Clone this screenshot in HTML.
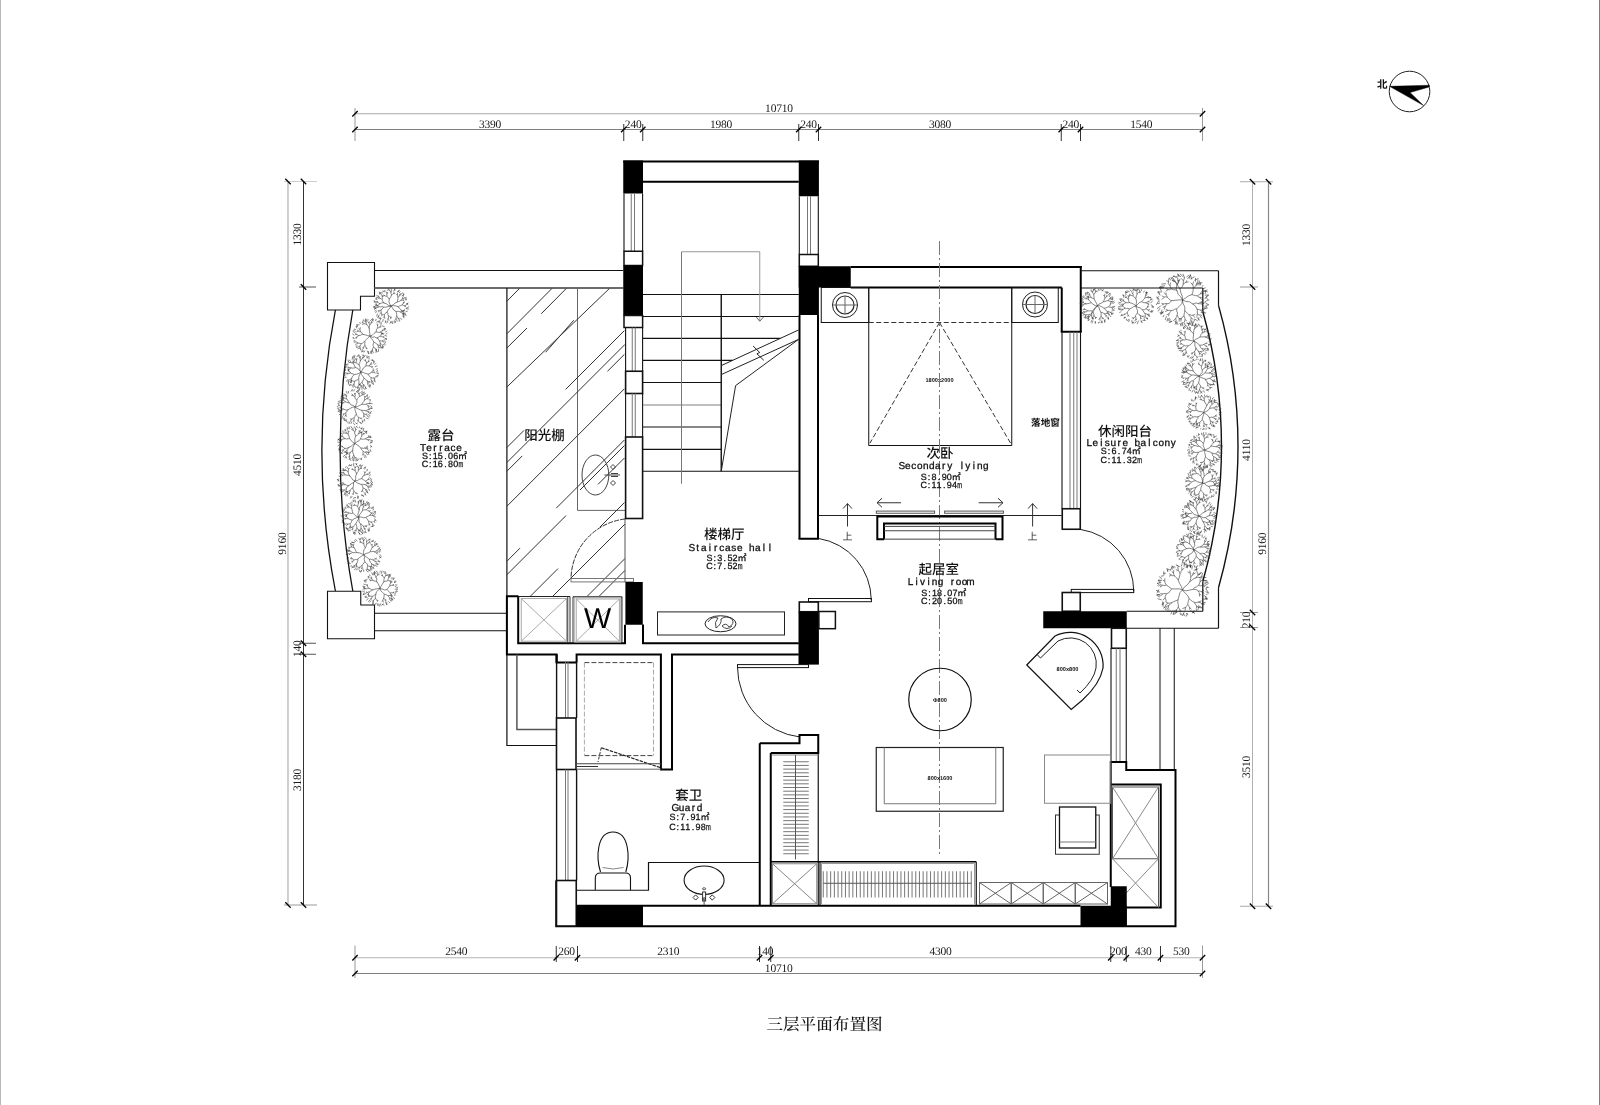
<!DOCTYPE html>
<html lang="zh"><head><meta charset="utf-8"><title>三层平面布置图</title>
<style>
html,body{margin:0;padding:0;background:#fff}
body{width:1600px;height:1105px;overflow:hidden}
svg{display:block;will-change:transform}
text{fill:#111;text-rendering:geometricPrecision}
.dim{font-family:"Liberation Serif","Noto Serif CJK SC",serif;font-size:11.5px;letter-spacing:-0.2px;fill:#1a1a1a}
.title{font-family:"Liberation Serif","Noto Serif CJK SC",serif;font-size:16.6px;fill:#111;font-weight:500}
.north{font-family:"Liberation Sans","Noto Sans CJK SC",sans-serif;font-size:10.5px;font-weight:700}
.cn{font-family:"Liberation Sans","Noto Sans CJK SC",sans-serif;font-size:13.5px;font-weight:500}
.cn2{font-family:"Liberation Sans","Noto Sans CJK SC",sans-serif;font-size:9.6px;font-weight:700}
.en{font-family:"Liberation Sans","Noto Sans CJK SC",sans-serif;font-size:10px;stroke:#111;stroke-width:0.3px}
.sm{font-family:"Liberation Sans","Noto Sans CJK SC",sans-serif;font-size:9px;stroke:#111;stroke-width:0.28px}
.tiny{font-family:"Liberation Sans","Noto Sans CJK SC",sans-serif;font-size:5.6px;fill:#111;font-weight:700}
.up{font-family:"Liberation Sans","Noto Sans CJK SC",sans-serif;font-size:10px;fill:#333;font-weight:400}
.bigw{font-family:"Liberation Sans","Noto Sans CJK SC",sans-serif;font-size:28.8px;fill:#000}
</style></head><body>
<svg width="1600" height="1105" viewBox="0 0 1600 1105">
<rect x="0" y="0" width="1600" height="1105" fill="#fff"/>
<rect x="0" y="0" width="1" height="1105" fill="#b8b8b8"/><rect x="1599" y="0" width="1" height="1105" fill="#808080"/>
<line x1="355" y1="113.75" x2="1202.5" y2="113.75" stroke="#a8a8a8" stroke-width="1"/>
<line x1="355" y1="129.5" x2="1202.5" y2="129.5" stroke="#808080" stroke-width="1"/>
<line x1="355" y1="108" x2="355" y2="141" stroke="#999" stroke-width="1"/>
<line x1="1202.5" y1="108" x2="1202.5" y2="141" stroke="#999" stroke-width="1"/>
<line x1="623.75" y1="124" x2="623.75" y2="141" stroke="#333" stroke-width="1"/>
<line x1="642.75" y1="124" x2="642.75" y2="141" stroke="#333" stroke-width="1"/>
<line x1="798.75" y1="124" x2="798.75" y2="141" stroke="#333" stroke-width="1"/>
<line x1="818.5" y1="124" x2="818.5" y2="141" stroke="#333" stroke-width="1"/>
<line x1="1061.25" y1="124" x2="1061.25" y2="141" stroke="#333" stroke-width="1"/>
<line x1="1080.5" y1="124" x2="1080.5" y2="141" stroke="#333" stroke-width="1"/>
<line x1="352.3" y1="116.45" x2="357.7" y2="111.05" stroke="#000" stroke-width="1.3"/>
<line x1="1199.8" y1="116.45" x2="1205.2" y2="111.05" stroke="#000" stroke-width="1.3"/>
<line x1="352.3" y1="132.2" x2="357.7" y2="126.8" stroke="#000" stroke-width="1.3"/>
<line x1="621.05" y1="132.2" x2="626.45" y2="126.8" stroke="#000" stroke-width="1.3"/>
<line x1="640.05" y1="132.2" x2="645.45" y2="126.8" stroke="#000" stroke-width="1.3"/>
<line x1="796.05" y1="132.2" x2="801.45" y2="126.8" stroke="#000" stroke-width="1.3"/>
<line x1="815.8" y1="132.2" x2="821.2" y2="126.8" stroke="#000" stroke-width="1.3"/>
<line x1="1058.55" y1="132.2" x2="1063.95" y2="126.8" stroke="#000" stroke-width="1.3"/>
<line x1="1077.8" y1="132.2" x2="1083.2" y2="126.8" stroke="#000" stroke-width="1.3"/>
<line x1="1199.8" y1="132.2" x2="1205.2" y2="126.8" stroke="#000" stroke-width="1.3"/>
<text x="779" y="111.7" class="dim" text-anchor="middle">10710</text>
<text x="490" y="127.7" class="dim" text-anchor="middle">3390</text>
<text x="633.2" y="127.7" class="dim" text-anchor="middle">240</text>
<text x="721" y="127.7" class="dim" text-anchor="middle">1980</text>
<text x="808.5" y="127.7" class="dim" text-anchor="middle">240</text>
<text x="940" y="127.7" class="dim" text-anchor="middle">3080</text>
<text x="1070.75" y="127.7" class="dim" text-anchor="middle">240</text>
<text x="1141.25" y="127.7" class="dim" text-anchor="middle">1540</text>
<line x1="355" y1="957.75" x2="1202.5" y2="957.75" stroke="#b4b4b4" stroke-width="1"/>
<line x1="355" y1="973.5" x2="1202.5" y2="973.5" stroke="#808080" stroke-width="1"/>
<line x1="355" y1="945.5" x2="355" y2="978" stroke="#999" stroke-width="1"/>
<line x1="1202.5" y1="945.5" x2="1202.5" y2="978" stroke="#999" stroke-width="1"/>
<line x1="556.25" y1="946" x2="556.25" y2="962" stroke="#333" stroke-width="1"/>
<line x1="577.5" y1="946" x2="577.5" y2="962" stroke="#333" stroke-width="1"/>
<line x1="759.5" y1="946" x2="759.5" y2="962" stroke="#333" stroke-width="1"/>
<line x1="770.75" y1="946" x2="770.75" y2="962" stroke="#333" stroke-width="1"/>
<line x1="1110.75" y1="946" x2="1110.75" y2="962" stroke="#333" stroke-width="1"/>
<line x1="1126.25" y1="946" x2="1126.25" y2="962" stroke="#333" stroke-width="1"/>
<line x1="1160.5" y1="946" x2="1160.5" y2="962" stroke="#333" stroke-width="1"/>
<line x1="352.3" y1="976.2" x2="357.7" y2="970.8" stroke="#000" stroke-width="1.3"/>
<line x1="1199.8" y1="976.2" x2="1205.2" y2="970.8" stroke="#000" stroke-width="1.3"/>
<line x1="352.3" y1="960.45" x2="357.7" y2="955.05" stroke="#000" stroke-width="1.3"/>
<line x1="553.55" y1="960.45" x2="558.95" y2="955.05" stroke="#000" stroke-width="1.3"/>
<line x1="574.8" y1="960.45" x2="580.2" y2="955.05" stroke="#000" stroke-width="1.3"/>
<line x1="756.8" y1="960.45" x2="762.2" y2="955.05" stroke="#000" stroke-width="1.3"/>
<line x1="768.05" y1="960.45" x2="773.45" y2="955.05" stroke="#000" stroke-width="1.3"/>
<line x1="1108.05" y1="960.45" x2="1113.45" y2="955.05" stroke="#000" stroke-width="1.3"/>
<line x1="1123.55" y1="960.45" x2="1128.95" y2="955.05" stroke="#000" stroke-width="1.3"/>
<line x1="1157.8" y1="960.45" x2="1163.2" y2="955.05" stroke="#000" stroke-width="1.3"/>
<line x1="1199.8" y1="960.45" x2="1205.2" y2="955.05" stroke="#000" stroke-width="1.3"/>
<text x="456.25" y="955.2" class="dim" text-anchor="middle">2540</text>
<text x="566.5" y="955.2" class="dim" text-anchor="middle">260</text>
<text x="668.25" y="955.2" class="dim" text-anchor="middle">2310</text>
<text x="765" y="955.2" class="dim" text-anchor="middle">140</text>
<text x="940.5" y="955.2" class="dim" text-anchor="middle">4300</text>
<text x="1118.25" y="955.2" class="dim" text-anchor="middle">200</text>
<text x="1143.25" y="955.2" class="dim" text-anchor="middle">430</text>
<text x="1181.25" y="955.2" class="dim" text-anchor="middle">530</text>
<text x="778.75" y="971.7" class="dim" text-anchor="middle">10710</text>
<line x1="288" y1="181.5" x2="288" y2="905" stroke="#b0b0b0" stroke-width="1.2"/>
<line x1="303.5" y1="181.5" x2="303.5" y2="905" stroke="#333" stroke-width="1"/>
<line x1="284" y1="181.5" x2="317" y2="181.5" stroke="#ccc" stroke-width="1"/>
<line x1="284" y1="905" x2="317" y2="905" stroke="#999" stroke-width="1"/>
<line x1="299" y1="287" x2="316" y2="287" stroke="#555" stroke-width="1"/>
<line x1="299" y1="643.25" x2="316" y2="643.25" stroke="#555" stroke-width="1"/>
<line x1="299" y1="654.25" x2="316" y2="654.25" stroke="#555" stroke-width="1"/>
<line x1="285.3" y1="178.8" x2="290.7" y2="184.2" stroke="#000" stroke-width="1.3"/>
<line x1="285.3" y1="902.3" x2="290.7" y2="907.7" stroke="#000" stroke-width="1.3"/>
<line x1="300.8" y1="178.8" x2="306.2" y2="184.2" stroke="#000" stroke-width="1.3"/>
<line x1="300.8" y1="284.3" x2="306.2" y2="289.7" stroke="#000" stroke-width="1.3"/>
<line x1="300.8" y1="640.55" x2="306.2" y2="645.95" stroke="#000" stroke-width="1.3"/>
<line x1="300.8" y1="651.55" x2="306.2" y2="656.95" stroke="#000" stroke-width="1.3"/>
<line x1="300.8" y1="902.3" x2="306.2" y2="907.7" stroke="#000" stroke-width="1.3"/>
<text x="301.3" y="234.5" class="dim" text-anchor="middle" transform="rotate(-90 301.3 234.5)">1330</text>
<text x="301.3" y="465" class="dim" text-anchor="middle" transform="rotate(-90 301.3 465)">4510</text>
<text x="301.3" y="648.75" class="dim" text-anchor="middle" transform="rotate(-90 301.3 648.75)">140</text>
<text x="301.3" y="780" class="dim" text-anchor="middle" transform="rotate(-90 301.3 780)">3180</text>
<text x="286.3" y="543.6" class="dim" text-anchor="middle" transform="rotate(-90 286.3 543.6)">9160</text>
<line x1="1252.5" y1="181.75" x2="1252.5" y2="906.25" stroke="#b0b0b0" stroke-width="1"/>
<line x1="1268.5" y1="181.75" x2="1268.5" y2="906.25" stroke="#888" stroke-width="1.2"/>
<line x1="1240" y1="181.75" x2="1273" y2="181.75" stroke="#aaa" stroke-width="1"/>
<line x1="1240" y1="906.25" x2="1273" y2="906.25" stroke="#aaa" stroke-width="1"/>
<line x1="1240" y1="287" x2="1258" y2="287" stroke="#999" stroke-width="1"/>
<line x1="1240" y1="612.5" x2="1258" y2="612.5" stroke="#999" stroke-width="1"/>
<line x1="1240" y1="627.5" x2="1258" y2="627.5" stroke="#999" stroke-width="1"/>
<line x1="1265.8" y1="179.05" x2="1271.2" y2="184.45" stroke="#000" stroke-width="1.3"/>
<line x1="1265.8" y1="903.55" x2="1271.2" y2="908.95" stroke="#000" stroke-width="1.3"/>
<line x1="1249.8" y1="179.05" x2="1255.2" y2="184.45" stroke="#000" stroke-width="1.3"/>
<line x1="1249.8" y1="284.3" x2="1255.2" y2="289.7" stroke="#000" stroke-width="1.3"/>
<line x1="1249.8" y1="609.8" x2="1255.2" y2="615.2" stroke="#000" stroke-width="1.3"/>
<line x1="1249.8" y1="624.8" x2="1255.2" y2="630.2" stroke="#000" stroke-width="1.3"/>
<line x1="1249.8" y1="903.55" x2="1255.2" y2="908.95" stroke="#000" stroke-width="1.3"/>
<text x="1250.3" y="235" class="dim" text-anchor="middle" transform="rotate(-90 1250.3 235)">1330</text>
<text x="1250.3" y="450" class="dim" text-anchor="middle" transform="rotate(-90 1250.3 450)">4110</text>
<text x="1250.3" y="620" class="dim" text-anchor="middle" transform="rotate(-90 1250.3 620)">210</text>
<text x="1250.3" y="767" class="dim" text-anchor="middle" transform="rotate(-90 1250.3 767)">3510</text>
<text x="1266.2" y="543.75" class="dim" text-anchor="middle" transform="rotate(-90 1266.2 543.75)">9160</text>
<circle cx="1409.55" cy="91.5" r="20.3" fill="none" stroke="#222" stroke-width="1"/>
<path d="M1389.4 86.3 L1429.3 85.2 L1429.3 86.9 L1410.1 92.6 L1423.6 105.6 Z" fill="#000" stroke="#000" stroke-width="0.4" stroke-linejoin="miter"/>
<text x="1382.25" y="88.1" class="north" text-anchor="middle">北</text>
<text x="824.5" y="1030" class="title" text-anchor="middle">三层平面布置图</text>
<path d="M327.5 262.5 L374.5 262.5 L374.5 296.25 L360.5 296.25 L360.5 310 L327.5 310 Z" fill="none" stroke="#111" stroke-width="1.1" stroke-linejoin="miter"/>
<path d="M327.5 591.25 L360.75 591.25 L360.75 605 L374.5 605 L374.5 638.75 L327.5 638.75 Z" fill="none" stroke="#111" stroke-width="1.1" stroke-linejoin="miter"/>
<line x1="374.5" y1="270.5" x2="623.25" y2="270.5" stroke="#111" stroke-width="1.2"/>
<line x1="374.5" y1="288" x2="623.25" y2="288" stroke="#6a6a6a" stroke-width="1.8"/>
<line x1="374.5" y1="613.25" x2="507" y2="613.25" stroke="#111" stroke-width="1.2"/>
<line x1="374.5" y1="630.75" x2="507" y2="630.75" stroke="#111" stroke-width="1.2"/>
<path d="M335.4 310 A743 743 0 0 0 335.4 591" fill="none" stroke="#111" stroke-width="1.3"/>
<path d="M352.8 310 A790 790 0 0 0 352.8 591" fill="none" stroke="#111" stroke-width="1.3"/>
<line x1="506.9" y1="288" x2="506.9" y2="596" stroke="#111" stroke-width="1.2"/>
<line x1="577.5" y1="288" x2="577.5" y2="510.4" stroke="#666" stroke-width="1"/>
<line x1="577.5" y1="510.4" x2="625" y2="510.4" stroke="#666" stroke-width="1"/>
<line x1="506.9" y1="301.25" x2="519.4" y2="288.5" stroke="#333" stroke-width="1"/>
<line x1="506.9" y1="333.75" x2="551.9" y2="288.5" stroke="#333" stroke-width="1"/>
<line x1="541.25" y1="313.75" x2="566.25" y2="288.5" stroke="#333" stroke-width="1"/>
<line x1="506.9" y1="348" x2="527" y2="328" stroke="#333" stroke-width="1"/>
<line x1="506.9" y1="387" x2="609.4" y2="288.5" stroke="#333" stroke-width="1"/>
<line x1="545.6" y1="352.25" x2="573.75" y2="320.25" stroke="#333" stroke-width="1"/>
<line x1="565.6" y1="389.4" x2="624.4" y2="330.6" stroke="#333" stroke-width="1"/>
<line x1="506.9" y1="462.5" x2="625" y2="344.4" stroke="#333" stroke-width="1"/>
<line x1="607.5" y1="371.25" x2="624.4" y2="354.4" stroke="#333" stroke-width="1"/>
<line x1="506.9" y1="506.25" x2="624.4" y2="388.75" stroke="#333" stroke-width="1"/>
<line x1="506.9" y1="447.5" x2="524" y2="430.4" stroke="#333" stroke-width="1"/>
<line x1="506.9" y1="471.25" x2="522.25" y2="455.9" stroke="#333" stroke-width="1"/>
<line x1="556.25" y1="508.15" x2="624.4" y2="440" stroke="#333" stroke-width="1"/>
<line x1="580" y1="490" x2="624.4" y2="445.6" stroke="#333" stroke-width="1"/>
<line x1="598" y1="484.4" x2="624.4" y2="458" stroke="#333" stroke-width="1"/>
<line x1="506.9" y1="574.7" x2="566" y2="515.6" stroke="#333" stroke-width="1"/>
<line x1="600" y1="527" x2="624.4" y2="502.6" stroke="#333" stroke-width="1"/>
<line x1="553" y1="596" x2="625" y2="524" stroke="#333" stroke-width="1"/>
<line x1="506.9" y1="561.25" x2="520" y2="548.15" stroke="#333" stroke-width="1"/>
<line x1="530.6" y1="596" x2="558" y2="568.6" stroke="#333" stroke-width="1"/>
<line x1="587.5" y1="596" x2="625" y2="558.5" stroke="#333" stroke-width="1"/>
<line x1="599.4" y1="596" x2="625" y2="570.4" stroke="#333" stroke-width="1"/>
<ellipse cx="595.4" cy="475" rx="13.4" ry="20" fill="none" stroke="#444" stroke-width="1"/>
<line x1="604.4" y1="475" x2="620" y2="475" stroke="#444" stroke-width="1"/>
<line x1="611" y1="473.5" x2="618" y2="473.5" stroke="#444" stroke-width="1"/>
<line x1="611" y1="476.5" x2="618" y2="476.5" stroke="#444" stroke-width="1"/>
<path d="M613 464.5 L615.5 467 L613 469.5 L610.5 467 Z" fill="none" stroke="#444" stroke-width="1" stroke-linejoin="miter"/>
<path d="M613 480.5 L615.5 483 L613 485.5 L610.5 483 Z" fill="none" stroke="#444" stroke-width="1" stroke-linejoin="miter"/>
<path d="M625 519 A61 61 0 0 0 571 579" fill="none" stroke="#333" stroke-width="1" stroke-dasharray="5 1.2"/>
<rect x="571" y="578.5" width="62.5" height="3.4" fill="none" stroke="#777" stroke-width="1"/>
<line x1="625" y1="518.5" x2="625" y2="582" stroke="#555" stroke-width="1"/>
<rect x="623.25" y="160.5" width="19.75" height="33" fill="#000"/>
<rect x="798.75" y="160.5" width="20.15" height="35.75" fill="#000"/>
<line x1="623.25" y1="161.5" x2="818.9" y2="161.5" stroke="#000" stroke-width="2"/>
<line x1="643" y1="181.75" x2="798.75" y2="181.75" stroke="#000" stroke-width="2"/>
<line x1="624" y1="193.5" x2="624" y2="251.25" stroke="#111" stroke-width="1.1"/>
<line x1="642.6" y1="193.5" x2="642.6" y2="251.25" stroke="#111" stroke-width="1.1"/>
<line x1="631.25" y1="193.5" x2="631.25" y2="251.25" stroke="#777" stroke-width="1"/>
<line x1="634.5" y1="193.5" x2="634.5" y2="251.25" stroke="#777" stroke-width="1"/>
<rect x="624" y="251.25" width="18.6" height="14.25" fill="#fff" stroke="#111" stroke-width="1.5"/>
<rect x="623.25" y="265.5" width="19.75" height="50" fill="#000"/>
<rect x="624" y="315.5" width="18.6" height="12" fill="#fff" stroke="#111" stroke-width="1.5"/>
<line x1="625.6" y1="327.5" x2="625.6" y2="371.25" stroke="#111" stroke-width="1.1"/>
<line x1="642.6" y1="327.5" x2="642.6" y2="371.25" stroke="#111" stroke-width="1.1"/>
<line x1="632.25" y1="327.5" x2="632.25" y2="371.25" stroke="#777" stroke-width="1"/>
<line x1="635.25" y1="327.5" x2="635.25" y2="371.25" stroke="#777" stroke-width="1"/>
<rect x="625.6" y="371.25" width="17" height="22.25" fill="#fff" stroke="#111" stroke-width="1.6"/>
<line x1="625.6" y1="393.5" x2="625.6" y2="437" stroke="#111" stroke-width="1.1"/>
<line x1="642.6" y1="393.5" x2="642.6" y2="437" stroke="#111" stroke-width="1.1"/>
<line x1="632.25" y1="393.5" x2="632.25" y2="437" stroke="#777" stroke-width="1"/>
<line x1="635.25" y1="393.5" x2="635.25" y2="437" stroke="#777" stroke-width="1"/>
<rect x="625.6" y="437" width="17" height="81.5" fill="#fff" stroke="#111" stroke-width="1.6"/>
<rect x="625.4" y="582" width="17.35" height="42.75" fill="#000"/>
<line x1="799.3" y1="196.25" x2="799.3" y2="254.5" stroke="#111" stroke-width="1.1"/>
<line x1="818.3" y1="196.25" x2="818.3" y2="254.5" stroke="#111" stroke-width="1.1"/>
<line x1="807.5" y1="196.25" x2="807.5" y2="254.5" stroke="#777" stroke-width="1"/>
<line x1="810.5" y1="196.25" x2="810.5" y2="254.5" stroke="#777" stroke-width="1"/>
<rect x="799.3" y="254.5" width="19" height="11.75" fill="#fff" stroke="#111" stroke-width="1.5"/>
<rect x="798.75" y="266.25" width="20.15" height="48.75" fill="#000"/>
<rect x="798.75" y="266.25" width="52" height="21.25" fill="#000"/>
<line x1="799.5" y1="315" x2="799.5" y2="538.75" stroke="#000" stroke-width="2"/>
<line x1="818" y1="315" x2="818" y2="538.75" stroke="#000" stroke-width="2"/>
<line x1="798.5" y1="538.75" x2="819" y2="538.75" stroke="#000" stroke-width="2"/>
<line x1="643" y1="294.5" x2="798.75" y2="294.5" stroke="#111" stroke-width="1.2"/>
<line x1="643" y1="316.5" x2="798.75" y2="316.5" stroke="#111" stroke-width="1.2"/>
<line x1="643" y1="338.4" x2="780.6" y2="338.4" stroke="#111" stroke-width="1.2"/>
<line x1="643" y1="360.4" x2="733" y2="360.4" stroke="#111" stroke-width="1.2"/>
<line x1="643" y1="382.5" x2="721.25" y2="382.5" stroke="#111" stroke-width="1.2"/>
<line x1="643" y1="427" x2="721.25" y2="427" stroke="#111" stroke-width="1.2"/>
<line x1="643" y1="449.4" x2="721.25" y2="449.4" stroke="#111" stroke-width="1.2"/>
<line x1="643" y1="405" x2="721.25" y2="405" stroke="#aaa" stroke-width="1.3"/>
<line x1="643" y1="471.25" x2="798.75" y2="471.25" stroke="#111" stroke-width="1.2"/>
<line x1="721.25" y1="294.5" x2="721.25" y2="471.25" stroke="#111" stroke-width="1.4"/>
<line x1="681.5" y1="251.75" x2="681.5" y2="483.75" stroke="#777" stroke-width="1"/>
<line x1="681.5" y1="251.75" x2="759.75" y2="251.75" stroke="#999" stroke-width="1"/>
<line x1="759.75" y1="251.75" x2="759.75" y2="321" stroke="#999" stroke-width="1"/>
<path d="M756.25 317 L759.75 321.25 L763.5 317" fill="none" stroke="#666" stroke-width="1" stroke-linejoin="miter"/>
<line x1="721.25" y1="365.6" x2="798.5" y2="330" stroke="#222" stroke-width="1"/>
<line x1="721.25" y1="374.6" x2="798.5" y2="339.4" stroke="#222" stroke-width="1"/>
<path d="M753.1 346 L759.75 352.5 L756.9 353.75 L763.75 360.25" fill="none" stroke="#222" stroke-width="1" stroke-linejoin="miter"/>
<path d="M798.5 339.4 L735.6 385.6 L721.25 471.25" fill="none" stroke="#222" stroke-width="1" stroke-linejoin="miter"/>
<line x1="850.75" y1="267" x2="1081.75" y2="267" stroke="#000" stroke-width="2"/>
<line x1="850.75" y1="287.5" x2="1061.75" y2="287.5" stroke="#000" stroke-width="2"/>
<line x1="1080.75" y1="266" x2="1080.75" y2="331.75" stroke="#000" stroke-width="2"/>
<line x1="1061.75" y1="287.5" x2="1061.75" y2="331.75" stroke="#000" stroke-width="2"/>
<line x1="1060.75" y1="331.75" x2="1081.75" y2="331.75" stroke="#000" stroke-width="2"/>
<line x1="1062" y1="331.75" x2="1062" y2="508.75" stroke="#111" stroke-width="1.1"/>
<line x1="1080.5" y1="331.75" x2="1080.5" y2="508.75" stroke="#111" stroke-width="1.1"/>
<line x1="1070" y1="331.75" x2="1070" y2="508.75" stroke="#777" stroke-width="1"/>
<line x1="1073.75" y1="331.75" x2="1073.75" y2="508.75" stroke="#777" stroke-width="1"/>
<line x1="1077" y1="331.75" x2="1077" y2="508.75" stroke="#777" stroke-width="1"/>
<rect x="1062.25" y="508.75" width="18" height="20.5" fill="#fff" stroke="#111" stroke-width="1.6"/>
<line x1="818.75" y1="515.5" x2="1061.75" y2="515.5" stroke="#222" stroke-width="1"/>
<rect x="821.25" y="287.5" width="47.5" height="35" fill="none" stroke="#111" stroke-width="1"/>
<rect x="1011.75" y="287.5" width="46.5" height="35" fill="none" stroke="#111" stroke-width="1"/>
<circle cx="845" cy="305" r="12.5" fill="none" stroke="#222" stroke-width="1"/>
<circle cx="845" cy="305" r="9" fill="none" stroke="#222" stroke-width="1.2"/>
<line x1="833" y1="305" x2="857" y2="305" stroke="#666" stroke-width="1"/>
<line x1="845" y1="296" x2="845" y2="314" stroke="#666" stroke-width="1"/>
<circle cx="1035" cy="304.5" r="12.5" fill="none" stroke="#222" stroke-width="1"/>
<circle cx="1035" cy="304.5" r="9" fill="none" stroke="#222" stroke-width="1.2"/>
<line x1="1023" y1="304.5" x2="1047" y2="304.5" stroke="#666" stroke-width="1"/>
<line x1="1035" y1="295.5" x2="1035" y2="313.5" stroke="#666" stroke-width="1"/>
<line x1="868.75" y1="287.5" x2="868.75" y2="445.5" stroke="#111" stroke-width="1"/>
<line x1="1011.75" y1="287.5" x2="1011.75" y2="445.5" stroke="#111" stroke-width="1"/>
<line x1="868.75" y1="445.5" x2="1011.75" y2="445.5" stroke="#111" stroke-width="1"/>
<line x1="868.75" y1="322.5" x2="1011.75" y2="322.5" stroke="#333" stroke-width="1" stroke-dasharray="5 2.5"/>
<line x1="939.5" y1="322.5" x2="870" y2="443" stroke="#333" stroke-width="1" stroke-dasharray="5 2.5"/>
<line x1="939.5" y1="322.5" x2="1010.5" y2="443" stroke="#333" stroke-width="1" stroke-dasharray="5 2.5"/>
<text x="939.5" y="381.5" class="tiny" text-anchor="middle">1800x2000</text>
<line x1="939.5" y1="241" x2="939.5" y2="856" stroke="#777" stroke-width="1" stroke-dasharray="14 3 2 3"/>
<rect x="876.35" y="511.1" width="58.25" height="2.15" fill="none" stroke="#555" stroke-width="1"/>
<rect x="944.6" y="511.1" width="58.8" height="2.15" fill="none" stroke="#555" stroke-width="1"/>
<path d="M884 539.15 L877.3 539.15 L877.3 516.4 L1002.5 516.4 L1002.5 539.15 L995.5 539.15" fill="none" stroke="#000" stroke-width="2" stroke-linejoin="miter"/>
<path d="M884 539.15 L884 523.4 L995.5 523.4 L995.5 539.15" fill="none" stroke="#000" stroke-width="2" stroke-linejoin="miter"/>
<line x1="884" y1="526.4" x2="995.5" y2="526.4" stroke="#444" stroke-width="1"/>
<line x1="884" y1="530.75" x2="995.5" y2="530.75" stroke="#444" stroke-width="1"/>
<line x1="884" y1="539.15" x2="995.5" y2="539.15" stroke="#444" stroke-width="1"/>
<line x1="877" y1="502.75" x2="901" y2="502.75" stroke="#333" stroke-width="1"/>
<path d="M882 498.25 L877 502.75 L882 507.25" fill="none" stroke="#333" stroke-width="1" stroke-linejoin="miter"/>
<line x1="978.7" y1="502.75" x2="1003" y2="502.75" stroke="#333" stroke-width="1"/>
<path d="M998 498.25 L1003 502.75 L998 507.25" fill="none" stroke="#333" stroke-width="1" stroke-linejoin="miter"/>
<line x1="847.5" y1="503.6" x2="847.5" y2="526.5" stroke="#333" stroke-width="1"/>
<path d="M843 508.6 L847.5 503.6 L852 508.6" fill="none" stroke="#333" stroke-width="1" stroke-linejoin="miter"/>
<text x="847.5" y="539.6" class="up" text-anchor="middle">上</text>
<line x1="1032.6" y1="503.6" x2="1032.6" y2="526.5" stroke="#333" stroke-width="1"/>
<path d="M1028.1 508.6 L1032.6 503.6 L1037.1 508.6" fill="none" stroke="#333" stroke-width="1" stroke-linejoin="miter"/>
<text x="1032.6" y="539.6" class="up" text-anchor="middle">上</text>
<line x1="1080.75" y1="270.75" x2="1218.5" y2="270.75" stroke="#111" stroke-width="1.2"/>
<line x1="1080.75" y1="288" x2="1202.8" y2="288" stroke="#111" stroke-width="1.2"/>
<line x1="1218.5" y1="270.75" x2="1218.5" y2="305.4" stroke="#111" stroke-width="1.2"/>
<line x1="1202.8" y1="288" x2="1202.8" y2="311.5" stroke="#111" stroke-width="1.2"/>
<path d="M1218.5 305.4 A520.6 520.6 0 0 1 1218.5 587.7" fill="none" stroke="#111" stroke-width="1.4"/>
<path d="M1202.8 311.5 A496.7 496.7 0 0 1 1202.8 581.5" fill="none" stroke="#111" stroke-width="1.4"/>
<line x1="1218.5" y1="587.7" x2="1218.5" y2="628.25" stroke="#111" stroke-width="1.2"/>
<line x1="1202.8" y1="581.5" x2="1202.8" y2="611.25" stroke="#111" stroke-width="1.2"/>
<line x1="1126.75" y1="611.25" x2="1202.8" y2="611.25" stroke="#111" stroke-width="1.2"/>
<line x1="1126.75" y1="628.25" x2="1218.5" y2="628.25" stroke="#111" stroke-width="1.2"/>
<path d="M1080.75 529.5 A62.5 62.5 0 0 1 1133.75 591.25" fill="none" stroke="#222" stroke-width="1"/>
<rect x="1071.25" y="589.4" width="62.5" height="3.2" fill="none" stroke="#111" stroke-width="1"/>
<rect x="1062.25" y="592.5" width="18" height="18.75" fill="#fff" stroke="#111" stroke-width="1.6"/>
<rect x="1043.25" y="611.25" width="83.5" height="17" fill="#000"/>
<rect x="1111.5" y="628.25" width="14.75" height="20" fill="#fff" stroke="#111" stroke-width="1.6"/>
<line x1="1111" y1="648.25" x2="1111" y2="761.25" stroke="#111" stroke-width="1.1"/>
<line x1="1126.25" y1="648.25" x2="1126.25" y2="761.25" stroke="#111" stroke-width="1.1"/>
<line x1="1116.25" y1="648.25" x2="1116.25" y2="761.25" stroke="#777" stroke-width="1"/>
<line x1="1120" y1="648.25" x2="1120" y2="761.25" stroke="#777" stroke-width="1"/>
<line x1="1160" y1="628.25" x2="1160" y2="770" stroke="#111" stroke-width="1"/>
<line x1="1174.25" y1="628.25" x2="1174.25" y2="770" stroke="#111" stroke-width="1"/>
<path d="M1110.75 762 L1126.25 762 L1126.25 770 L1175.5 770 L1175.5 926.25 L556.25 926.25 L556.25 880.5" fill="none" stroke="#000" stroke-width="2" stroke-linejoin="miter"/>
<line x1="1110.75" y1="761" x2="1110.75" y2="887" stroke="#000" stroke-width="2"/>
<path d="M1110.75 784.5 L1160.75 784.5 L1160.75 907.5 L1126.75 907.5" fill="none" stroke="#000" stroke-width="2" stroke-linejoin="miter"/>
<line x1="576.25" y1="905.75" x2="1080.5" y2="905.75" stroke="#000" stroke-width="2"/>
<rect x="1112.5" y="787" width="46" height="71.75" fill="none" stroke="#555" stroke-width="1"/>
<line x1="1112.5" y1="787" x2="1158.5" y2="858.75" stroke="#8a8a8a" stroke-width="1"/>
<line x1="1112.5" y1="858.75" x2="1158.5" y2="787" stroke="#8a8a8a" stroke-width="1"/>
<line x1="1112.5" y1="858.75" x2="1158.5" y2="907.5" stroke="#8a8a8a" stroke-width="1"/>
<line x1="1112.5" y1="907.5" x2="1158.5" y2="858.75" stroke="#8a8a8a" stroke-width="1"/>
<line x1="1158.5" y1="858.75" x2="1158.5" y2="907.5" stroke="#555" stroke-width="1"/>
<rect x="1110.75" y="886.25" width="16" height="40" fill="#000"/>
<rect x="1080.5" y="905.75" width="46.25" height="20.5" fill="#000"/>
<rect x="979.5" y="882.5" width="31.75" height="21.5" fill="none" stroke="#666" stroke-width="1"/>
<line x1="979.5" y1="882.5" x2="1011.25" y2="904" stroke="#666" stroke-width="1"/>
<line x1="979.5" y1="904" x2="1011.25" y2="882.5" stroke="#666" stroke-width="1"/>
<rect x="1011.25" y="882.5" width="32" height="21.5" fill="none" stroke="#666" stroke-width="1"/>
<line x1="1011.25" y1="882.5" x2="1043.25" y2="904" stroke="#666" stroke-width="1"/>
<line x1="1011.25" y1="904" x2="1043.25" y2="882.5" stroke="#666" stroke-width="1"/>
<rect x="1043.25" y="882.5" width="32" height="21.5" fill="none" stroke="#666" stroke-width="1"/>
<line x1="1043.25" y1="882.5" x2="1075.25" y2="904" stroke="#666" stroke-width="1"/>
<line x1="1043.25" y1="904" x2="1075.25" y2="882.5" stroke="#666" stroke-width="1"/>
<rect x="1075.25" y="882.5" width="32.25" height="21.5" fill="none" stroke="#666" stroke-width="1"/>
<line x1="1075.25" y1="882.5" x2="1107.5" y2="904" stroke="#666" stroke-width="1"/>
<line x1="1075.25" y1="904" x2="1107.5" y2="882.5" stroke="#666" stroke-width="1"/>
<rect x="1044.5" y="755" width="66.25" height="48.25" fill="none" stroke="#888" stroke-width="1"/>
<rect x="1055.5" y="815" width="43.75" height="39.25" fill="none" stroke="#333" stroke-width="1"/>
<rect x="1059.5" y="807" width="36.25" height="41" fill="#fff" stroke="#111" stroke-width="1.3"/>
<line x1="1059.5" y1="842" x2="1095.75" y2="842" stroke="#777" stroke-width="1"/>
<rect x="876.25" y="747.5" width="127" height="63.75" fill="none" stroke="#222" stroke-width="1.2"/>
<path d="M884.25 747.5 L884.25 803.75 L995.75 803.75 L995.75 747.5" fill="none" stroke="#777" stroke-width="1" stroke-linejoin="miter"/>
<text x="940" y="779.5" class="tiny" text-anchor="middle">800x1600</text>
<circle cx="940" cy="699.5" r="31.25" fill="none" stroke="#111" stroke-width="1.2"/>
<text x="940" y="702" class="tiny" text-anchor="middle">Φ800</text>
<path d="M1026.75 665 L1055 636 A33 33 0 0 1 1103 668 Q1100 684 1082.5 700 L1071.25 709.5 Z" fill="none" stroke="#111" stroke-width="1.2"/>
<path d="M1037.5 655 L1040.5 658 L1058 641 A26 26 0 0 1 1096 668 Q1094 680 1080 693 L1077 690" fill="none" stroke="#222" stroke-width="1"/>
<text x="1067.5" y="671" class="tiny" text-anchor="middle">800x800</text>
<rect x="799.3" y="602" width="19" height="9.75" fill="#fff" stroke="#111" stroke-width="1.6"/>
<rect x="798.5" y="611.7" width="20.4" height="52.9" fill="#000"/>
<rect x="818.9" y="611.5" width="16.5" height="17.2" fill="none" stroke="#111" stroke-width="1.5"/>
<path d="M818.75 538.5 A62.5 62.5 0 0 1 871.25 600" fill="none" stroke="#222" stroke-width="1"/>
<rect x="808.5" y="598.5" width="62.9" height="3.2" fill="none" stroke="#111" stroke-width="1"/>
<rect x="657.5" y="611.9" width="127" height="23.1" fill="none" stroke="#222" stroke-width="1"/>
<ellipse cx="720.5" cy="623.75" rx="15.5" ry="8" fill="none" stroke="#222" stroke-width="1"/>
<path d="M708 622 Q712 616 718 618 Q714 622 716 628 Q722 624 721 619 Q726 615 732 619 Q735 624 729 627 Q726 622 722 626 Q727 631 732 626" fill="none" stroke="#333" stroke-width="0.9"/>
<path d="M737.5 667 A70.5 70.5 0 0 0 800 737" fill="none" stroke="#222" stroke-width="1"/>
<rect x="737.5" y="664.6" width="71" height="3" fill="none" stroke="#111" stroke-width="1"/>
<path d="M518.4 596.25 L506.9 596.25 L506.9 654.5 L556.6 654.5 L556.6 662.5" fill="none" stroke="#000" stroke-width="2" stroke-linejoin="miter"/>
<line x1="518.4" y1="596.5" x2="570" y2="596.5" stroke="#222" stroke-width="1.2"/>
<line x1="573" y1="596.8" x2="621.9" y2="596.8" stroke="#222" stroke-width="1.2"/>
<path d="M518.2 596.25 L518.2 643.25 L625 643.25 L625 624.75" fill="none" stroke="#000" stroke-width="2" stroke-linejoin="miter"/>
<line x1="621.9" y1="596.8" x2="621.9" y2="643.25" stroke="#222" stroke-width="1.1"/>
<line x1="567.75" y1="596.5" x2="567.75" y2="643.25" stroke="#333" stroke-width="1"/>
<line x1="570" y1="596.5" x2="570" y2="643.25" stroke="#333" stroke-width="1"/>
<line x1="573" y1="596.8" x2="573" y2="643.25" stroke="#333" stroke-width="1"/>
<line x1="643" y1="624.5" x2="643" y2="643.25" stroke="#000" stroke-width="2"/>
<line x1="642" y1="643.25" x2="798.75" y2="643.25" stroke="#000" stroke-width="2"/>
<path d="M556.6 654.5 L556.6 662.5 L576.6 662.5" fill="none" stroke="#000" stroke-width="2" stroke-linejoin="miter"/>
<path d="M576.6 662.5 L576.6 654.5 L660.9 654.5 L660.9 769.5 L672 769.5 L672 654.5 L798.75 654.5" fill="none" stroke="#000" stroke-width="2" stroke-linejoin="miter"/>
<rect x="521.25" y="598.5" width="45.25" height="42.7" fill="none" stroke="#aaa" stroke-width="1"/>
<line x1="521.25" y1="598.5" x2="566.5" y2="641.2" stroke="#aaa" stroke-width="1"/>
<line x1="521.25" y1="641.2" x2="566.5" y2="598.5" stroke="#aaa" stroke-width="1"/>
<rect x="576.25" y="599" width="43.15" height="42.2" fill="none" stroke="#aaa" stroke-width="1"/>
<line x1="576.25" y1="599" x2="619.4" y2="641.2" stroke="#aaa" stroke-width="1"/>
<line x1="576.25" y1="641.2" x2="619.4" y2="599" stroke="#aaa" stroke-width="1"/>
<rect x="574.6" y="597.9" width="46" height="44.1" fill="none" stroke="#bbb" stroke-width="1"/>
<text x="597.5" y="627.5" class="bigw" text-anchor="middle">W</text>
<path d="M506.9 654.5 L506.9 745.5 L556.6 745.5" fill="none" stroke="#111" stroke-width="1.2" stroke-linejoin="miter"/>
<path d="M516.9 654.5 L516.9 729.4 L556.6 729.4" fill="none" stroke="#555" stroke-width="1.5" stroke-linejoin="miter"/>
<line x1="556.6" y1="662" x2="556.6" y2="718" stroke="#111" stroke-width="1.4"/>
<line x1="576.6" y1="662" x2="576.6" y2="718" stroke="#111" stroke-width="1.4"/>
<line x1="565.5" y1="662" x2="565.5" y2="718" stroke="#777" stroke-width="1"/>
<line x1="568" y1="662" x2="568" y2="718" stroke="#777" stroke-width="1"/>
<rect x="556.5" y="718" width="19.5" height="51.5" fill="#fff" stroke="#111" stroke-width="1.6"/>
<line x1="556.6" y1="769.5" x2="556.6" y2="880.5" stroke="#111" stroke-width="1.4"/>
<line x1="576.6" y1="769.5" x2="576.6" y2="880.5" stroke="#111" stroke-width="1.4"/>
<line x1="565.5" y1="769.5" x2="565.5" y2="880.5" stroke="#777" stroke-width="1"/>
<line x1="568" y1="769.5" x2="568" y2="880.5" stroke="#777" stroke-width="1"/>
<rect x="556.5" y="880.5" width="19.75" height="45.5" fill="#fff" stroke="#111" stroke-width="1.6"/>
<rect x="576.25" y="905.5" width="66.75" height="20.75" fill="#000"/>
<line x1="584.4" y1="662.6" x2="653.5" y2="662.6" stroke="#444" stroke-width="1" stroke-dasharray="5 2"/>
<line x1="584.4" y1="755.6" x2="653.5" y2="755.6" stroke="#444" stroke-width="1" stroke-dasharray="5 2"/>
<line x1="584.4" y1="662.6" x2="584.4" y2="755.6" stroke="#aaa" stroke-width="1" stroke-dasharray="5 2"/>
<line x1="653.5" y1="662.6" x2="653.5" y2="755.6" stroke="#aaa" stroke-width="1" stroke-dasharray="5 2"/>
<line x1="601.25" y1="747.75" x2="660" y2="767.5" stroke="#222" stroke-width="1.2" stroke-dasharray="3.5 1"/>
<line x1="601.25" y1="747.75" x2="598" y2="762" stroke="#333" stroke-width="1" stroke-dasharray="3 1.5"/>
<line x1="576.9" y1="763.75" x2="661" y2="763.75" stroke="#444" stroke-width="1"/>
<line x1="576.9" y1="769.2" x2="661" y2="769.2" stroke="#666" stroke-width="1"/>
<line x1="577" y1="766.5" x2="598" y2="766.5" stroke="#333" stroke-width="1"/>
<path d="M576.25 890.25 L648.5 890.25 L648.5 862.5 L759.5 862.5" fill="none" stroke="#111" stroke-width="1.2" stroke-linejoin="miter"/>
<line x1="759.75" y1="743.25" x2="759.75" y2="905.75" stroke="#000" stroke-width="2"/>
<line x1="770.75" y1="753" x2="770.75" y2="905.75" stroke="#000" stroke-width="2"/>
<path d="M759.75 743.25 L799.5 743.25 L799.5 735 L818.25 735 L818.25 753 L770.75 753" fill="none" stroke="#000" stroke-width="2" stroke-linejoin="miter"/>
<line x1="818.25" y1="753" x2="818.25" y2="905.75" stroke="#111" stroke-width="1.2"/>
<line x1="771.75" y1="755" x2="818.25" y2="755" stroke="#888" stroke-width="1"/>
<line x1="783.25" y1="761.75" x2="808.75" y2="761.75" stroke="#777" stroke-width="1"/>
<line x1="783.25" y1="765.43" x2="808.75" y2="765.43" stroke="#777" stroke-width="1"/>
<line x1="783.25" y1="769.11" x2="808.75" y2="769.11" stroke="#777" stroke-width="1"/>
<line x1="783.25" y1="772.79" x2="808.75" y2="772.79" stroke="#777" stroke-width="1"/>
<line x1="783.25" y1="776.47" x2="808.75" y2="776.47" stroke="#777" stroke-width="1"/>
<line x1="783.25" y1="780.15" x2="808.75" y2="780.15" stroke="#777" stroke-width="1"/>
<line x1="783.25" y1="783.83" x2="808.75" y2="783.83" stroke="#777" stroke-width="1"/>
<line x1="783.25" y1="787.51" x2="808.75" y2="787.51" stroke="#777" stroke-width="1"/>
<line x1="783.25" y1="791.19" x2="808.75" y2="791.19" stroke="#777" stroke-width="1"/>
<line x1="783.25" y1="794.87" x2="808.75" y2="794.87" stroke="#777" stroke-width="1"/>
<line x1="783.25" y1="798.55" x2="808.75" y2="798.55" stroke="#777" stroke-width="1"/>
<line x1="783.25" y1="802.23" x2="808.75" y2="802.23" stroke="#777" stroke-width="1"/>
<line x1="783.25" y1="805.91" x2="808.75" y2="805.91" stroke="#777" stroke-width="1"/>
<line x1="783.25" y1="809.59" x2="808.75" y2="809.59" stroke="#777" stroke-width="1"/>
<line x1="783.25" y1="813.27" x2="808.75" y2="813.27" stroke="#777" stroke-width="1"/>
<line x1="783.25" y1="816.95" x2="808.75" y2="816.95" stroke="#777" stroke-width="1"/>
<line x1="783.25" y1="820.63" x2="808.75" y2="820.63" stroke="#777" stroke-width="1"/>
<line x1="783.25" y1="824.31" x2="808.75" y2="824.31" stroke="#777" stroke-width="1"/>
<line x1="783.25" y1="827.99" x2="808.75" y2="827.99" stroke="#777" stroke-width="1"/>
<line x1="783.25" y1="831.67" x2="808.75" y2="831.67" stroke="#777" stroke-width="1"/>
<line x1="783.25" y1="835.35" x2="808.75" y2="835.35" stroke="#777" stroke-width="1"/>
<line x1="783.25" y1="839.03" x2="808.75" y2="839.03" stroke="#777" stroke-width="1"/>
<line x1="783.25" y1="842.71" x2="808.75" y2="842.71" stroke="#777" stroke-width="1"/>
<line x1="783.25" y1="846.39" x2="808.75" y2="846.39" stroke="#777" stroke-width="1"/>
<line x1="783.25" y1="850.07" x2="808.75" y2="850.07" stroke="#777" stroke-width="1"/>
<line x1="783.25" y1="853.75" x2="808.75" y2="853.75" stroke="#777" stroke-width="1"/>
<line x1="795.5" y1="755" x2="795.5" y2="859.5" stroke="#555" stroke-width="1"/>
<line x1="770.75" y1="861.75" x2="976.25" y2="861.75" stroke="#000" stroke-width="1.4"/>
<rect x="772.5" y="863.75" width="44.25" height="40" fill="none" stroke="#888" stroke-width="1"/>
<line x1="772.5" y1="863.75" x2="816.75" y2="903.75" stroke="#888" stroke-width="1"/>
<line x1="772.5" y1="903.75" x2="816.75" y2="863.75" stroke="#888" stroke-width="1"/>
<line x1="820" y1="861.75" x2="820" y2="905" stroke="#111" stroke-width="1.2"/>
<line x1="976.25" y1="861.75" x2="976.25" y2="905" stroke="#111" stroke-width="1.2"/>
<line x1="821.5" y1="863.5" x2="974.5" y2="863.5" stroke="#999" stroke-width="1"/>
<line x1="821.5" y1="863.5" x2="821.5" y2="904" stroke="#999" stroke-width="1"/>
<line x1="974.5" y1="863.5" x2="974.5" y2="904" stroke="#999" stroke-width="1"/>
<line x1="823.25" y1="871.25" x2="823.25" y2="897.5" stroke="#777" stroke-width="1"/>
<line x1="826.95" y1="871.25" x2="826.95" y2="897.5" stroke="#777" stroke-width="1"/>
<line x1="830.65" y1="871.25" x2="830.65" y2="897.5" stroke="#777" stroke-width="1"/>
<line x1="834.35" y1="871.25" x2="834.35" y2="897.5" stroke="#777" stroke-width="1"/>
<line x1="838.05" y1="871.25" x2="838.05" y2="897.5" stroke="#777" stroke-width="1"/>
<line x1="841.75" y1="871.25" x2="841.75" y2="897.5" stroke="#777" stroke-width="1"/>
<line x1="845.45" y1="871.25" x2="845.45" y2="897.5" stroke="#777" stroke-width="1"/>
<line x1="849.15" y1="871.25" x2="849.15" y2="897.5" stroke="#777" stroke-width="1"/>
<line x1="852.85" y1="871.25" x2="852.85" y2="897.5" stroke="#777" stroke-width="1"/>
<line x1="856.55" y1="871.25" x2="856.55" y2="897.5" stroke="#777" stroke-width="1"/>
<line x1="860.25" y1="871.25" x2="860.25" y2="897.5" stroke="#777" stroke-width="1"/>
<line x1="863.95" y1="871.25" x2="863.95" y2="897.5" stroke="#777" stroke-width="1"/>
<line x1="867.65" y1="871.25" x2="867.65" y2="897.5" stroke="#777" stroke-width="1"/>
<line x1="871.35" y1="871.25" x2="871.35" y2="897.5" stroke="#777" stroke-width="1"/>
<line x1="875.05" y1="871.25" x2="875.05" y2="897.5" stroke="#777" stroke-width="1"/>
<line x1="878.75" y1="871.25" x2="878.75" y2="897.5" stroke="#777" stroke-width="1"/>
<line x1="882.45" y1="871.25" x2="882.45" y2="897.5" stroke="#777" stroke-width="1"/>
<line x1="886.15" y1="871.25" x2="886.15" y2="897.5" stroke="#777" stroke-width="1"/>
<line x1="889.85" y1="871.25" x2="889.85" y2="897.5" stroke="#777" stroke-width="1"/>
<line x1="893.55" y1="871.25" x2="893.55" y2="897.5" stroke="#777" stroke-width="1"/>
<line x1="897.25" y1="871.25" x2="897.25" y2="897.5" stroke="#777" stroke-width="1"/>
<line x1="900.95" y1="871.25" x2="900.95" y2="897.5" stroke="#777" stroke-width="1"/>
<line x1="904.65" y1="871.25" x2="904.65" y2="897.5" stroke="#777" stroke-width="1"/>
<line x1="908.35" y1="871.25" x2="908.35" y2="897.5" stroke="#777" stroke-width="1"/>
<line x1="912.05" y1="871.25" x2="912.05" y2="897.5" stroke="#777" stroke-width="1"/>
<line x1="915.75" y1="871.25" x2="915.75" y2="897.5" stroke="#777" stroke-width="1"/>
<line x1="919.45" y1="871.25" x2="919.45" y2="897.5" stroke="#777" stroke-width="1"/>
<line x1="923.15" y1="871.25" x2="923.15" y2="897.5" stroke="#777" stroke-width="1"/>
<line x1="926.85" y1="871.25" x2="926.85" y2="897.5" stroke="#777" stroke-width="1"/>
<line x1="930.55" y1="871.25" x2="930.55" y2="897.5" stroke="#777" stroke-width="1"/>
<line x1="934.25" y1="871.25" x2="934.25" y2="897.5" stroke="#777" stroke-width="1"/>
<line x1="937.95" y1="871.25" x2="937.95" y2="897.5" stroke="#777" stroke-width="1"/>
<line x1="941.65" y1="871.25" x2="941.65" y2="897.5" stroke="#777" stroke-width="1"/>
<line x1="945.35" y1="871.25" x2="945.35" y2="897.5" stroke="#777" stroke-width="1"/>
<line x1="949.05" y1="871.25" x2="949.05" y2="897.5" stroke="#777" stroke-width="1"/>
<line x1="952.75" y1="871.25" x2="952.75" y2="897.5" stroke="#777" stroke-width="1"/>
<line x1="956.45" y1="871.25" x2="956.45" y2="897.5" stroke="#777" stroke-width="1"/>
<line x1="960.15" y1="871.25" x2="960.15" y2="897.5" stroke="#777" stroke-width="1"/>
<line x1="963.85" y1="871.25" x2="963.85" y2="897.5" stroke="#777" stroke-width="1"/>
<line x1="967.55" y1="871.25" x2="967.55" y2="897.5" stroke="#777" stroke-width="1"/>
<line x1="971.25" y1="871.25" x2="971.25" y2="897.5" stroke="#777" stroke-width="1"/>
<line x1="823.25" y1="883.25" x2="971.25" y2="883.25" stroke="#555" stroke-width="1"/>
<path d="M600.5 872 C596 858 596.5 832 613 832 C629.5 832 630 858 625.8 872" fill="none" stroke="#111" stroke-width="1.1"/>
<path d="M602.5 867.5 Q613 870.5 623.5 867.5" fill="none" stroke="#888" stroke-width="1"/>
<path d="M595.3 890 L595.3 878 Q595.3 873 600.5 873 L625.5 873 Q630.5 873 630.5 878 L630.5 890" fill="none" stroke="#111" stroke-width="1.1"/>
<ellipse cx="704.1" cy="880.25" rx="20" ry="14.2" fill="none" stroke="#111" stroke-width="1.1"/>
<rect x="702.6" y="892" width="3" height="9" fill="#fff" stroke="#333" stroke-width="1"/>
<ellipse cx="704.1" cy="888.75" rx="1.6" ry="1" fill="none" stroke="#555" stroke-width="1"/>
<circle cx="704.1" cy="899" r="1.2" fill="none" stroke="#333" stroke-width="1"/>
<path d="M693 897.5 L695.6 894.9 L698.2 897.5 L695.6 900.1 Z" fill="none" stroke="#333" stroke-width="1" stroke-linejoin="miter"/>
<path d="M709.65 897.5 L712.25 894.9 L714.85 897.5 L712.25 900.1 Z" fill="none" stroke="#333" stroke-width="1" stroke-linejoin="miter"/>
<line x1="704.1" y1="901" x2="704.1" y2="905" stroke="#555" stroke-width="1"/>
<path d="M391.0 306.0L393.2 304.8M393.2 304.8L394.9 303.2M394.9 303.2L397.2 302.1M397.2 302.1L397.5 300.6M397.5 300.6L397.9 299.1M397.9 299.1L397.9 297.5M397.9 297.5L397.6 296.7M397.6 296.7L397.6 295.9M397.6 295.9L397.4 295.1M397.4 295.1L396.1 293.8M397.4 295.1L397.6 292.9M397.9 297.5L398.7 297.0M398.7 297.0L399.1 296.1M399.1 296.1L399.5 295.2M399.5 295.2L400.4 293.4M399.5 295.2L401.2 294.8M397.2 302.1L398.4 301.6M398.4 301.6L399.6 301.2M399.6 301.2L400.7 300.5M400.7 300.5L401.2 299.8M401.2 299.8L401.7 299.2M401.7 299.2L402.4 298.8M402.4 298.8L402.6 297.2M402.4 298.8L404.3 298.2M400.7 300.5L401.5 300.3M401.5 300.3L402.3 300.2M402.3 300.2L403.1 300.2M403.1 300.2L404.3 299.6M403.1 300.2L404.3 301.3M391.0 306.0L393.4 305.6M393.4 305.6L395.9 305.9M395.9 305.9L398.1 306.8M398.1 306.8L399.3 306.0M399.3 306.0L400.8 305.6M400.8 305.6L402.1 304.9M402.1 304.9L402.5 304.3M402.5 304.3L403.1 303.8M403.1 303.8L403.3 303.1M403.3 303.1L403.6 301.8M403.3 303.1L404.9 302.2M402.1 304.9L402.9 305.1M402.9 305.1L403.5 305.5M403.5 305.5L404.2 305.8M404.2 305.8L406.0 305.3M404.2 305.8L406.3 307.2M398.1 306.8L399.1 308.1M399.1 308.1L400.4 309.0M400.4 309.0L401.3 310.4M401.3 310.4L402.1 310.6M402.1 310.6L403.0 310.5M403.0 310.5L403.8 310.5M403.8 310.5L405.0 309.4M403.8 310.5L405.2 310.9M401.3 310.4L401.9 311.2M401.9 311.2L402.6 311.9M402.6 311.9L403.3 312.7M403.3 312.7L404.4 313.6M403.3 312.7L403.5 314.8M391.0 306.0L392.5 307.9M392.5 307.9L393.7 310.1M393.7 310.1L395.8 311.3M395.8 311.3L397.3 311.4M397.3 311.4L398.8 311.4M398.8 311.4L400.2 311.9M400.2 311.9L401.0 311.8M401.0 311.8L401.8 311.6M401.8 311.6L402.6 311.6M402.6 311.6L404.0 310.3M402.6 311.6L404.0 311.6M400.2 311.9L401.0 312.3M401.0 312.3L401.7 312.9M401.7 312.9L402.4 313.4M402.4 313.4L404.8 313.7M402.4 313.4L403.4 315.1M395.8 311.3L396.5 312.8M396.5 312.8L396.7 314.4M396.7 314.4L396.7 316.1M396.7 316.1L397.4 316.6M397.4 316.6L397.6 317.5M397.6 317.5L398.0 318.2M398.0 318.2L399.7 318.8M398.0 318.2L398.4 319.6M396.7 316.1L396.1 316.9M396.1 316.9L396.1 317.8M396.1 317.8L396.1 318.8M396.1 318.8L396.4 320.6M396.1 318.8L394.6 320.1M391.0 306.0L389.8 308.1M389.8 308.1L388.1 309.9M388.1 309.9L387.1 312.1M387.1 312.1L387.8 313.3M387.8 313.3L387.9 314.7M387.9 314.7L388.5 315.9M388.5 315.9L389.2 316.2M389.2 316.2L389.9 316.5M389.9 316.5L390.5 317.0M390.5 317.0L391.9 317.3M390.5 317.0L390.9 319.1M388.5 315.9L388.4 316.8M388.4 316.8L388.5 317.7M388.5 317.7L388.3 318.6M388.3 318.6L389.2 320.7M388.3 318.6L387.2 319.5M387.1 312.1L386.0 312.7M386.0 312.7L385.1 313.5M385.1 313.5L384.4 314.6M384.4 314.6L384.5 315.2M384.5 315.2L384.4 315.9M384.4 315.9L384.3 316.5M384.3 316.5L384.9 318.8M384.3 316.5L383.0 317.8M384.4 314.6L383.7 314.7M383.7 314.7L383.0 314.8M383.0 314.8L382.3 315.0M382.3 315.0L381.2 316.0M382.3 315.0L380.9 314.3M391.0 306.0L388.6 306.4M388.6 306.4L386.2 307.1M386.2 307.1L383.8 307.1M383.8 307.1L382.9 308.0M382.9 308.0L382.1 309.0M382.1 309.0L381.1 309.8M381.1 309.8L381.0 310.7M381.0 310.7L381.1 311.5M381.1 311.5L381.1 312.4M381.1 312.4L382.0 314.2M381.1 312.4L379.7 314.1M381.1 309.8L380.5 310.2M380.5 310.2L379.8 310.3M379.8 310.3L379.3 310.8M379.3 310.8L378.5 312.3M379.3 310.8L377.9 310.6M383.8 307.1L382.2 306.5M382.2 306.5L380.6 306.9M380.6 306.9L379.0 306.8M379.0 306.8L378.0 307.3M378.0 307.3L377.0 307.6M377.0 307.6L375.9 307.9M375.9 307.9L374.2 309.4M375.9 307.9L374.2 307.6M379.0 306.8L378.3 306.2M378.3 306.2L377.7 305.5M377.7 305.5L376.9 305.1M376.9 305.1L374.8 304.8M376.9 305.1L376.0 303.2M391.0 306.0L388.6 305.5M388.6 305.5L386.7 303.9M386.7 303.9L384.4 303.2M384.4 303.2L382.9 302.6M382.9 302.6L381.4 303.1M381.4 303.1L379.9 303.6M379.9 303.6L379.1 304.2M379.1 304.2L378.5 304.9M378.5 304.9L377.8 305.6M377.8 305.6L376.7 306.9M377.8 305.6L375.6 305.6M379.9 303.6L379.1 303.4M379.1 303.4L378.5 302.8M378.5 302.8L377.9 302.4M377.9 302.4L376.0 301.9M377.9 302.4L377.2 301.0M384.4 303.2L383.3 302.1M383.3 302.1L382.5 300.8M382.5 300.8L382.2 299.3M382.2 299.3L381.4 299.1M381.4 299.1L380.8 298.4M380.8 298.4L379.9 298.3M379.9 298.3L377.8 298.2M379.9 298.3L378.5 296.5M382.2 299.3L382.5 298.5M382.5 298.5L382.2 297.7M382.2 297.7L382.4 296.8M382.4 296.8L381.6 294.6M382.4 296.8L382.9 295.2M391.0 306.0L389.7 303.9M389.7 303.9L388.9 301.6M388.9 301.6L389.3 299.2M389.3 299.2L388.7 298.0M388.7 298.0L387.6 297.3M387.6 297.3L386.8 296.2M386.8 296.2L386.0 296.1M386.0 296.1L385.3 296.0M385.3 296.0L384.7 295.6M384.7 295.6L382.5 296.3M384.7 295.6L383.5 294.7M386.8 296.2L387.0 295.4M387.0 295.4L386.8 294.6M386.8 294.6L387.1 293.8M387.1 293.8L386.3 292.0M387.1 293.8L387.8 292.0M389.3 299.2L390.1 297.9M390.1 297.9L390.9 296.7M390.9 296.7L391.4 295.3M391.4 295.3L391.4 294.4M391.4 294.4L391.0 293.5M391.0 293.5L390.9 292.5M390.9 292.5L390.2 291.0M390.9 292.5L391.8 290.3M391.4 295.3L392.1 294.7M392.1 294.7L392.7 294.1M392.7 294.1L393.5 293.6M393.5 293.6L394.4 291.9M393.5 293.6L395.0 293.4M406.2 305.2L408.3 302.7M406.3 308.3L409.2 306.7M405.7 308.7L408.9 309.0M405.7 311.8L407.7 311.1M404.7 312.5L406.2 315.8M403.8 314.6L405.4 315.2M403.3 314.7L404.0 318.3M402.2 315.9L404.4 316.4M400.3 317.8L401.9 319.8M399.6 319.4L399.6 321.5M397.9 320.4L397.8 321.6M396.0 320.7L394.8 323.2M394.6 320.6L395.0 322.8M392.9 320.8L392.6 324.0M391.6 320.9L389.7 323.7M390.2 321.8L392.2 323.2M387.6 320.5L387.6 322.7M386.3 321.3L384.8 322.5M385.2 320.4L386.3 323.3M383.3 319.1L382.6 321.9M381.5 318.4L378.5 318.1M379.9 317.3L380.6 320.1M379.0 315.9L377.1 317.6M379.1 314.8L378.3 317.6M377.4 313.7L376.7 316.4M377.2 311.3L375.3 312.7M376.4 310.2L374.6 311.4M376.4 308.2L374.1 309.1M375.8 307.1L372.9 306.7M375.2 305.8L373.7 307.9M375.4 302.8L373.9 300.1M376.6 301.8L373.8 301.9M377.2 300.0L375.9 298.0M376.7 298.9L375.3 299.2M378.5 297.3L375.8 297.4M379.4 296.5L376.5 295.5M379.7 294.7L379.8 291.7M381.5 294.3L378.8 292.6M383.0 293.0L380.2 292.6M384.8 291.9L382.3 291.1M386.2 291.3L383.8 290.5M387.7 291.0L388.5 288.6M390.0 291.3L388.7 288.9M391.2 290.5L391.3 288.5M393.5 291.4L394.8 288.9M394.9 290.9L394.9 288.3M397.0 292.0L399.8 290.1M398.1 292.2L398.9 290.4M399.1 293.0L400.3 291.4M400.6 294.3L403.2 292.6M401.8 296.0L404.5 294.2M403.2 296.8L403.6 293.4M403.8 297.8L406.5 297.5M405.2 299.0L406.9 299.4M405.8 300.5L406.1 298.2M406.7 303.0L408.1 305.1M406.5 303.9L407.8 303.3" fill="none" stroke="#303030" stroke-width="0.58"/>
<path d="M370.0 336.0L371.0 338.2M371.0 338.2L372.7 340.0M372.7 340.0L373.9 342.2M373.9 342.2L375.2 342.8M375.2 342.8L376.3 343.7M376.3 343.7L377.5 344.4M377.5 344.4L378.2 344.9M378.2 344.9L378.9 345.3M378.9 345.3L379.7 345.6M379.7 345.6L381.1 345.0M379.7 345.6L381.4 347.1M377.5 344.4L377.9 345.1M377.9 345.1L378.1 345.9M378.1 345.9L378.4 346.6M378.4 346.6L380.0 348.0M378.4 346.6L378.2 348.2M373.9 342.2L373.4 343.7M373.4 343.7L372.9 345.3M372.9 345.3L373.6 346.9M373.6 346.9L374.2 347.5M374.2 347.5L374.7 348.3M374.7 348.3L375.5 348.7M375.5 348.7L376.8 349.4M375.5 348.7L376.4 350.7M373.6 346.9L373.2 347.8M373.2 347.8L372.7 348.7M372.7 348.7L372.5 349.7M372.5 349.7L372.5 351.9M372.5 349.7L371.2 350.4M370.0 336.0L368.1 337.6M368.1 337.6L366.5 339.4M366.5 339.4L364.7 341.1M364.7 341.1L365.0 342.5M365.0 342.5L364.7 343.8M364.7 343.8L364.8 345.2M364.8 345.2L365.4 346.0M365.4 346.0L365.9 346.8M365.9 346.8L366.2 347.7M366.2 347.7L367.5 349.0M366.2 347.7L366.4 349.2M364.8 345.2L364.7 345.9M364.7 345.9L364.2 346.5M364.2 346.5L363.8 347.1M363.8 347.1L363.4 348.8M363.8 347.1L362.5 347.7M364.7 341.1L363.7 342.2M363.7 342.2L362.6 343.2M362.6 343.2L361.1 343.7M361.1 343.7L360.9 344.5M360.9 344.5L360.6 345.3M360.6 345.3L360.0 345.9M360.0 345.9L360.0 347.5M360.0 345.9L358.3 346.9M361.1 343.7L360.2 343.3M360.2 343.3L359.2 343.3M359.2 343.3L358.2 343.0M358.2 343.0L356.7 343.7M358.2 343.0L356.1 341.8M370.0 336.0L367.6 335.6M367.6 335.6L365.2 334.9M365.2 334.9L362.9 334.3M362.9 334.3L361.5 334.7M361.5 334.7L360.3 335.3M360.3 335.3L358.9 335.6M358.9 335.6L358.1 335.9M358.1 335.9L357.4 336.4M357.4 336.4L357.0 337.1M357.0 337.1L355.7 339.0M357.0 337.1L355.6 337.5M358.9 335.6L358.1 335.3M358.1 335.3L357.4 334.8M357.4 334.8L356.7 334.4M356.7 334.4L355.2 334.5M356.7 334.4L355.1 332.9M362.9 334.3L362.1 333.3M362.1 333.3L361.5 332.2M361.5 332.2L360.4 331.7M360.4 331.7L359.8 331.4M359.8 331.4L359.1 331.1M359.1 331.1L358.5 331.1M358.5 331.1L356.4 331.8M358.5 331.1L356.8 329.7M360.4 331.7L360.4 331.0M360.4 331.0L360.2 330.3M360.2 330.3L360.0 329.6M360.0 329.6L358.4 328.1M360.0 329.6L360.4 327.3M370.0 336.0L369.8 333.6M369.8 333.6L369.4 331.1M369.4 331.1L369.3 328.7M369.3 328.7L368.6 327.3M368.6 327.3L367.9 325.8M367.9 325.8L366.9 324.6M366.9 324.6L366.0 324.1M366.0 324.1L365.1 323.9M365.1 323.9L364.1 323.7M364.1 323.7L362.0 324.5M364.1 323.7L363.0 322.3M366.9 324.6L366.6 323.8M366.6 323.8L366.1 323.1M366.1 323.1L366.1 322.2M366.1 322.2L364.7 321.3M366.1 322.2L365.9 320.1M369.3 328.7L369.2 327.4M369.2 327.4L369.5 326.1M369.5 326.1L369.9 324.9M369.9 324.9L369.6 324.3M369.6 324.3L369.3 323.7M369.3 323.7L369.0 323.1M369.0 323.1L367.6 321.5M369.0 323.1L369.6 321.5M369.9 324.9L370.2 324.2M370.2 324.2L370.7 323.8M370.7 323.8L371.1 323.1M371.1 323.1L371.6 321.0M371.1 323.1L372.6 322.4M370.0 336.0L372.3 335.2M372.3 335.2L374.0 333.4M374.0 333.4L376.0 332.0M376.0 332.0L376.3 330.6M376.3 330.6L376.5 329.1M376.5 329.1L377.6 328.2M377.6 328.2L377.6 327.4M377.6 327.4L377.7 326.5M377.7 326.5L377.5 325.7M377.5 325.7L377.1 323.7M377.5 325.7L378.0 324.4M377.6 328.2L378.4 327.9M378.4 327.9L379.1 327.6M379.1 327.6L379.8 327.2M379.8 327.2L380.4 325.7M379.8 327.2L381.4 326.8M376.0 332.0L377.4 332.0M377.4 332.0L378.8 332.5M378.8 332.5L380.2 332.1M380.2 332.1L380.9 331.8M380.9 331.8L381.3 331.2M381.3 331.2L382.1 330.9M382.1 330.9L383.4 329.1M382.1 330.9L383.6 330.4M380.2 332.1L380.9 332.5M380.9 332.5L381.5 332.8M381.5 332.8L382.0 333.4M382.0 333.4L384.3 333.6M382.0 333.4L383.5 335.1M370.0 336.0L372.1 337.3M372.1 337.3L374.5 336.9M374.5 336.9L376.7 338.0M376.7 338.0L378.1 337.5M378.1 337.5L379.2 336.5M379.2 336.5L380.6 336.3M380.6 336.3L380.8 335.5M380.8 335.5L381.1 334.7M381.1 334.7L381.5 334.0M381.5 334.0L381.8 332.2M381.5 334.0L382.8 333.2M380.6 336.3L381.4 336.6M381.4 336.6L382.2 336.8M382.2 336.8L383.1 337.0M383.1 337.0L384.5 335.9M383.1 337.0L384.5 337.9M376.7 338.0L378.1 338.5M378.1 338.5L378.7 339.8M378.7 339.8L379.5 341.0M379.5 341.0L380.4 340.9M380.4 340.9L381.3 340.9M381.3 340.9L382.1 341.0M382.1 341.0L383.7 340.2M382.1 341.0L384.0 342.0M379.5 341.0L379.7 341.7M379.7 341.7L380.1 342.3M380.1 342.3L380.2 343.1M380.2 343.1L381.8 344.5M380.2 343.1L380.2 345.4M384.9 335.4L387.1 336.2M384.8 338.0L387.0 340.0M384.4 339.4L387.1 338.2M384.6 340.4L385.6 342.9M384.0 342.5L385.5 344.7M382.7 344.4L384.8 345.2M382.5 344.8L383.0 348.3M380.9 347.2L384.0 346.8M379.8 347.6L383.0 348.1M378.6 348.8L378.5 351.8M376.6 349.4L375.9 352.9M375.3 350.3L377.8 351.8M373.6 351.7L372.8 353.4M371.6 350.9L371.2 354.1M370.9 350.8L370.6 353.3M368.5 351.1L368.9 354.1M367.2 350.6L368.6 354.1M364.8 350.6L363.8 352.5M363.9 350.8L361.5 352.1M362.4 348.8L361.8 352.0M360.6 347.8L357.7 348.7M359.9 347.7L360.8 350.3M358.2 346.9L356.1 347.7M357.3 345.2L355.9 347.0M356.0 343.4L355.8 345.3M356.2 341.7L353.7 342.3M355.3 340.7L353.4 340.9M354.7 338.8L353.1 338.2M354.0 337.5L352.4 337.8M354.4 335.3L352.3 333.8M354.9 333.1L352.6 330.8M355.5 331.3L353.4 330.3M355.9 329.6L353.8 329.0M357.0 328.3L356.0 326.3M357.4 326.5L356.7 324.3M358.1 326.0L355.8 326.6M359.5 324.7L356.5 324.9M361.1 323.4L359.2 322.5M362.3 323.1L363.2 320.4M364.4 321.4L363.1 319.3M366.0 321.5L365.5 318.7M367.7 321.3L365.3 318.7M368.7 320.0L367.4 319.2M370.1 320.8L372.1 319.1M372.6 321.0L373.4 318.9M373.0 321.6L372.6 318.1M375.6 321.0L376.2 318.9M376.4 322.3L379.6 320.6M378.3 322.5L379.0 321.1M379.7 323.4L379.8 320.7M380.9 325.7L381.3 321.9M382.0 325.9L384.5 326.5M383.7 328.3L385.4 328.5M384.1 330.1L385.1 328.1M384.7 330.6L385.5 328.6M385.2 332.2L387.2 331.0M385.9 334.5L387.4 332.9" fill="none" stroke="#303030" stroke-width="0.58"/>
<path d="M361.0 372.0L362.3 370.0M362.3 370.0L363.5 367.8M363.5 367.8L365.5 366.3M365.5 366.3L366.2 365.3M366.2 365.3L366.0 364.0M366.0 364.0L366.7 363.0M366.7 363.0L366.4 362.3M366.4 362.3L366.0 361.6M366.0 361.6L365.7 360.9M365.7 360.9L363.6 359.7M365.7 360.9L365.5 359.3M366.7 363.0L367.3 362.7M367.3 362.7L367.6 362.1M367.6 362.1L368.2 361.8M368.2 361.8L369.1 359.7M368.2 361.8L369.5 361.4M365.5 366.3L366.6 365.7M366.6 365.7L367.8 365.8M367.8 365.8L369.1 366.0M369.1 366.0L369.4 365.4M369.4 365.4L369.8 364.8M369.8 364.8L370.5 364.4M370.5 364.4L371.5 362.2M370.5 364.4L372.4 364.0M369.1 366.0L369.9 366.1M369.9 366.1L370.6 366.3M370.6 366.3L371.3 366.7M371.3 366.7L373.0 366.6M371.3 366.7L372.7 368.4M361.0 372.0L363.4 372.5M363.4 372.5L365.6 373.5M365.6 373.5L368.0 374.1M368.0 374.1L369.3 374.0M369.3 374.0L370.2 373.0M370.2 373.0L371.4 372.3M371.4 372.3L371.9 371.8M371.9 371.8L372.4 371.3M372.4 371.3L372.9 370.8M372.9 370.8L373.4 368.7M372.9 370.8L374.3 370.4M371.4 372.3L372.1 372.4M372.1 372.4L372.8 372.4M372.8 372.4L373.5 372.4M373.5 372.4L374.7 371.7M373.5 372.4L375.5 373.1M368.0 374.1L368.9 375.4M368.9 375.4L369.8 376.6M369.8 376.6L370.9 377.7M370.9 377.7L371.8 377.8M371.8 377.8L372.7 377.9M372.7 377.9L373.6 378.1M373.6 378.1L375.6 377.8M373.6 378.1L375.0 379.2M370.9 377.7L371.1 378.6M371.1 378.6L371.0 379.6M371.0 379.6L371.6 380.4M371.6 380.4L372.9 382.0M371.6 380.4L371.7 382.6M361.0 372.0L361.1 374.4M361.1 374.4L362.9 376.1M362.9 376.1L364.0 378.3M364.0 378.3L365.1 379.0M365.1 379.0L366.1 379.7M366.1 379.7L366.8 380.8M366.8 380.8L367.6 381.0M367.6 381.0L368.2 381.5M368.2 381.5L369.0 381.7M369.0 381.7L370.4 381.2M369.0 381.7L370.3 383.0M366.8 380.8L367.3 381.3M367.3 381.3L367.5 381.9M367.5 381.9L367.6 382.6M367.6 382.6L369.1 383.2M367.6 382.6L367.9 385.0M364.0 378.3L363.4 379.6M363.4 379.6L362.7 380.9M362.7 380.9L362.0 382.2M362.0 382.2L362.2 383.2M362.2 383.2L362.8 383.9M362.8 383.9L363.4 384.7M363.4 384.7L365.0 385.5M363.4 384.7L363.7 386.9M362.0 382.2L361.5 382.9M361.5 382.9L360.9 383.5M360.9 383.5L360.2 384.0M360.2 384.0L359.7 385.8M360.2 384.0L358.7 384.5M361.0 372.0L359.8 374.2M359.8 374.2L358.9 376.4M358.9 376.4L358.7 378.9M358.7 378.9L358.8 380.5M358.8 380.5L359.0 382.1M359.0 382.1L358.9 383.8M358.9 383.8L359.5 384.6M359.5 384.6L360.3 385.2M360.3 385.2L361.1 385.7M361.1 385.7L363.2 386.2M361.1 385.7L361.3 387.2M358.9 383.8L359.0 384.8M359.0 384.8L358.3 385.7M358.3 385.7L357.8 386.6M357.8 386.6L358.2 388.8M357.8 386.6L356.7 387.9M358.7 378.9L357.4 379.8M357.4 379.8L356.1 380.4M356.1 380.4L354.7 381.1M354.7 381.1L354.6 382.0M354.6 382.0L354.4 382.9M354.4 382.9L354.1 383.7M354.1 383.7L354.2 385.9M354.1 383.7L352.6 385.0M354.7 381.1L353.9 381.3M353.9 381.3L353.0 381.0M353.0 381.0L352.1 380.8M352.1 380.8L350.5 381.7M352.1 380.8L350.3 380.4M361.0 372.0L358.9 373.3M358.9 373.3L356.7 374.2M356.7 374.2L354.2 374.6M354.2 374.6L353.0 375.7M353.0 375.7L352.1 377.0M352.1 377.0L351.7 378.5M351.7 378.5L351.4 379.5M351.4 379.5L351.5 380.5M351.5 380.5L351.1 381.4M351.1 381.4L351.5 383.1M351.1 381.4L350.1 383.3M351.7 378.5L350.9 379.1M350.9 379.1L349.9 379.3M349.9 379.3L349.1 380.1M349.1 380.1L347.9 381.6M349.1 380.1L347.4 379.8M354.2 374.6L353.2 373.8M353.2 373.8L351.9 373.8M351.9 373.8L350.7 373.1M350.7 373.1L349.9 373.3M349.9 373.3L349.1 373.4M349.1 373.4L348.3 373.4M348.3 373.4L346.7 374.5M348.3 373.4L346.0 373.2M350.7 373.1L350.3 372.3M350.3 372.3L349.5 372.0M349.5 372.0L349.1 371.2M349.1 371.2L347.6 370.4M349.1 371.2L348.1 369.1M361.0 372.0L359.3 370.3M359.3 370.3L357.8 368.3M357.8 368.3L355.5 367.6M355.5 367.6L354.1 367.9M354.1 367.9L352.8 368.2M352.8 368.2L351.4 367.9M351.4 367.9L350.7 368.4M350.7 368.4L350.1 368.9M350.1 368.9L349.2 369.1M349.2 369.1L348.3 371.0M349.2 369.1L347.8 369.3M351.4 367.9L350.7 367.6M350.7 367.6L349.9 367.7M349.9 367.7L349.0 367.7M349.0 367.7L347.2 368.0M349.0 367.7L348.0 366.3M355.5 367.6L354.7 366.3M354.7 366.3L354.1 364.9M354.1 364.9L353.5 363.5M353.5 363.5L352.7 363.2M352.7 363.2L351.8 362.9M351.8 362.9L350.9 362.6M350.9 362.6L348.5 362.4M350.9 362.6L350.3 361.3M353.5 363.5L353.9 362.6M353.9 362.6L353.7 361.6M353.7 361.6L354.1 360.7M354.1 360.7L353.8 358.6M354.1 360.7L355.2 359.4M361.0 372.0L359.8 369.9M359.8 369.9L360.1 367.4M360.1 367.4L359.2 365.1M359.2 365.1L358.2 364.4M358.2 364.4L357.1 363.7M357.1 363.7L356.1 362.8M356.1 362.8L355.3 362.6M355.3 362.6L354.5 362.4M354.5 362.4L353.7 362.2M353.7 362.2L351.8 362.2M353.7 362.2L352.6 360.8M356.1 362.8L356.2 361.9M356.2 361.9L356.3 361.1M356.3 361.1L356.5 360.3M356.5 360.3L355.5 358.2M356.5 360.3L357.0 358.0M359.2 365.1L359.2 363.6M359.2 363.6L359.9 362.3M359.9 362.3L360.4 360.8M360.4 360.8L360.2 360.0M360.2 360.0L360.2 359.1M360.2 359.1L360.2 358.3M360.2 358.3L358.8 356.7M360.2 358.3L360.6 356.2M360.4 360.8L360.9 360.0M360.9 360.0L361.7 359.3M361.7 359.3L362.1 358.4M362.1 358.4L363.2 356.6M362.1 358.4L364.0 357.4M375.9 371.7L378.2 372.2M376.6 373.4L379.1 373.5M376.4 375.8L378.8 375.1M375.3 376.6L378.1 376.8M374.4 378.6L375.1 381.8M373.5 380.3L375.4 381.8M372.8 381.7L373.7 384.9M371.3 382.8L373.0 384.1M370.5 384.4L370.5 386.4M369.3 384.4L370.0 387.2M368.2 385.3L369.9 387.7M365.9 386.7L364.8 389.7M364.8 386.4L366.7 389.1M363.0 387.0L364.2 389.2M362.0 386.9L361.9 389.6M360.3 386.7L359.2 389.8M358.8 387.0L357.1 388.7M355.7 386.3L355.8 388.2M354.7 386.1L353.4 387.5M353.1 384.8L352.8 387.2M351.9 385.0L349.1 385.0M350.8 384.2L349.2 385.7M349.5 381.7L347.8 382.7M348.8 381.3L348.2 384.7M347.2 379.7L346.6 381.6M346.5 377.2L344.6 377.7M345.7 376.1L343.2 374.3M345.3 374.6L343.5 372.8M346.3 372.6L343.9 373.6M345.6 370.8L344.1 368.1M345.9 369.3L343.7 371.2M346.1 367.5L344.1 368.5M347.1 366.9L344.6 367.0M347.4 365.2L345.4 364.9M348.6 364.0L345.2 364.6M348.5 362.0L347.9 359.7M350.4 361.5L349.2 359.7M352.1 359.7L352.7 356.5M353.1 358.3L353.5 355.6M354.3 358.3L354.9 354.9M356.8 357.1L357.5 355.4M358.2 356.3L358.6 355.1M359.5 356.8L358.8 354.3M362.2 356.0L363.5 355.1M363.5 356.9L365.6 355.1M364.7 357.2L363.0 354.5M367.0 357.8L366.8 355.4M367.1 358.5L368.3 356.2M369.0 359.3L369.0 356.2M370.8 360.0L373.5 360.5M372.7 361.2L372.4 359.3M373.9 362.8L373.7 360.5M373.5 363.6L374.4 361.1M374.4 364.9L376.2 363.1M374.8 366.8L377.4 365.8M375.8 369.4L377.8 368.7M376.9 370.7L378.0 370.5" fill="none" stroke="#303030" stroke-width="0.58"/>
<path d="M355.0 407.0L356.1 404.8M356.1 404.8L357.0 402.5M357.0 402.5L356.7 400.1M356.7 400.1L355.8 399.2M355.8 399.2L355.1 398.2M355.1 398.2L354.9 396.9M354.9 396.9L354.3 396.6M354.3 396.6L353.8 396.3M353.8 396.3L353.4 395.7M353.4 395.7L351.1 395.1M353.4 395.7L352.0 393.7M354.9 396.9L355.1 396.2M355.1 396.2L355.3 395.4M355.3 395.4L355.0 394.7M355.0 394.7L354.3 393.0M355.0 394.7L355.4 392.9M356.7 400.1L357.3 398.7M357.3 398.7L358.3 397.6M358.3 397.6L359.3 396.5M359.3 396.5L359.4 395.7M359.4 395.7L359.3 394.9M359.3 394.9L359.0 394.2M359.0 394.2L357.6 392.3M359.0 394.2L359.8 392.6M359.3 396.5L360.2 396.1M360.2 396.1L361.2 395.7M361.2 395.7L362.0 395.0M362.0 395.0L362.8 393.4M362.0 395.0L364.0 394.5M355.0 407.0L357.4 406.6M357.4 406.6L359.6 405.4M359.6 405.4L361.8 404.4M361.8 404.4L362.5 402.9M362.5 402.9L363.7 401.7M363.7 401.7L364.3 400.2M364.3 400.2L364.6 399.4M364.6 399.4L364.5 398.5M364.5 398.5L364.9 397.6M364.9 397.6L364.3 395.8M364.9 397.6L366.0 396.2M364.3 400.2L365.2 399.8M365.2 399.8L365.9 399.1M365.9 399.1L366.8 398.7M366.8 398.7L367.9 397.2M366.8 398.7L368.5 399.1M361.8 404.4L363.3 404.3M363.3 404.3L364.8 404.4M364.8 404.4L366.3 404.1M366.3 404.1L367.1 403.8M367.1 403.8L367.9 403.5M367.9 403.5L368.7 403.5M368.7 403.5L370.3 402.3M368.7 403.5L370.2 403.7M366.3 404.1L366.9 404.6M366.9 404.6L367.6 405.1M367.6 405.1L368.0 405.7M368.0 405.7L369.7 406.4M368.0 405.7L368.5 408.1M355.0 407.0L357.0 408.4M357.0 408.4L359.2 409.4M359.2 409.4L361.5 410.3M361.5 410.3L362.9 410.4M362.9 410.4L364.2 410.4M364.2 410.4L365.5 410.8M365.5 410.8L366.3 410.3M366.3 410.3L367.2 410.1M367.2 410.1L368.1 409.8M368.1 409.8L369.7 407.9M368.1 409.8L369.9 409.4M365.5 410.8L366.4 411.0M366.4 411.0L367.0 411.6M367.0 411.6L367.8 411.7M367.8 411.7L369.3 411.5M367.8 411.7L369.3 413.3M361.5 410.3L362.2 411.4M362.2 411.4L363.0 412.5M363.0 412.5L363.6 413.6M363.6 413.6L364.4 413.9M364.4 413.9L365.2 414.3M365.2 414.3L366.0 414.2M366.0 414.2L367.4 413.9M366.0 414.2L367.6 416.0M363.6 413.6L363.8 414.2M363.8 414.2L363.8 414.9M363.8 414.9L363.9 415.5M363.9 415.5L365.3 417.3M363.9 415.5L363.3 417.4M355.0 407.0L354.9 409.4M354.9 409.4L355.6 411.8M355.6 411.8L356.4 414.1M356.4 414.1L356.8 415.4M356.8 415.4L357.8 416.4M357.8 416.4L358.6 417.5M358.6 417.5L359.3 417.7M359.3 417.7L359.9 418.0M359.9 418.0L360.6 418.2M360.6 418.2L362.1 418.2M360.6 418.2L361.6 419.4M358.6 417.5L358.5 418.3M358.5 418.3L358.4 419.1M358.4 419.1L358.1 419.8M358.1 419.8L358.4 421.6M358.1 419.8L357.6 421.3M356.4 414.1L355.3 415.2M355.3 415.2L354.9 416.7M354.9 416.7L354.0 418.0M354.0 418.0L354.2 418.7M354.2 418.7L354.0 419.5M354.0 419.5L353.9 420.3M353.9 420.3L354.5 421.6M353.9 420.3L353.5 421.7M354.0 418.0L353.2 418.1M353.2 418.1L352.6 418.6M352.6 418.6L351.9 419.1M351.9 419.1L350.5 421.0M351.9 419.1L349.9 418.9M355.0 407.0L352.6 407.2M352.6 407.2L350.4 408.3M350.4 408.3L348.3 409.6M348.3 409.6L347.5 410.7M347.5 410.7L346.7 411.8M346.7 411.8L345.9 412.8M345.9 412.8L345.8 413.6M345.8 413.6L346.0 414.3M346.0 414.3L345.8 415.0M345.8 415.0L346.7 416.7M345.8 415.0L344.8 416.6M345.9 412.8L345.3 413.2M345.3 413.2L344.7 413.6M344.7 413.6L344.1 413.9M344.1 413.9L343.0 415.7M344.1 413.9L342.7 413.9M348.3 409.6L346.7 410.1M346.7 410.1L345.1 409.8M345.1 409.8L343.6 409.1M343.6 409.1L342.8 409.7M342.8 409.7L342.0 410.3M342.0 410.3L341.1 410.7M341.1 410.7L340.0 412.1M341.1 410.7L339.1 410.9M343.6 409.1L342.8 408.9M342.8 408.9L342.1 408.5M342.1 408.5L341.3 408.1M341.3 408.1L339.6 407.5M341.3 408.1L340.7 406.4M355.0 407.0L353.2 405.4M353.2 405.4L350.8 404.8M350.8 404.8L349.4 402.8M349.4 402.8L348.0 402.8M348.0 402.8L346.7 402.3M346.7 402.3L345.5 401.8M345.5 401.8L344.8 401.9M344.8 401.9L344.3 402.4M344.3 402.4L343.6 402.6M343.6 402.6L342.0 404.3M343.6 402.6L342.2 402.4M345.5 401.8L344.9 401.2M344.9 401.2L344.1 400.9M344.1 400.9L343.5 400.2M343.5 400.2L341.5 399.6M343.5 400.2L343.1 397.8M349.4 402.8L348.4 401.5M348.4 401.5L347.8 400.1M347.8 400.1L346.7 398.9M346.7 398.9L345.8 398.9M345.8 398.9L345.0 398.6M345.0 398.6L344.2 398.1M344.2 398.1L342.7 398.5M344.2 398.1L343.0 396.4M346.7 398.9L346.4 398.2M346.4 398.2L346.2 397.4M346.2 397.4L346.4 396.6M346.4 396.6L345.2 394.6M346.4 396.6L346.8 394.8M370.9 407.1L372.0 409.0M369.7 408.6L372.5 408.2M370.5 410.8L371.8 412.1M370.0 412.0L370.8 413.5M369.2 413.2L371.1 413.1M368.2 414.5L370.3 415.8M367.3 416.4L369.8 417.3M365.9 417.8L368.6 419.1M364.3 418.8L364.8 421.3M363.1 419.7L362.8 422.2M362.3 420.9L362.5 422.8M360.5 422.1L361.5 423.9M358.7 421.6L361.4 423.7M357.5 422.7L356.7 423.9M355.3 422.5L357.2 424.2M353.0 422.6L354.9 425.0M351.7 421.6L351.0 423.8M350.4 421.1L349.0 423.9M348.0 421.4L347.9 423.3M346.5 420.2L344.2 420.5M345.8 418.9L346.5 422.1M344.8 418.0L344.2 420.5M343.8 417.5L343.2 419.6M342.5 416.1L341.6 419.0M340.8 414.1L339.0 414.7M340.6 412.5L337.7 411.2M340.4 410.7L338.1 409.0M339.5 409.8L338.1 410.3M339.3 408.1L336.9 408.2M339.8 406.1L338.1 403.6M339.1 405.0L337.2 407.0M340.9 402.4L337.7 403.5M341.3 400.6L337.8 401.6M342.1 399.7L340.4 398.3M342.6 397.5L341.7 394.8M343.9 397.3L340.7 396.7M344.7 395.8L342.0 395.2M346.2 394.5L343.2 394.0M347.2 393.6L346.2 391.1M348.4 393.4L348.4 390.9M350.9 391.5L352.6 389.0M352.5 391.2L352.3 390.2M353.8 391.4L354.3 389.3M356.0 392.2L358.6 389.8M356.3 392.2L359.1 389.4M357.9 392.6L359.6 389.6M360.5 392.5L362.8 390.9M361.0 393.5L364.6 391.8M363.8 394.5L364.3 392.3M364.4 394.3L365.7 393.4M365.9 396.5L367.6 394.4M367.3 396.9L367.1 394.8M367.9 398.6L369.5 396.5M368.9 400.0L370.5 399.3M369.9 401.5L370.6 399.7M369.7 403.4L372.5 403.7M370.4 405.7L372.1 407.0" fill="none" stroke="#303030" stroke-width="0.58"/>
<path d="M355.0 443.5L352.8 444.6M352.8 444.6L351.2 446.4M351.2 446.4L348.9 447.4M348.9 447.4L348.2 448.4M348.2 448.4L347.3 449.3M347.3 449.3L346.9 450.5M346.9 450.5L346.8 451.2M346.8 451.2L347.0 451.8M347.0 451.8L346.9 452.5M346.9 452.5L348.1 454.5M346.9 452.5L346.5 454.9M346.9 450.5L346.6 451.0M346.6 451.0L345.9 451.2M345.9 451.2L345.4 451.6M345.4 451.6L344.9 452.9M345.4 451.6L343.6 452.1M348.9 447.4L347.6 447.9M347.6 447.9L346.4 448.4M346.4 448.4L345.0 448.3M345.0 448.3L344.6 448.8M344.6 448.8L344.0 449.2M344.0 449.2L343.6 449.7M343.6 449.7L342.4 451.7M343.6 449.7L341.9 450.1M345.0 448.3L344.1 448.1M344.1 448.1L343.5 447.5M343.5 447.5L342.9 446.8M342.9 446.8L340.8 446.6M342.9 446.8L341.6 445.6M355.0 443.5L352.9 442.3M352.9 442.3L351.1 440.6M351.1 440.6L349.7 438.6M349.7 438.6L348.1 438.7M348.1 438.7L346.5 439.0M346.5 439.0L345.0 438.6M345.0 438.6L344.0 438.8M344.0 438.8L342.9 439.0M342.9 439.0L342.0 439.4M342.0 439.4L340.9 441.6M342.0 439.4L340.5 439.5M345.0 438.6L344.2 437.9M344.2 437.9L343.3 437.4M343.3 437.4L342.8 436.5M342.8 436.5L341.4 436.2M342.8 436.5L341.7 434.9M349.7 438.6L349.3 437.2M349.3 437.2L348.9 435.9M348.9 435.9L348.3 434.6M348.3 434.6L347.7 434.0M347.7 434.0L347.3 433.4M347.3 433.4L346.5 433.2M346.5 433.2L344.1 433.0M346.5 433.2L345.8 431.9M348.3 434.6L348.1 433.8M348.1 433.8L348.4 433.1M348.4 433.1L348.4 432.3M348.4 432.3L347.9 430.4M348.4 432.3L349.3 430.9M355.0 443.5L354.9 441.1M354.9 441.1L354.8 438.6M354.8 438.6L355.6 436.3M355.6 436.3L355.3 434.9M355.3 434.9L354.7 433.6M354.7 433.6L354.8 432.2M354.8 432.2L354.2 431.6M354.2 431.6L353.8 430.8M353.8 430.8L353.2 430.1M353.2 430.1L351.3 429.6M353.2 430.1L352.8 428.0M354.8 432.2L355.1 431.5M355.1 431.5L355.3 430.7M355.3 430.7L355.7 430.0M355.7 430.0L355.4 428.0M355.7 430.0L356.8 429.1M355.6 436.3L356.6 435.5M356.6 435.5L357.7 434.8M357.7 434.8L358.6 434.0M358.6 434.0L358.8 433.2M358.8 433.2L359.0 432.4M359.0 432.4L359.3 431.7M359.3 431.7L359.1 430.3M359.3 431.7L360.5 430.1M358.6 434.0L359.1 433.5M359.1 433.5L359.7 433.2M359.7 433.2L360.1 432.7M360.1 432.7L360.9 431.5M360.1 432.7L362.0 432.7M355.0 443.5L356.7 441.8M356.7 441.8L359.0 440.8M359.0 440.8L360.6 438.9M360.6 438.9L360.7 437.7M360.7 437.7L361.6 436.8M361.6 436.8L361.8 435.5M361.8 435.5L361.6 434.8M361.6 434.8L361.8 434.0M361.8 434.0L361.8 433.2M361.8 433.2L360.8 431.6M361.8 433.2L362.2 431.2M361.8 435.5L362.3 435.2M362.3 435.2L362.8 434.6M362.8 434.6L363.2 434.1M363.2 434.1L364.0 432.8M363.2 434.1L365.2 433.5M360.6 438.9L362.1 439.2M362.1 439.2L363.7 439.2M363.7 439.2L365.3 438.9M365.3 438.9L366.0 438.2M366.0 438.2L366.9 437.9M366.9 437.9L367.8 437.5M367.8 437.5L368.8 436.3M367.8 437.5L369.5 437.0M365.3 438.9L366.1 439.2M366.1 439.2L366.8 439.6M366.8 439.6L367.7 439.7M367.7 439.7L369.8 439.6M367.7 439.7L369.1 441.3M355.0 443.5L357.0 444.8M357.0 444.8L359.1 446.2M359.1 446.2L360.7 448.0M360.7 448.0L362.0 448.0M362.0 448.0L363.3 448.4M363.3 448.4L364.6 448.0M364.6 448.0L365.3 447.9M365.3 447.9L365.9 447.5M365.9 447.5L366.5 447.4M366.5 447.4L367.5 445.6M366.5 447.4L368.1 447.1M364.6 448.0L365.3 448.5M365.3 448.5L366.1 448.5M366.1 448.5L366.8 448.7M366.8 448.7L368.3 448.8M366.8 448.7L367.8 449.8M360.7 448.0L361.4 449.3M361.4 449.3L362.3 450.4M362.3 450.4L363.2 451.6M363.2 451.6L363.9 451.7M363.9 451.7L364.5 452.2M364.5 452.2L365.2 452.2M365.2 452.2L367.3 451.6M365.2 452.2L367.0 453.5M363.2 451.6L362.9 452.4M362.9 452.4L363.0 453.2M363.0 453.2L363.1 454.0M363.1 454.0L364.0 455.5M363.1 454.0L362.2 455.4M355.0 443.5L353.7 445.6M353.7 445.6L352.9 447.9M352.9 447.9L352.8 450.3M352.8 450.3L352.5 451.9M352.5 451.9L353.2 453.3M353.2 453.3L353.5 454.8M353.5 454.8L354.0 455.6M354.0 455.6L354.4 456.4M354.4 456.4L354.7 457.2M354.7 457.2L356.9 458.2M354.7 457.2L355.1 459.0M353.5 454.8L353.5 455.6M353.5 455.6L353.1 456.3M353.1 456.3L352.8 457.1M352.8 457.1L353.7 459.3M352.8 457.1L351.4 458.5M352.8 450.3L351.6 450.9M351.6 450.9L350.8 452.0M350.8 452.0L350.1 453.2M350.1 453.2L349.6 453.9M349.6 453.9L349.6 454.8M349.6 454.8L349.6 455.7M349.6 455.7L349.7 457.7M349.6 455.7L348.7 457.4M350.1 453.2L349.3 452.9M349.3 452.9L348.4 453.0M348.4 453.0L347.5 452.9M347.5 452.9L345.8 454.3M347.5 452.9L345.3 452.4M369.8 443.4L372.6 442.0M370.2 445.3L372.1 446.8M370.1 447.3L372.0 446.4M370.1 449.1L371.0 451.9M368.6 450.2L369.4 452.5M368.0 451.9L368.9 454.8M366.9 452.2L369.5 452.6M366.5 454.1L367.9 454.9M364.7 454.6L366.4 457.5M364.1 456.3L365.1 458.1M361.8 457.6L361.2 460.0M359.9 458.7L361.6 459.2M359.2 458.5L357.2 461.1M357.1 458.3L356.9 460.7M356.1 459.0L355.9 461.3M353.9 459.3L354.1 460.9M352.7 458.6L353.3 461.5M349.6 458.3L349.0 460.0M349.6 457.5L350.8 460.8M346.5 456.7L346.2 458.5M346.1 455.7L344.9 458.2M345.4 454.7L343.0 456.8M343.1 453.3L341.1 453.2M342.0 452.8L339.7 451.8M341.3 450.4L338.5 449.4M340.2 448.7L339.8 451.3M340.1 447.8L339.0 450.7M340.0 446.3L338.9 449.1M340.1 444.3L337.7 445.9M340.1 442.4L337.4 442.1M340.0 440.9L338.1 439.1M339.8 439.0L337.6 440.0M339.9 438.2L337.6 440.0M341.8 436.9L340.0 435.5M342.7 434.7L341.3 432.8M343.4 433.7L342.8 430.3M344.8 431.6L345.6 429.3M346.4 431.1L344.4 429.5M347.3 430.0L347.1 428.1M349.3 428.8L346.8 427.4M349.9 428.8L349.0 426.6M352.2 428.6L350.8 426.1M354.3 428.1L354.2 426.5M355.7 427.6L357.2 425.8M357.5 427.7L356.7 426.6M359.0 428.3L359.6 426.5M360.4 428.6L362.9 427.9M362.1 429.8L361.2 427.7M363.3 431.3L363.8 427.9M364.0 431.4L366.8 431.3M365.3 433.0L366.9 430.8M366.5 433.9L366.8 431.0M367.9 435.9L371.1 436.3M369.5 437.3L371.5 437.7M369.8 438.0L370.9 436.3M370.1 440.0L373.0 441.0M370.1 442.4L372.2 441.6" fill="none" stroke="#303030" stroke-width="0.58"/>
<path d="M355.0 481.0L352.8 480.0M352.8 480.0L351.4 477.9M351.4 477.9L350.0 476.0M350.0 476.0L348.5 475.4M348.5 475.4L347.0 475.2M347.0 475.2L345.5 475.0M345.5 475.0L344.5 475.0M344.5 475.0L343.5 475.0M343.5 475.0L342.5 475.1M342.5 475.1L341.6 476.4M342.5 475.1L340.6 474.5M345.5 475.0L345.0 474.3M345.0 474.3L344.4 473.8M344.4 473.8L344.0 473.0M344.0 473.0L341.6 472.8M344.0 473.0L343.1 471.7M350.0 476.0L349.0 474.8M349.0 474.8L348.4 473.4M348.4 473.4L348.3 471.9M348.3 471.9L347.5 471.4M347.5 471.4L346.8 470.8M346.8 470.8L345.8 470.5M345.8 470.5L343.5 470.2M345.8 470.5L345.1 469.0M348.3 471.9L348.2 471.0M348.2 471.0L348.3 470.1M348.3 470.1L348.5 469.3M348.5 469.3L347.6 467.9M348.5 469.3L349.4 467.9M355.0 481.0L355.7 478.7M355.7 478.7L355.6 476.2M355.6 476.2L356.6 474.0M356.6 474.0L356.2 472.8M356.2 472.8L355.4 471.8M355.4 471.8L355.2 470.5M355.2 470.5L354.4 470.3M354.4 470.3L353.6 470.1M353.6 470.1L353.1 469.5M353.1 469.5L351.5 469.4M353.1 469.5L352.1 468.3M355.2 470.5L355.1 469.7M355.1 469.7L355.0 468.8M355.0 468.8L355.2 468.0M355.2 468.0L354.1 466.3M355.2 468.0L356.4 466.0M356.6 474.0L357.1 472.6M357.1 472.6L358.1 471.5M358.1 471.5L358.4 470.1M358.4 470.1L358.4 469.3M358.4 469.3L358.6 468.5M358.6 468.5L358.5 467.8M358.5 467.8L357.2 465.8M358.5 467.8L359.1 466.5M358.4 470.1L358.9 469.4M358.9 469.4L359.7 469.1M359.7 469.1L360.3 468.7M360.3 468.7L361.5 466.9M360.3 468.7L362.1 468.3M355.0 481.0L357.4 480.5M357.4 480.5L359.5 479.2M359.5 479.2L361.9 478.6M361.9 478.6L362.4 477.3M362.4 477.3L363.0 475.9M363.0 475.9L364.3 475.4M364.3 475.4L364.3 474.5M364.3 474.5L364.5 473.8M364.5 473.8L364.9 473.0M364.9 473.0L364.1 471.3M364.9 473.0L366.2 471.3M364.3 475.4L365.0 475.0M365.0 475.0L365.8 474.9M365.8 474.9L366.5 474.4M366.5 474.4L367.7 473.6M366.5 474.4L368.3 474.5M361.9 478.6L363.1 479.5M363.1 479.5L364.3 480.3M364.3 480.3L365.6 481.1M365.6 481.1L366.4 480.6M366.4 480.6L367.2 480.1M367.2 480.1L368.0 479.5M368.0 479.5L369.4 477.6M368.0 479.5L369.5 479.6M365.6 481.1L366.3 481.8M366.3 481.8L366.7 482.7M366.7 482.7L367.6 483.1M367.6 483.1L369.3 483.3M367.6 483.1L368.3 484.4M355.0 481.0L356.8 482.7M356.8 482.7L359.0 483.6M359.0 483.6L361.3 484.5M361.3 484.5L362.7 484.3M362.7 484.3L364.1 484.5M364.1 484.5L365.4 484.7M365.4 484.7L366.0 484.1M366.0 484.1L366.7 483.8M366.7 483.8L367.4 483.2M367.4 483.2L368.1 482.0M367.4 483.2L369.4 483.5M365.4 484.7L365.9 485.3M365.9 485.3L366.7 485.6M366.7 485.6L367.5 486.0M367.5 486.0L369.2 486.3M367.5 486.0L368.5 488.1M361.3 484.5L362.2 485.5M362.2 485.5L362.7 486.8M362.7 486.8L363.1 488.1M363.1 488.1L364.0 488.3M364.0 488.3L364.8 488.7M364.8 488.7L365.4 489.3M365.4 489.3L366.9 489.6M365.4 489.3L366.3 491.3M363.1 488.1L363.0 488.8M363.0 488.8L362.7 489.5M362.7 489.5L362.4 490.2M362.4 490.2L363.3 492.4M362.4 490.2L361.0 492.0M355.0 481.0L353.5 482.9M353.5 482.9L353.5 485.4M353.5 485.4L353.0 487.8M353.0 487.8L353.0 489.1M353.0 489.1L353.7 490.1M353.7 490.1L353.9 491.4M353.9 491.4L354.4 491.9M354.4 491.9L355.0 492.2M355.0 492.2L355.6 492.7M355.6 492.7L357.8 493.6M355.6 492.7L356.5 494.2M353.9 491.4L353.5 492.0M353.5 492.0L353.5 492.7M353.5 492.7L353.2 493.3M353.2 493.3L353.5 494.7M353.2 493.3L352.5 494.5M353.0 487.8L351.8 488.4M351.8 488.4L350.8 489.3M350.8 489.3L350.2 490.5M350.2 490.5L350.1 491.2M350.1 491.2L349.8 491.9M349.8 491.9L349.4 492.5M349.4 492.5L349.4 494.3M349.4 492.5L348.3 494.0M350.2 490.5L349.5 490.8M349.5 490.8L348.6 491.0M348.6 491.0L348.0 491.6M348.0 491.6L346.2 493.2M348.0 491.6L345.9 491.7M355.0 481.0L353.3 482.7M353.3 482.7L351.1 483.9M351.1 483.9L349.2 485.4M349.2 485.4L348.1 486.4M348.1 486.4L346.8 487.1M346.8 487.1L346.3 488.5M346.3 488.5L346.4 489.3M346.4 489.3L346.2 490.0M346.2 490.0L346.0 490.7M346.0 490.7L347.0 492.8M346.0 490.7L345.4 492.1M346.3 488.5L345.7 488.9M345.7 488.9L345.2 489.4M345.2 489.4L344.5 489.9M344.5 489.9L343.4 491.5M344.5 489.9L342.5 490.0M349.2 485.4L347.8 485.5M347.8 485.5L346.5 485.1M346.5 485.1L345.2 484.6M345.2 484.6L344.4 484.8M344.4 484.8L343.6 484.7M343.6 484.7L342.8 484.8M342.8 484.8L341.3 485.7M342.8 484.8L340.8 484.2M345.2 484.6L344.7 484.2M344.7 484.2L344.1 483.9M344.1 483.9L343.5 483.4M343.5 483.4L341.7 483.0M343.5 483.4L342.7 482.1M370.7 481.2L373.1 482.8M370.3 482.4L372.3 484.2M370.6 484.3L372.3 484.1M369.4 485.9L372.9 484.5M368.5 487.2L371.9 486.7M368.3 488.5L369.7 490.9M367.0 490.2L367.5 493.2M365.8 491.0L368.4 493.1M364.9 492.1L365.9 495.4M364.1 493.7L365.3 494.8M361.5 494.2L363.8 496.8M361.1 495.6L363.7 495.7M358.5 495.9L357.6 498.9M357.5 495.6L358.1 498.4M355.8 497.0L355.1 498.2M354.4 497.0L353.6 499.1M352.3 496.5L350.3 498.5M351.1 495.9L350.4 497.5M348.0 495.3L347.1 496.4M347.8 494.1L345.2 495.9M346.1 493.5L343.7 494.8M345.0 492.0L344.8 494.7M343.1 490.7L341.7 492.8M342.8 489.7L339.9 491.1M341.5 489.0L339.5 489.5M340.4 486.5L337.4 484.9M340.0 485.4L338.4 486.3M339.6 483.8L338.0 484.9M339.2 481.3L337.3 479.5M339.4 480.3L337.7 481.2M339.3 479.0L336.9 479.8M340.6 477.1L338.6 475.9M341.5 474.9L339.9 472.7M340.8 473.8L339.4 473.3M342.3 472.8L339.7 472.5M344.1 471.1L343.0 467.9M344.7 470.2L341.7 470.2M346.2 468.2L345.1 467.2M347.6 467.8L346.3 466.4M348.3 466.4L349.8 464.4M350.9 466.0L352.0 464.1M351.4 465.9L349.0 465.0M353.6 466.1L353.8 462.9M356.1 465.0L357.0 463.2M357.1 465.4L355.6 463.2M358.8 466.2L360.5 464.3M360.7 466.6L363.2 465.0M361.2 467.4L360.5 464.9M363.8 468.7L365.1 466.7M364.7 469.4L365.8 466.7M366.7 470.4L367.7 469.8M367.2 470.7L367.2 469.1M368.4 473.2L370.2 471.7M368.6 474.6L370.3 472.4M369.1 476.4L370.8 474.3M370.1 477.7L371.9 479.8M370.2 479.8L372.2 481.4" fill="none" stroke="#303030" stroke-width="0.58"/>
<path d="M358.8 517.0L359.0 519.4M359.0 519.4L359.0 521.9M359.0 521.9L360.4 523.9M360.4 523.9L361.6 524.3M361.6 524.3L362.5 525.3M362.5 525.3L363.3 526.3M363.3 526.3L364.0 526.2M364.0 526.2L364.6 526.1M364.6 526.1L365.3 526.2M365.3 526.2L367.4 525.4M365.3 526.2L367.0 526.9M363.3 526.3L363.7 526.9M363.7 526.9L364.0 527.6M364.0 527.6L364.2 528.3M364.2 528.3L366.0 529.3M364.2 528.3L364.6 529.7M360.4 523.9L360.8 525.3M360.8 525.3L361.1 526.6M361.1 526.6L361.0 528.0M361.0 528.0L361.6 528.7M361.6 528.7L362.0 529.5M362.0 529.5L362.3 530.3M362.3 530.3L363.5 531.3M362.3 530.3L361.9 532.6M361.0 528.0L360.8 528.7M360.8 528.7L360.7 529.4M360.7 529.4L360.2 529.9M360.2 529.9L360.1 532.1M360.2 529.9L358.8 530.6M358.8 517.0L358.3 519.4M358.3 519.4L357.0 521.5M357.0 521.5L355.8 523.6M355.8 523.6L356.3 524.9M356.3 524.9L356.8 526.3M356.8 526.3L356.8 527.7M356.8 527.7L357.3 528.5M357.3 528.5L358.0 529.1M358.0 529.1L358.4 529.9M358.4 529.9L359.9 530.5M358.4 529.9L358.8 531.5M356.8 527.7L356.7 528.5M356.7 528.5L356.5 529.2M356.5 529.2L356.1 529.8M356.1 529.8L356.2 531.4M356.1 529.8L354.2 531.2M355.8 523.6L355.0 524.6M355.0 524.6L354.2 525.6M354.2 525.6L353.4 526.5M353.4 526.5L352.9 527.1M352.9 527.1L352.8 527.8M352.8 527.8L352.7 528.6M352.7 528.6L352.6 530.3M352.7 528.6L351.7 529.6M353.4 526.5L352.7 526.7M352.7 526.7L352.1 527.0M352.1 527.0L351.4 527.2M351.4 527.2L350.5 528.4M351.4 527.2L349.6 527.0M358.8 517.0L356.4 517.8M356.4 517.8L354.2 518.8M354.2 518.8L352.2 520.1M352.2 520.1L351.6 521.4M351.6 521.4L351.1 522.6M351.1 522.6L350.2 523.7M350.2 523.7L350.3 524.6M350.3 524.6L350.3 525.5M350.3 525.5L350.3 526.3M350.3 526.3L351.1 527.6M350.3 526.3L349.1 528.0M350.2 523.7L349.5 523.8M349.5 523.8L348.8 524.0M348.8 524.0L348.0 524.1M348.0 524.1L346.2 525.6M348.0 524.1L345.9 523.7M352.2 520.1L350.8 519.7M350.8 519.7L349.4 519.3M349.4 519.3L348.1 518.6M348.1 518.6L347.3 518.5M347.3 518.5L346.6 518.6M346.6 518.6L345.9 518.7M345.9 518.7L344.6 519.3M345.9 518.7L344.1 518.2M348.1 518.6L347.6 517.9M347.6 517.9L347.0 517.5M347.0 517.5L346.6 516.8M346.6 516.8L344.7 515.9M346.6 516.8L345.9 514.6M358.8 517.0L356.4 516.3M356.4 516.3L354.5 514.8M354.5 514.8L352.8 513.0M352.8 513.0L351.5 513.5M351.5 513.5L350.2 513.2M350.2 513.2L348.9 512.9M348.9 512.9L348.1 513.5M348.1 513.5L347.7 514.2M347.7 514.2L347.0 514.8M347.0 514.8L346.4 516.2M347.0 514.8L344.6 514.9M348.9 512.9L348.1 512.7M348.1 512.7L347.4 512.3M347.4 512.3L346.6 512.3M346.6 512.3L344.8 512.4M346.6 512.3L345.4 510.9M352.8 513.0L352.4 511.4M352.4 511.4L352.1 509.8M352.1 509.8L351.6 508.3M351.6 508.3L350.8 508.0M350.8 508.0L350.0 507.5M350.0 507.5L349.2 507.1M349.2 507.1L346.8 507.4M349.2 507.1L348.2 506.1M351.6 508.3L351.6 507.4M351.6 507.4L351.7 506.5M351.7 506.5L351.3 505.8M351.3 505.8L350.2 504.5M351.3 505.8L352.2 503.6M358.8 517.0L357.8 514.7M357.8 514.7L358.5 512.4M358.5 512.4L359.2 510.1M359.2 510.1L358.6 508.7M358.6 508.7L358.1 507.4M358.1 507.4L357.4 506.2M357.4 506.2L356.6 505.7M356.6 505.7L355.8 505.5M355.8 505.5L355.0 505.1M355.0 505.1L352.7 505.7M355.0 505.1L353.8 504.1M357.4 506.2L357.8 505.3M357.8 505.3L358.1 504.4M358.1 504.4L358.4 503.5M358.4 503.5L357.9 501.5M358.4 503.5L359.1 501.4M359.2 510.1L359.4 508.5M359.4 508.5L359.7 506.9M359.7 506.9L360.7 505.7M360.7 505.7L361.0 504.7M361.0 504.7L361.0 503.6M361.0 503.6L361.1 502.6M361.1 502.6L360.2 500.6M361.1 502.6L361.8 500.6M360.7 505.7L361.6 505.2M361.6 505.2L362.6 504.7M362.6 504.7L363.4 504.0M363.4 504.0L363.9 502.2M363.4 504.0L365.3 503.7M358.8 517.0L359.6 514.7M359.6 514.7L361.1 512.8M361.1 512.8L362.4 510.7M362.4 510.7L362.5 509.4M362.5 509.4L362.8 508.1M362.8 508.1L363.4 506.9M363.4 506.9L363.4 506.3M363.4 506.3L363.2 505.6M363.2 505.6L363.1 505.0M363.1 505.0L361.8 503.7M363.1 505.0L363.1 503.5M363.4 506.9L363.9 506.5M363.9 506.5L364.5 506.1M364.5 506.1L365.0 505.6M365.0 505.6L365.6 503.5M365.0 505.6L367.1 505.0M362.4 510.7L363.6 509.9M363.6 509.9L365.0 509.8M365.0 509.8L366.5 509.7M366.5 509.7L367.1 509.2M367.1 509.2L367.6 508.4M367.6 508.4L368.4 508.1M368.4 508.1L369.7 506.1M368.4 508.1L370.7 507.9M366.5 509.7L367.4 510.1M367.4 510.1L368.1 510.8M368.1 510.8L369.0 511.1M369.0 511.1L370.7 510.7M369.0 511.1L370.7 512.8M358.8 517.0L361.2 517.0M361.2 517.0L363.5 517.8M363.5 517.8L365.9 517.5M365.9 517.5L367.0 516.6M367.0 516.6L368.3 516.1M368.3 516.1L369.5 515.4M369.5 515.4L370.2 515.0M370.2 515.0L370.6 514.3M370.6 514.3L371.1 513.7M371.1 513.7L371.3 512.3M371.1 513.7L373.1 512.6M369.5 515.4L370.4 515.4M370.4 515.4L371.2 515.3M371.2 515.3L372.0 515.3M372.0 515.3L373.4 514.3M372.0 515.3L374.1 516.2M365.9 517.5L367.0 518.6M367.0 518.6L367.7 520.0M367.7 520.0L368.6 521.2M368.6 521.2L369.4 521.4M369.4 521.4L370.1 521.7M370.1 521.7L370.8 522.1M370.8 522.1L372.4 521.7M370.8 522.1L372.6 523.2M368.6 521.2L368.5 522.0M368.5 522.0L368.7 522.8M368.7 522.8L369.1 523.5M369.1 523.5L370.0 525.1M369.1 523.5L369.1 525.6M373.8 516.6L376.1 517.1M374.3 518.4L376.3 521.3M374.2 521.1L374.9 523.0M373.6 521.4L375.6 519.9M371.9 523.9L374.5 525.5M372.6 524.6L372.7 526.9M370.6 526.8L373.7 526.2M369.1 527.5L369.4 531.0M368.0 528.6L369.0 531.6M367.6 530.1L369.0 531.4M365.5 530.5L364.7 533.3M364.5 531.7L366.6 532.6M363.5 532.3L361.5 534.7M360.7 531.7L363.2 533.6M359.0 532.6L360.2 535.1M357.9 532.0L360.2 534.1M355.8 532.0L353.1 533.5M354.3 532.2L355.8 534.4M353.2 531.5L354.6 534.6M351.0 529.9L348.1 531.3M349.6 528.9L346.5 529.0M347.4 528.3L348.1 531.0M346.8 527.6L346.8 529.1M346.1 526.7L346.3 529.2M345.7 524.3L343.2 525.0M344.9 522.4L343.3 525.5M343.5 521.4L341.7 520.2M343.8 519.9L341.8 523.0M343.3 517.8L341.0 515.5M343.8 515.9L341.6 515.8M343.4 514.8L342.0 513.6M344.5 513.1L343.0 510.4M344.2 510.5L344.0 507.6M344.7 510.0L341.9 510.3M346.1 509.1L345.1 506.7M347.3 506.8L346.5 505.1M348.3 506.4L346.8 503.9M349.7 503.9L348.2 503.5M350.6 504.0L351.4 501.7M352.7 502.4L354.0 500.1M354.5 501.7L352.5 500.2M355.7 502.5L354.9 499.5M358.2 501.9L360.1 499.5M359.9 501.3L362.4 499.3M360.5 501.5L361.6 500.2M363.2 502.2L364.0 500.7M363.5 502.4L363.6 500.6M366.3 503.2L367.2 501.1M366.8 504.6L368.8 502.1M368.1 505.4L367.9 502.0M369.0 506.3L369.4 503.1M371.3 507.9L373.5 506.6M371.3 508.7L374.0 507.4M372.9 510.6L373.6 508.6M373.7 511.7L376.0 511.5M373.1 513.4L375.8 512.3M373.7 516.0L375.6 513.4" fill="none" stroke="#303030" stroke-width="0.58"/>
<path d="M363.8 554.8L365.7 556.2M365.7 556.2L367.4 558.0M367.4 558.0L369.5 559.3M369.5 559.3L370.8 559.1M370.8 559.1L371.9 559.7M371.9 559.7L373.2 559.9M373.2 559.9L373.9 559.5M373.9 559.5L374.5 559.0M374.5 559.0L375.3 558.9M375.3 558.9L376.5 557.8M375.3 558.9L376.9 559.0M373.2 559.9L373.6 560.4M373.6 560.4L374.3 560.6M374.3 560.6L374.7 561.1M374.7 561.1L376.7 561.6M374.7 561.1L375.6 562.3M369.5 559.3L369.7 560.8M369.7 560.8L370.4 562.2M370.4 562.2L371.4 563.3M371.4 563.3L371.9 563.8M371.9 563.8L372.4 564.4M372.4 564.4L373.1 564.7M373.1 564.7L374.7 565.1M373.1 564.7L374.2 566.5M371.4 563.3L371.6 564.2M371.6 564.2L371.3 565.1M371.3 565.1L371.5 566.0M371.5 566.0L372.9 567.8M371.5 566.0L370.8 567.5M363.8 554.8L364.6 557.0M364.6 557.0L364.2 559.5M364.2 559.5L364.8 561.8M364.8 561.8L366.0 562.8M366.0 562.8L367.2 564.0M367.2 564.0L367.6 565.5M367.6 565.5L368.3 566.0M368.3 566.0L369.1 566.3M369.1 566.3L370.0 566.5M370.0 566.5L371.4 566.9M370.0 566.5L371.4 568.4M367.6 565.5L367.5 566.6M367.5 566.6L367.4 567.6M367.4 567.6L367.2 568.7M367.2 568.7L367.7 570.0M367.2 568.7L366.5 570.1M364.8 561.8L363.9 563.0M363.9 563.0L363.0 564.1M363.0 564.1L362.0 565.3M362.0 565.3L362.0 566.0M362.0 566.0L362.1 566.8M362.1 566.8L362.1 567.6M362.1 567.6L363.0 568.8M362.1 567.6L361.2 569.1M362.0 565.3L361.4 566.0M361.4 566.0L360.7 566.7M360.7 566.7L359.9 567.1M359.9 567.1L358.8 569.2M359.9 567.1L358.1 567.4M363.8 554.8L361.7 556.1M361.7 556.1L359.7 557.4M359.7 557.4L357.8 559.1M357.8 559.1L357.8 560.5M357.8 560.5L357.5 561.9M357.5 561.9L356.8 563.1M356.8 563.1L356.7 563.9M356.7 563.9L356.5 564.6M356.5 564.6L356.6 565.4M356.6 565.4L357.5 567.3M356.6 565.4L356.0 567.6M356.8 563.1L356.2 563.8M356.2 563.8L355.8 564.6M355.8 564.6L355.2 565.3M355.2 565.3L354.3 567.3M355.2 565.3L353.3 566.1M357.8 559.1L356.7 559.6M356.7 559.6L355.5 559.5M355.5 559.5L354.3 559.9M354.3 559.9L353.9 560.4M353.9 560.4L353.3 560.8M353.3 560.8L352.8 561.2M352.8 561.2L352.1 562.7M352.8 561.2L351.3 561.3M354.3 559.9L353.7 559.4M353.7 559.4L352.9 559.1M352.9 559.1L352.1 558.9M352.1 558.9L350.1 558.7M352.1 558.9L351.0 556.9M363.8 554.8L361.6 553.7M361.6 553.7L359.2 552.8M359.2 552.8L356.8 552.5M356.8 552.5L355.3 552.7M355.3 552.7L353.8 552.6M353.8 552.6L352.3 552.5M352.3 552.5L351.6 553.0M351.6 553.0L350.8 553.3M350.8 553.3L350.1 553.7M350.1 553.7L349.2 555.1M350.1 553.7L347.7 553.8M352.3 552.5L351.5 552.0M351.5 552.0L350.9 551.3M350.9 551.3L349.9 551.1M349.9 551.1L347.8 550.9M349.9 551.1L349.0 549.6M356.8 552.5L355.8 551.2M355.8 551.2L355.3 549.6M355.3 549.6L354.4 548.2M354.4 548.2L353.7 547.6M353.7 547.6L352.8 547.3M352.8 547.3L351.9 547.0M351.9 547.0L349.6 547.5M351.9 547.0L350.7 545.8M354.4 548.2L354.0 547.4M354.0 547.4L353.5 546.7M353.5 546.7L353.3 545.8M353.3 545.8L352.0 543.9M353.3 545.8L354.0 543.7M363.8 554.8L363.5 552.3M363.5 552.3L363.9 549.9M363.9 549.9L365.3 547.9M365.3 547.9L364.6 546.5M364.6 546.5L364.0 545.1M364.0 545.1L363.8 543.6M363.8 543.6L362.9 543.2M362.9 543.2L362.0 542.8M362.0 542.8L361.1 542.5M361.1 542.5L359.3 542.1M361.1 542.5L360.0 540.7M363.8 543.6L363.7 542.7M363.7 542.7L363.5 541.8M363.5 541.8L363.7 541.0M363.7 541.0L363.2 539.5M363.7 541.0L364.5 539.1M365.3 547.9L365.9 546.7M365.9 546.7L366.3 545.3M366.3 545.3L366.6 544.0M366.6 544.0L366.9 543.3M366.9 543.3L366.7 542.6M366.7 542.6L366.7 541.8M366.7 541.8L366.2 540.3M366.7 541.8L367.7 540.5M366.6 544.0L367.5 543.9M367.5 543.9L368.2 543.2M368.2 543.2L368.8 542.6M368.8 542.6L370.0 540.5M368.8 542.6L370.8 542.9M363.8 554.8L365.8 553.5M365.8 553.5L368.2 552.9M368.2 552.9L370.4 551.7M370.4 551.7L370.6 550.2M370.6 550.2L371.5 549.0M371.5 549.0L372.1 547.5M372.1 547.5L372.2 546.8M372.2 546.8L372.3 546.0M372.3 546.0L371.9 545.3M371.9 545.3L370.6 543.7M371.9 545.3L372.3 543.9M372.1 547.5L373.0 547.0M373.0 547.0L373.8 546.5M373.8 546.5L374.5 545.7M374.5 545.7L375.0 543.3M374.5 545.7L376.2 545.1M370.4 551.7L371.8 551.7M371.8 551.7L373.1 551.3M373.1 551.3L374.4 551.8M374.4 551.8L375.0 551.4M375.0 551.4L375.7 551.3M375.7 551.3L376.4 550.9M376.4 550.9L377.8 549.7M376.4 550.9L378.7 551.1M374.4 551.8L375.1 552.1M375.1 552.1L375.7 552.5M375.7 552.5L376.4 552.8M376.4 552.8L378.2 552.8M376.4 552.8L377.5 554.4M379.5 554.9L381.2 555.4M378.9 555.8L381.1 558.1M379.3 558.1L381.6 556.6M378.0 559.7L380.1 562.0M377.3 561.1L379.8 562.1M376.3 562.4L377.9 565.2M375.4 563.8L378.7 564.2M374.5 565.2L377.3 566.4M373.2 566.9L373.9 569.0M372.1 567.7L371.7 570.4M370.7 568.0L370.0 570.7M368.8 569.9L368.8 571.6M368.1 569.2L370.6 571.1M365.9 569.8L368.1 572.3M363.6 569.5L363.7 571.9M362.5 569.5L360.2 572.1M361.5 570.1L360.7 572.6M359.2 569.7L359.8 571.9M358.1 568.7L355.9 570.1M356.3 567.9L354.2 570.0M354.3 567.4L351.7 566.8M353.6 566.7L351.5 567.9M352.0 565.7L350.5 566.1M350.9 563.6L347.7 563.2M349.6 561.7L348.7 563.1M349.1 560.3L346.9 561.4M348.2 558.7L346.4 558.3M348.6 557.1L347.0 559.7M347.7 555.5L346.1 554.3M347.8 554.6L346.3 554.6M348.9 551.5L347.4 549.2M349.4 550.7L346.4 551.1M349.9 549.0L348.1 548.0M349.8 547.4L348.3 547.2M351.3 545.8L350.3 543.0M351.9 545.2L350.9 543.1M353.7 542.7L351.1 542.1M354.6 542.5L352.0 542.3M355.9 541.7L354.0 540.5M357.4 541.2L355.2 539.2M359.7 540.2L361.2 537.7M360.5 540.3L358.7 537.9M362.3 539.5L361.9 537.7M363.4 539.3L362.7 537.3M366.6 539.6L364.4 536.8M367.7 540.5L370.4 539.0M369.0 540.0L369.8 538.7M370.9 541.5L373.7 540.2M371.8 541.9L373.9 541.0M374.1 542.6L375.9 541.5M375.4 544.0L378.1 544.1M376.2 545.3L376.8 543.1M377.0 546.4L379.0 546.3M378.4 548.3L380.8 549.7M378.4 549.7L379.9 547.3M378.8 551.3L380.9 549.8M379.3 552.7L380.3 551.0" fill="none" stroke="#303030" stroke-width="0.58"/>
<path d="M380.0 588.5L379.3 586.2M379.3 586.2L378.3 583.9M378.3 583.9L376.9 581.9M376.9 581.9L375.7 581.3M375.7 581.3L374.4 581.0M374.4 581.0L373.1 580.5M373.1 580.5L372.4 580.4M372.4 580.4L371.8 580.5M371.8 580.5L371.1 580.3M371.1 580.3L369.9 581.0M371.1 580.3L369.0 579.5M373.1 580.5L372.6 580.0M372.6 580.0L372.1 579.4M372.1 579.4L371.8 578.7M371.8 578.7L370.2 577.8M371.8 578.7L371.5 576.6M376.9 581.9L376.4 580.4M376.4 580.4L376.9 578.9M376.9 578.9L376.1 577.5M376.1 577.5L375.6 576.6M375.6 576.6L375.3 575.7M375.3 575.7L374.8 574.7M374.8 574.7L372.6 573.9M374.8 574.7L374.5 572.7M376.1 577.5L376.4 576.6M376.4 576.6L377.0 575.9M377.0 575.9L377.5 575.2M377.5 575.2L377.8 573.2M377.5 575.2L379.7 574.1M380.0 588.5L381.0 586.3M381.0 586.3L382.3 584.2M382.3 584.2L383.6 582.1M383.6 582.1L383.9 580.7M383.9 580.7L384.0 579.4M384.0 579.4L384.3 578.0M384.3 578.0L383.9 577.2M383.9 577.2L383.2 576.6M383.2 576.6L382.5 576.0M382.5 576.0L380.9 574.9M382.5 576.0L382.5 574.5M384.3 578.0L384.7 577.2M384.7 577.2L385.0 576.4M385.0 576.4L385.7 575.9M385.7 575.9L386.0 573.5M385.7 575.9L387.9 574.8M383.6 582.1L384.9 581.3M384.9 581.3L386.4 581.2M386.4 581.2L387.8 580.6M387.8 580.6L388.0 579.6M388.0 579.6L388.3 578.6M388.3 578.6L388.7 577.7M388.7 577.7L388.8 575.4M388.7 577.7L390.5 576.2M387.8 580.6L388.6 580.7M388.6 580.7L389.5 580.7M389.5 580.7L390.3 581.0M390.3 581.0L391.5 580.1M390.3 581.0L392.5 581.9M380.0 588.5L382.4 589.1M382.4 589.1L384.7 590.0M384.7 590.0L387.1 589.5M387.1 589.5L387.9 588.2M387.9 588.2L388.8 587.0M388.8 587.0L389.8 585.8M389.8 585.8L389.7 584.9M389.7 584.9L390.1 584.0M390.1 584.0L390.7 583.2M390.7 583.2L390.3 581.3M390.7 583.2L391.8 581.9M389.8 585.8L390.7 585.7M390.7 585.7L391.6 585.3M391.6 585.3L392.5 585.2M392.5 585.2L394.0 584.2M392.5 585.2L394.3 585.7M387.1 589.5L388.1 590.7M388.1 590.7L389.2 591.9M389.2 591.9L390.3 593.0M390.3 593.0L391.2 592.8M391.2 592.8L392.1 592.8M392.1 592.8L393.0 592.6M393.0 592.6L394.3 591.9M393.0 592.6L394.4 593.1M390.3 593.0L390.6 594.0M390.6 594.0L391.0 594.8M391.0 594.8L391.2 595.8M391.2 595.8L392.7 596.9M391.2 595.8L391.6 597.5M380.0 588.5L380.8 590.8M380.8 590.8L382.6 592.4M382.6 592.4L384.3 594.2M384.3 594.2L385.7 594.5M385.7 594.5L387.0 595.2M387.0 595.2L388.3 595.7M388.3 595.7L389.1 595.7M389.1 595.7L389.9 595.4M389.9 595.4L390.7 595.4M390.7 595.4L391.8 594.2M390.7 595.4L392.8 595.9M388.3 595.7L388.6 596.6M388.6 596.6L389.0 597.4M389.0 597.4L389.7 598.0M389.7 598.0L392.0 598.5M389.7 598.0L389.9 600.1M384.3 594.2L384.1 595.5M384.1 595.5L384.0 596.8M384.0 596.8L383.7 598.0M383.7 598.0L384.0 598.7M384.0 598.7L384.5 599.2M384.5 599.2L385.1 599.7M385.1 599.7L386.6 600.2M385.1 599.7L385.6 601.7M383.7 598.0L383.3 598.8M383.3 598.8L383.0 599.6M383.0 599.6L382.9 600.5M382.9 600.5L383.3 602.4M382.9 600.5L381.6 601.5M380.0 588.5L378.2 590.1M378.2 590.1L376.4 591.8M376.4 591.8L375.9 594.2M375.9 594.2L375.6 595.6M375.6 595.6L375.3 596.9M375.3 596.9L375.4 598.3M375.4 598.3L375.9 599.0M375.9 599.0L376.3 599.7M376.3 599.7L377.0 600.3M377.0 600.3L378.3 600.7M377.0 600.3L377.5 601.7M375.4 598.3L374.9 599.0M374.9 599.0L374.2 599.6M374.2 599.6L373.5 600.3M373.5 600.3L373.4 602.6M373.5 600.3L372.1 601.3M375.9 594.2L374.8 594.9M374.8 594.9L373.7 595.7M373.7 595.7L372.5 596.3M372.5 596.3L372.1 596.9M372.1 596.9L371.9 597.6M371.9 597.6L371.4 598.1M371.4 598.1L371.0 599.8M371.4 598.1L370.2 599.3M372.5 596.3L371.6 596.4M371.6 596.4L370.7 596.2M370.7 596.2L369.9 596.0M369.9 596.0L368.0 596.4M369.9 596.0L368.0 595.0M380.0 588.5L377.6 588.7M377.6 588.7L375.1 589.1M375.1 589.1L372.8 589.8M372.8 589.8L371.8 590.6M371.8 590.6L370.5 591.0M370.5 591.0L369.4 591.8M369.4 591.8L369.2 592.5M369.2 592.5L368.8 593.1M368.8 593.1L368.4 593.8M368.4 593.8L368.6 595.3M368.4 593.8L367.2 595.3M369.4 591.8L368.7 591.9M368.7 591.9L368.0 592.1M368.0 592.1L367.4 592.5M367.4 592.5L365.7 593.4M367.4 592.5L366.1 591.8M372.8 589.8L371.3 589.5M371.3 589.5L370.0 588.6M370.0 588.6L368.5 588.3M368.5 588.3L367.6 588.4M367.6 588.4L366.7 588.7M366.7 588.7L365.8 588.5M365.8 588.5L364.3 589.4M365.8 588.5L363.8 587.7M368.5 588.3L368.2 587.4M368.2 587.4L367.7 586.7M367.7 586.7L367.5 585.8M367.5 585.8L365.8 584.7M367.5 585.8L367.1 584.0M394.7 589.2L397.8 589.0M395.9 590.6L397.7 589.1M395.0 592.0L397.9 591.3M394.6 593.7L396.4 592.7M393.9 595.2L395.8 595.0M393.5 597.2L394.5 599.0M392.1 598.0L392.0 600.9M391.1 599.1L393.3 599.6M390.0 600.5L391.8 601.0M388.5 601.4L390.1 603.0M386.8 601.8L386.6 605.2M385.2 602.3L387.1 604.7M383.4 603.5L381.3 605.7M382.3 604.3L384.4 605.3M380.9 603.4L379.4 606.5M378.9 603.6L378.8 605.5M376.7 602.9L378.1 606.0M375.6 603.2L375.3 604.8M373.1 602.8L372.3 604.9M372.5 602.0L373.6 604.5M371.0 600.5L369.6 602.5M370.1 599.7L368.1 601.9M368.3 598.2L366.5 600.5M367.5 597.5L364.8 597.3M366.6 596.4L364.6 596.4M365.8 593.6L363.1 594.7M364.4 592.2L363.0 595.1M364.7 591.2L362.3 591.2M365.1 588.7L362.8 586.8M364.5 587.4L363.0 589.6M365.4 586.6L362.6 586.2M365.6 584.7L363.4 584.0M366.2 582.3L364.2 581.4M366.9 581.0L363.7 580.5M367.4 579.4L364.6 580.3M368.3 578.6L368.2 576.0M369.3 577.9L368.5 575.9M370.2 576.2L369.4 574.4M373.0 575.3L371.6 572.5M373.7 574.0L374.5 571.2M375.3 573.1L373.7 572.7M376.7 573.4L374.1 571.8M378.4 572.9L375.8 570.9M379.9 572.5L380.4 570.8M381.3 573.8L382.1 570.6M384.5 573.8L383.6 571.0M385.9 573.8L385.0 571.2M387.0 575.2L390.2 574.6M388.6 576.6L391.2 574.4M389.8 576.5L389.7 574.4M390.6 578.1L394.4 578.0M392.5 579.7L394.1 578.8M393.2 579.5L394.4 578.4M394.0 582.5L396.5 581.4M394.8 583.0L395.0 580.4M395.0 584.9L397.4 585.0M394.9 586.4L398.0 587.8" fill="none" stroke="#303030" stroke-width="0.58"/>
<path d="M1097.5 306.0L1096.7 303.7M1096.7 303.7L1095.5 301.6M1095.5 301.6L1094.3 299.4M1094.3 299.4L1093.4 298.5M1093.4 298.5L1092.1 298.1M1092.1 298.1L1090.9 297.6M1090.9 297.6L1090.3 297.3M1090.3 297.3L1089.6 297.2M1089.6 297.2L1088.9 297.0M1088.9 297.0L1087.6 297.8M1088.9 297.0L1087.1 296.2M1090.9 297.6L1090.9 296.7M1090.9 296.7L1090.4 296.0M1090.4 296.0L1089.8 295.4M1089.8 295.4L1088.5 294.1M1089.8 295.4L1089.7 293.6M1094.3 299.4L1094.1 297.8M1094.1 297.8L1094.0 296.2M1094.0 296.2L1093.7 294.6M1093.7 294.6L1093.4 293.8M1093.4 293.8L1092.9 293.1M1092.9 293.1L1092.4 292.4M1092.4 292.4L1091.2 290.7M1092.4 292.4L1092.8 290.7M1093.7 294.6L1094.5 293.9M1094.5 293.9L1095.0 292.9M1095.0 292.9L1095.4 291.9M1095.4 291.9L1096.0 290.1M1095.4 291.9L1097.8 291.3M1097.5 306.0L1099.0 304.0M1099.0 304.0L1101.3 303.2M1101.3 303.2L1103.3 301.8M1103.3 301.8L1103.9 300.7M1103.9 300.7L1104.4 299.4M1104.4 299.4L1104.9 298.2M1104.9 298.2L1104.9 297.6M1104.9 297.6L1104.6 297.0M1104.6 297.0L1104.5 296.3M1104.5 296.3L1103.2 294.9M1104.5 296.3L1104.8 294.0M1104.9 298.2L1105.6 297.8M1105.6 297.8L1105.9 297.2M1105.9 297.2L1106.4 296.6M1106.4 296.6L1106.7 295.2M1106.4 296.6L1107.7 296.0M1103.3 301.8L1104.8 301.6M1104.8 301.6L1106.3 301.0M1106.3 301.0L1107.8 300.6M1107.8 300.6L1108.4 299.9M1108.4 299.9L1109.1 299.4M1109.1 299.4L1109.9 299.0M1109.9 299.0L1110.6 297.3M1109.9 299.0L1112.1 298.8M1107.8 300.6L1108.9 300.8M1108.9 300.8L1109.8 301.4M1109.8 301.4L1110.8 301.4M1110.8 301.4L1112.8 301.7M1110.8 301.4L1112.5 302.9M1097.5 306.0L1099.9 305.8M1099.9 305.8L1102.1 307.0M1102.1 307.0L1104.1 308.3M1104.1 308.3L1105.7 307.9M1105.7 307.9L1107.2 307.4M1107.2 307.4L1108.6 306.7M1108.6 306.7L1109.3 306.0M1109.3 306.0L1110.1 305.4M1110.1 305.4L1110.3 304.4M1110.3 304.4L1110.7 302.3M1110.3 304.4L1111.5 303.5M1108.6 306.7L1109.5 307.1M1109.5 307.1L1110.5 307.2M1110.5 307.2L1111.5 307.4M1111.5 307.4L1113.0 307.2M1111.5 307.4L1113.0 308.8M1104.1 308.3L1105.3 309.5M1105.3 309.5L1106.2 310.8M1106.2 310.8L1107.7 311.5M1107.7 311.5L1108.6 311.6M1108.6 311.6L1109.4 311.9M1109.4 311.9L1110.2 312.4M1110.2 312.4L1112.5 312.0M1110.2 312.4L1111.8 313.9M1107.7 311.5L1108.0 312.3M1108.0 312.3L1108.3 313.1M1108.3 313.1L1108.8 313.8M1108.8 313.8L1109.8 315.3M1108.8 313.8L1108.7 315.3M1097.5 306.0L1099.1 307.8M1099.1 307.8L1099.7 310.2M1099.7 310.2L1100.9 312.4M1100.9 312.4L1102.1 312.4M1102.1 312.4L1103.2 313.1M1103.2 313.1L1104.4 313.7M1104.4 313.7L1105.1 313.6M1105.1 313.6L1105.9 313.7M1105.9 313.7L1106.6 313.3M1106.6 313.3L1108.3 311.9M1106.6 313.3L1108.3 313.7M1104.4 313.7L1104.7 314.4M1104.7 314.4L1105.3 314.7M1105.3 314.7L1105.8 315.3M1105.8 315.3L1107.3 316.2M1105.8 315.3L1106.0 317.1M1100.9 312.4L1101.1 313.6M1101.1 313.6L1101.1 314.9M1101.1 314.9L1101.1 316.2M1101.1 316.2L1101.4 316.7M1101.4 316.7L1101.7 317.3M1101.7 317.3L1102.1 317.7M1102.1 317.7L1104.0 318.5M1102.1 317.7L1102.5 319.2M1101.1 316.2L1100.6 316.8M1100.6 316.8L1100.2 317.5M1100.2 317.5L1100.0 318.2M1100.0 318.2L1099.9 320.5M1100.0 318.2L1098.8 319.6M1097.5 306.0L1095.7 307.7M1095.7 307.7L1094.4 309.7M1094.4 309.7L1093.1 311.8M1093.1 311.8L1093.4 313.0M1093.4 313.0L1093.9 314.2M1093.9 314.2L1093.9 315.5M1093.9 315.5L1094.2 316.2M1094.2 316.2L1094.8 316.6M1094.8 316.6L1095.4 317.1M1095.4 317.1L1097.1 317.7M1095.4 317.1L1095.5 319.0M1093.9 315.5L1093.7 316.1M1093.7 316.1L1093.3 316.6M1093.3 316.6L1093.1 317.3M1093.1 317.3L1092.9 319.3M1093.1 317.3L1091.9 318.1M1093.1 311.8L1091.9 313.0M1091.9 313.0L1090.8 314.2M1090.8 314.2L1089.2 314.6M1089.2 314.6L1088.8 315.6M1088.8 315.6L1088.3 316.5M1088.3 316.5L1088.0 317.5M1088.0 317.5L1088.2 319.2M1088.0 317.5L1086.5 319.0M1089.2 314.6L1088.3 314.8M1088.3 314.8L1087.5 314.7M1087.5 314.7L1086.6 314.8M1086.6 314.8L1084.9 316.1M1086.6 314.8L1084.7 314.7M1097.5 306.0L1095.4 307.3M1095.4 307.3L1093.9 309.2M1093.9 309.2L1092.4 311.1M1092.4 311.1L1091.9 312.4M1091.9 312.4L1091.7 313.8M1091.7 313.8L1091.7 315.1M1091.7 315.1L1091.7 316.1M1091.7 316.1L1091.6 317.0M1091.6 317.0L1092.2 317.8M1092.2 317.8L1094.0 319.2M1092.2 317.8L1092.3 319.3M1091.7 315.1L1090.9 315.5M1090.9 315.5L1090.0 315.8M1090.0 315.8L1089.4 316.5M1089.4 316.5L1088.2 318.5M1089.4 316.5L1087.0 316.7M1092.4 311.1L1090.8 310.8M1090.8 310.8L1089.2 310.9M1089.2 310.9L1087.7 310.8M1087.7 310.8L1087.0 311.4M1087.0 311.4L1086.1 311.8M1086.1 311.8L1085.2 311.9M1085.2 311.9L1083.8 313.3M1085.2 311.9L1083.1 311.4M1087.7 310.8L1086.9 310.1M1086.9 310.1L1086.0 310.1M1086.0 310.1L1085.3 309.4M1085.3 309.4L1083.0 309.5M1085.3 309.4L1083.9 308.3M1097.5 306.0L1095.1 305.5M1095.1 305.5L1093.0 304.2M1093.0 304.2L1091.1 302.6M1091.1 302.6L1089.6 303.2M1089.6 303.2L1088.0 303.6M1088.0 303.6L1086.4 303.8M1086.4 303.8L1085.4 304.0M1085.4 304.0L1084.4 304.2M1084.4 304.2L1083.5 304.7M1083.5 304.7L1082.1 306.4M1083.5 304.7L1081.4 304.8M1086.4 303.8L1085.4 303.5M1085.4 303.5L1084.4 303.4M1084.4 303.4L1083.6 302.7M1083.6 302.7L1082.0 302.3M1083.6 302.7L1082.6 300.7M1091.1 302.6L1090.4 301.6M1090.4 301.6L1089.6 300.5M1089.6 300.5L1088.5 299.8M1088.5 299.8L1088.0 299.4M1088.0 299.4L1087.5 298.9M1087.5 298.9L1086.8 298.8M1086.8 298.8L1084.8 298.7M1086.8 298.8L1085.9 297.2M1088.5 299.8L1088.6 299.1M1088.6 299.1L1088.3 298.5M1088.3 298.5L1088.3 297.8M1088.3 297.8L1086.5 296.3M1088.3 297.8L1088.3 295.6M1112.6 306.7L1115.2 306.3M1113.3 307.1L1114.9 308.8M1112.2 308.6L1114.1 310.6M1111.6 310.1L1114.4 310.3M1111.6 313.3L1112.2 315.0M1111.1 314.1L1113.8 313.1M1109.6 315.4L1111.2 317.0M1108.2 316.8L1108.6 319.7M1106.8 317.7L1109.1 318.7M1105.3 319.1L1104.4 322.7M1104.1 319.7L1105.2 322.1M1102.2 320.7L1102.0 323.2M1101.0 320.5L1102.0 323.1M1099.4 321.7L1100.2 323.0M1098.3 322.0L1098.7 323.5M1095.5 321.7L1095.2 323.9M1095.1 321.0L1095.4 322.9M1093.0 320.7L1092.0 323.3M1092.0 319.9L1090.8 322.5M1089.9 319.4L1088.1 320.7M1088.6 317.8L1088.0 320.8M1087.0 317.2L1083.6 317.2M1085.5 315.9L1085.3 318.7M1085.0 314.2L1082.7 315.2M1083.7 313.9L1081.1 312.5M1083.6 312.4L1081.6 312.9M1082.5 310.0L1080.1 311.0M1082.0 308.8L1080.4 310.3M1082.5 306.2L1080.4 306.0M1081.7 304.5L1079.7 303.7M1082.6 303.5L1080.5 303.4M1082.8 301.3L1080.7 298.9M1083.1 300.1L1082.3 297.4M1084.6 298.5L1082.4 296.1M1084.4 297.2L1083.6 295.4M1085.8 295.8L1085.3 292.6M1087.2 294.8L1086.1 292.3M1087.9 294.0L1087.3 292.0M1089.5 293.2L1087.4 292.0M1091.2 291.4L1091.2 289.4M1093.3 291.3L1093.5 289.0M1094.0 290.6L1095.5 288.0M1095.5 290.1L1093.4 289.2M1098.1 290.8L1098.7 288.8M1099.7 290.7L1100.6 288.7M1101.8 290.9L1104.0 289.4M1102.9 291.4L1101.4 289.3M1104.5 292.0L1107.3 291.8M1105.6 292.9L1108.8 292.6M1106.7 294.1L1107.7 291.5M1108.0 295.5L1110.0 293.0M1109.4 296.9L1110.5 293.4M1110.3 298.5L1112.2 296.3M1111.6 300.1L1113.0 296.8M1112.6 300.4L1112.8 297.7M1112.3 302.3L1114.4 301.1M1112.7 304.0L1114.6 302.1" fill="none" stroke="#303030" stroke-width="0.58"/>
<path d="M1136.0 306.0L1134.1 304.4M1134.1 304.4L1131.9 303.3M1131.9 303.3L1129.6 302.6M1129.6 302.6L1128.3 302.7M1128.3 302.7L1127.0 302.7M1127.0 302.7L1125.8 302.7M1125.8 302.7L1125.1 303.2M1125.1 303.2L1124.4 303.6M1124.4 303.6L1123.6 304.0M1123.6 304.0L1122.9 305.7M1123.6 304.0L1121.7 304.4M1125.8 302.7L1125.3 301.9M1125.3 301.9L1124.5 301.7M1124.5 301.7L1123.9 301.2M1123.9 301.2L1122.1 300.7M1123.9 301.2L1123.3 299.3M1129.6 302.6L1128.9 301.6M1128.9 301.6L1128.6 300.4M1128.6 300.4L1128.4 299.1M1128.4 299.1L1127.8 298.5M1127.8 298.5L1127.1 298.1M1127.1 298.1L1126.4 297.6M1126.4 297.6L1124.9 297.4M1126.4 297.6L1125.6 295.5M1128.4 299.1L1128.6 298.5M1128.6 298.5L1128.5 297.8M1128.5 297.8L1128.6 297.2M1128.6 297.2L1127.9 295.3M1128.6 297.2L1129.7 295.5M1136.0 306.0L1136.3 303.6M1136.3 303.6L1136.5 301.1M1136.5 301.1L1135.9 298.8M1135.9 298.8L1134.9 297.9M1134.9 297.9L1134.0 296.9M1134.0 296.9L1133.1 295.9M1133.1 295.9L1132.3 295.7M1132.3 295.7L1131.4 295.5M1131.4 295.5L1130.6 295.1M1130.6 295.1L1128.6 295.7M1130.6 295.1L1129.0 293.9M1133.1 295.9L1133.3 295.2M1133.3 295.2L1133.1 294.4M1133.1 294.4L1132.6 293.8M1132.6 293.8L1131.5 292.6M1132.6 293.8L1133.4 291.8M1135.9 298.8L1136.1 297.1M1136.1 297.1L1136.4 295.6M1136.4 295.6L1137.1 294.1M1137.1 294.1L1136.8 293.1M1136.8 293.1L1137.0 292.1M1137.0 292.1L1136.9 291.1M1136.9 291.1L1135.9 289.3M1136.9 291.1L1137.3 289.1M1137.1 294.1L1137.7 293.6M1137.7 293.6L1138.3 293.1M1138.3 293.1L1138.9 292.5M1138.9 292.5L1140.2 290.9M1138.9 292.5L1141.0 292.0M1136.0 306.0L1137.7 304.3M1137.7 304.3L1139.4 302.5M1139.4 302.5L1141.7 301.7M1141.7 301.7L1142.7 300.6M1142.7 300.6L1143.6 299.4M1143.6 299.4L1144.6 298.3M1144.6 298.3L1145.0 297.5M1145.0 297.5L1145.2 296.7M1145.2 296.7L1145.7 295.9M1145.7 295.9L1145.6 294.0M1145.7 295.9L1146.7 294.6M1144.6 298.3L1145.3 297.8M1145.3 297.8L1146.2 297.6M1146.2 297.6L1147.1 297.4M1147.1 297.4L1148.5 296.4M1147.1 297.4L1148.9 298.1M1141.7 301.7L1142.9 302.3M1142.9 302.3L1144.2 302.6M1144.2 302.6L1145.5 302.8M1145.5 302.8L1146.4 302.5M1146.4 302.5L1147.2 302.2M1147.2 302.2L1148.0 301.8M1148.0 301.8L1149.1 300.5M1148.0 301.8L1149.7 301.8M1145.5 302.8L1146.3 303.0M1146.3 303.0L1146.9 303.4M1146.9 303.4L1147.6 303.6M1147.6 303.6L1149.3 304.0M1147.6 303.6L1148.9 305.2M1136.0 306.0L1138.0 307.4M1138.0 307.4L1140.4 308.0M1140.4 308.0L1142.2 309.6M1142.2 309.6L1143.5 309.7M1143.5 309.7L1144.7 309.5M1144.7 309.5L1145.8 308.9M1145.8 308.9L1146.3 308.4M1146.3 308.4L1146.7 307.9M1146.7 307.9L1147.2 307.4M1147.2 307.4L1148.1 305.3M1147.2 307.4L1149.0 306.5M1145.8 308.9L1146.6 309.1M1146.6 309.1L1147.3 309.5M1147.3 309.5L1148.0 310.0M1148.0 310.0L1149.8 309.5M1148.0 310.0L1149.3 311.5M1142.2 309.6L1143.1 310.9M1143.1 310.9L1144.0 312.2M1144.0 312.2L1144.8 313.6M1144.8 313.6L1145.7 313.5M1145.7 313.5L1146.5 313.9M1146.5 313.9L1147.2 314.3M1147.2 314.3L1149.6 314.2M1147.2 314.3L1148.2 315.5M1144.8 313.6L1145.3 314.5M1145.3 314.5L1145.2 315.5M1145.2 315.5L1145.2 316.5M1145.2 316.5L1146.3 317.7M1145.2 316.5L1144.5 318.5M1136.0 306.0L1136.5 308.4M1136.5 308.4L1137.5 310.6M1137.5 310.6L1137.4 313.0M1137.4 313.0L1138.3 313.9M1138.3 313.9L1139.4 314.4M1139.4 314.4L1139.9 315.5M1139.9 315.5L1140.7 315.5M1140.7 315.5L1141.2 316.0M1141.2 316.0L1142.0 316.2M1142.0 316.2L1144.2 316.2M1142.0 316.2L1143.0 317.3M1139.9 315.5L1140.3 316.1M1140.3 316.1L1140.7 316.8M1140.7 316.8L1140.6 317.6M1140.6 317.6L1141.8 318.7M1140.6 317.6L1140.3 319.4M1137.4 313.0L1136.5 314.2M1136.5 314.2L1135.7 315.3M1135.7 315.3L1135.5 316.6M1135.5 316.6L1135.9 317.4M1135.9 317.4L1135.8 318.2M1135.8 318.2L1136.0 318.9M1136.0 318.9L1136.8 320.2M1136.0 318.9L1134.9 321.1M1135.5 316.6L1134.9 317.0M1134.9 317.0L1134.3 317.4M1134.3 317.4L1133.8 317.9M1133.8 317.9L1133.2 319.3M1133.8 317.9L1131.7 318.0M1136.0 306.0L1133.6 306.7M1133.6 306.7L1131.6 308.0M1131.6 308.0L1129.3 309.0M1129.3 309.0L1128.7 310.4M1128.7 310.4L1127.7 311.5M1127.7 311.5L1127.2 313.0M1127.2 313.0L1127.6 313.7M1127.6 313.7L1127.8 314.4M1127.8 314.4L1128.2 315.1M1128.2 315.1L1129.2 316.6M1128.2 315.1L1127.5 316.4M1127.2 313.0L1126.5 313.1M1126.5 313.1L1125.8 313.5M1125.8 313.5L1125.2 314.0M1125.2 314.0L1124.0 315.3M1125.2 314.0L1123.7 314.3M1129.3 309.0L1128.0 308.3M1128.0 308.3L1126.4 308.5M1126.4 308.5L1125.0 308.0M1125.0 308.0L1124.3 308.6M1124.3 308.6L1123.5 309.1M1123.5 309.1L1122.6 309.3M1122.6 309.3L1121.7 310.9M1122.6 309.3L1120.7 309.1M1125.0 308.0L1124.2 307.6M1124.2 307.6L1123.6 306.9M1123.6 306.9L1122.9 306.2M1122.9 306.2L1120.5 305.8M1122.9 306.2L1121.6 304.3M1151.7 306.3L1153.5 307.7M1151.6 307.0L1154.0 306.7M1151.2 309.8L1152.7 311.6M1150.1 310.8L1152.2 312.9M1150.1 312.1L1153.4 310.7M1148.6 314.4L1149.9 316.5M1147.8 315.4L1149.7 316.3M1147.1 317.7L1147.5 319.6M1145.9 318.5L1148.0 318.2M1143.6 318.6L1145.6 320.8M1142.4 320.2L1145.1 320.6M1141.5 320.5L1141.8 322.6M1140.4 320.6L1142.3 322.9M1138.5 320.7L1137.1 324.1M1136.6 321.2L1134.6 323.4M1134.0 321.9L1132.8 323.7M1133.5 321.8L1132.1 322.7M1131.8 320.1L1132.2 323.4M1129.5 319.5L1128.5 322.1M1129.1 319.4L1126.8 320.7M1126.2 318.6L1126.7 320.4M1125.9 317.3L1123.6 317.9M1124.9 316.7L1124.3 318.6M1123.6 315.0L1120.6 315.6M1121.9 313.8L1121.7 315.7M1121.3 311.7L1119.3 312.5M1121.3 309.8L1118.2 309.3M1120.7 308.1L1118.1 308.6M1120.7 306.2L1117.9 307.2M1120.5 305.1L1118.6 303.2M1121.3 303.0L1118.5 302.3M1121.7 302.1L1119.4 298.7M1121.8 299.8L1120.0 300.1M1122.8 299.2L1120.2 298.6M1123.8 297.7L1123.3 294.5M1124.7 296.1L1122.4 295.0M1125.9 295.0L1125.7 291.4M1126.7 293.0L1125.7 291.3M1128.2 292.4L1125.5 292.1M1129.6 291.5L1126.6 290.9M1132.1 291.8L1129.7 289.6M1132.8 291.3L1133.4 288.5M1135.3 290.6L1132.9 289.2M1135.8 291.1L1134.7 288.9M1137.6 290.2L1137.7 288.7M1140.1 291.6L1138.4 288.6M1141.6 291.0L1141.2 289.1M1143.1 292.4L1144.8 290.8M1145.0 292.8L1148.2 292.6M1146.3 294.2L1146.6 291.5M1147.0 294.6L1146.2 291.8M1148.0 297.1L1151.1 297.5M1149.2 297.3L1151.2 297.8M1149.9 299.2L1152.5 299.3M1150.6 300.5L1151.6 298.7M1150.6 303.1L1152.7 300.7M1150.9 304.5L1153.4 306.7" fill="none" stroke="#303030" stroke-width="0.58"/>
<path d="M1182.5 300.0L1178.9 299.9M1178.9 299.9L1175.2 300.3M1175.2 300.3L1171.6 300.6M1171.6 300.6L1170.5 302.1M1170.5 302.1L1169.1 303.3M1169.1 303.3L1167.3 303.7M1167.3 303.7L1166.4 304.4M1166.4 304.4L1165.9 305.4M1165.9 305.4L1165.3 306.3M1165.3 306.3L1164.2 309.6M1165.3 306.3L1162.8 307.4M1167.3 303.7L1166.1 303.5M1166.1 303.5L1164.9 303.7M1164.9 303.7L1163.7 304.0M1163.7 304.0L1161.7 305.3M1163.7 304.0L1161.5 303.4M1171.6 300.6L1169.9 300.0M1169.9 300.0L1168.7 298.6M1168.7 298.6L1167.4 297.3M1167.4 297.3L1166.4 297.0M1166.4 297.0L1165.3 296.7M1165.3 296.7L1164.3 297.2M1164.3 297.2L1161.7 299.5M1164.3 297.2L1161.9 295.8M1167.4 297.3L1167.0 296.4M1167.0 296.4L1166.6 295.6M1166.6 295.6L1166.1 294.8M1166.1 294.8L1163.9 292.5M1166.1 294.8L1166.0 292.6M1182.5 300.0L1180.7 296.8M1180.7 296.8L1178.1 294.3M1178.1 294.3L1177.1 290.8M1177.1 290.8L1175.4 289.9M1175.4 289.9L1173.4 289.7M1173.4 289.7L1171.6 289.0M1171.6 289.0L1170.5 289.4M1170.5 289.4L1169.3 289.9M1169.3 289.9L1168.1 289.5M1168.1 289.5L1165.6 291.5M1168.1 289.5L1165.8 288.3M1171.6 289.0L1170.8 288.1M1170.8 288.1L1170.4 286.9M1170.4 286.9L1170.0 285.7M1170.0 285.7L1167.8 283.0M1170.0 285.7L1170.5 282.5M1177.1 290.8L1176.1 288.9M1176.1 288.9L1176.5 286.8M1176.5 286.8L1176.9 284.6M1176.9 284.6L1176.2 283.3M1176.2 283.3L1175.5 282.1M1175.5 282.1L1174.2 281.4M1174.2 281.4L1172.1 280.5M1174.2 281.4L1173.2 278.1M1176.9 284.6L1177.6 283.5M1177.6 283.5L1178.2 282.3M1178.2 282.3L1178.4 281.0M1178.4 281.0L1177.4 277.5M1178.4 281.0L1180.3 278.9M1182.5 300.0L1182.3 296.4M1182.3 296.4L1180.9 293.0M1180.9 293.0L1180.1 289.4M1180.1 289.4L1179.3 287.7M1179.3 287.7L1178.0 286.5M1178.0 286.5L1177.4 284.7M1177.4 284.7L1176.7 283.7M1176.7 283.7L1176.1 282.7M1176.1 282.7L1175.4 281.6M1175.4 281.6L1172.1 280.4M1175.4 281.6L1174.2 279.6M1177.4 284.7L1177.9 283.8M1177.9 283.8L1178.1 282.9M1178.1 282.9L1178.6 282.1M1178.6 282.1L1177.6 279.8M1178.6 282.1L1179.5 280.0M1180.1 289.4L1181.2 287.6M1181.2 287.6L1182.7 286.2M1182.7 286.2L1183.1 284.1M1183.1 284.1L1183.4 283.1M1183.4 283.1L1183.2 282.0M1183.2 282.0L1183.5 280.9M1183.5 280.9L1181.2 278.3M1183.5 280.9L1184.5 277.5M1183.1 284.1L1184.2 283.6M1184.2 283.6L1184.8 282.7M1184.8 282.7L1185.9 282.4M1185.9 282.4L1186.8 280.3M1185.9 282.4L1188.6 281.8M1182.5 300.0L1185.5 298.0M1185.5 298.0L1188.5 295.9M1188.5 295.9L1191.9 294.6M1191.9 294.6L1192.7 292.6M1192.7 292.6L1193.1 290.5M1193.1 290.5L1193.2 288.3M1193.2 288.3L1193.2 287.1M1193.2 287.1L1193.2 285.9M1193.2 285.9L1192.6 284.9M1192.6 284.9L1190.8 282.6M1192.6 284.9L1193.6 281.5M1193.2 288.3L1194.3 287.5M1194.3 287.5L1195.1 286.5M1195.1 286.5L1195.9 285.4M1195.9 285.4L1196.9 282.4M1195.9 285.4L1198.4 284.3M1191.9 294.6L1193.7 295.1M1193.7 295.1L1195.4 295.6M1195.4 295.6L1197.3 295.8M1197.3 295.8L1198.3 295.2M1198.3 295.2L1199.3 294.6M1199.3 294.6L1200.3 293.9M1200.3 293.9L1201.9 291.2M1200.3 293.9L1203.9 293.4M1197.3 295.8L1197.9 296.6M1197.9 296.6L1198.8 297.1M1198.8 297.1L1199.8 297.3M1199.8 297.3L1201.8 297.7M1199.8 297.3L1201.9 299.8M1182.5 300.0L1185.9 301.4M1185.9 301.4L1189.5 301.8M1189.5 301.8L1192.5 303.9M1192.5 303.9L1194.4 303.4M1194.4 303.4L1196.4 303.0M1196.4 303.0L1198.3 303.7M1198.3 303.7L1199.2 303.1M1199.2 303.1L1199.9 302.4M1199.9 302.4L1201.0 302.2M1201.0 302.2L1203.8 300.0M1201.0 302.2L1204.1 302.9M1198.3 303.7L1199.4 303.7M1199.4 303.7L1200.4 303.7M1200.4 303.7L1201.5 303.8M1201.5 303.8L1204.3 303.4M1201.5 303.8L1203.6 306.4M1192.5 303.9L1194.5 305.1M1194.5 305.1L1196.0 307.0M1196.0 307.0L1197.0 309.2M1197.0 309.2L1198.2 309.5M1198.2 309.5L1199.5 309.7M1199.5 309.7L1200.7 310.1M1200.7 310.1L1204.1 309.6M1200.7 310.1L1202.3 312.2M1197.0 309.2L1197.4 310.6M1197.4 310.6L1197.3 312.0M1197.3 312.0L1197.4 313.4M1197.4 313.4L1198.7 315.4M1197.4 313.4L1196.8 316.7M1182.5 300.0L1183.1 303.6M1183.1 303.6L1184.8 306.8M1184.8 306.8L1184.7 310.5M1184.7 310.5L1186.1 311.9M1186.1 311.9L1187.5 313.3M1187.5 313.3L1188.9 314.7M1188.9 314.7L1190.2 314.8M1190.2 314.8L1191.4 315.3M1191.4 315.3L1192.8 315.2M1192.8 315.2L1195.2 314.4M1192.8 315.2L1195.2 317.8M1188.9 314.7L1189.5 315.8M1189.5 315.8L1190.4 316.7M1190.4 316.7L1191.2 317.8M1191.2 317.8L1193.4 319.5M1191.2 317.8L1190.6 320.7M1184.7 310.5L1184.6 312.3M1184.6 312.3L1184.1 314.1M1184.1 314.1L1184.0 316.0M1184.0 316.0L1184.6 317.1M1184.6 317.1L1184.8 318.3M1184.8 318.3L1185.0 319.5M1185.0 319.5L1186.8 320.9M1185.0 319.5L1184.4 322.1M1184.0 316.0L1183.1 316.7M1183.1 316.7L1182.2 317.3M1182.2 317.3L1181.5 318.1M1181.5 318.1L1180.8 321.6M1181.5 318.1L1179.3 318.9M1182.5 300.0L1181.8 303.6M1181.8 303.6L1179.3 306.3M1179.3 306.3L1176.7 308.8M1176.7 308.8L1176.7 310.9M1176.7 310.9L1177.5 313.0M1177.5 313.0L1177.1 315.1M1177.1 315.1L1177.9 316.1M1177.9 316.1L1178.2 317.4M1178.2 317.4L1179.1 318.3M1179.1 318.3L1181.0 319.5M1179.1 318.3L1179.2 321.5M1177.1 315.1L1176.7 316.3M1176.7 316.3L1176.2 317.4M1176.2 317.4L1175.8 318.5M1175.8 318.5L1176.2 321.4M1175.8 318.5L1173.2 320.8M1176.7 308.8L1174.8 309.1M1174.8 309.1L1173.3 310.3M1173.3 310.3L1171.4 310.5M1171.4 310.5L1170.6 311.6M1170.6 311.6L1169.8 312.6M1169.8 312.6L1169.1 313.7M1169.1 313.7L1168.6 316.2M1169.1 313.7L1166.6 314.9M1171.4 310.5L1170.2 310.6M1170.2 310.6L1169.1 310.3M1169.1 310.3L1168.0 310.4M1168.0 310.4L1165.1 311.5M1168.0 310.4L1165.9 309.3M1204.8 299.0L1207.5 295.2M1205.3 302.6L1208.8 305.0M1204.4 302.3L1208.4 299.7M1205.6 305.5L1208.8 304.6M1204.2 307.4L1207.3 305.9M1204.3 309.2L1206.9 307.0M1202.7 309.2L1207.9 307.9M1203.6 310.9L1204.1 313.5M1200.8 312.5L1206.0 312.9M1200.5 314.7L1202.3 315.9M1199.2 314.4L1201.9 318.3M1198.8 317.2L1198.7 320.2M1196.9 317.3L1199.6 320.5M1194.9 319.2L1193.1 323.0M1194.5 319.0L1197.7 320.8M1191.7 320.5L1192.6 323.7M1191.3 320.7L1190.9 325.1M1190.0 321.4L1188.2 325.6M1187.3 323.2L1190.8 323.9M1186.3 322.8L1189.8 324.3M1183.7 322.0L1185.4 325.8M1182.7 322.1L1182.6 326.0M1181.6 322.6L1180.8 326.3M1179.7 323.0L1181.0 325.4M1177.8 322.0L1174.7 324.4M1175.6 321.0L1178.3 324.9M1174.8 320.9L1176.4 324.5M1172.2 321.1L1169.8 322.4M1171.9 321.2L1168.7 322.6M1170.2 318.9L1169.7 321.7M1169.5 317.8L1168.0 321.0M1168.0 317.9L1166.8 321.6M1166.5 316.1L1165.2 320.0M1164.1 314.9L1162.9 317.2M1163.7 312.9L1159.6 312.8M1163.4 311.4L1160.7 314.8M1162.8 311.5L1161.0 313.9M1162.0 309.7L1160.7 314.1M1160.1 308.2L1158.0 311.4M1160.7 306.0L1156.9 308.7M1160.0 303.1L1157.4 303.6M1159.5 301.5L1157.3 298.3M1158.6 301.1L1156.2 305.0M1159.4 299.3L1156.1 296.7M1159.2 296.3L1156.8 298.3M1160.3 295.4L1157.9 292.1M1159.6 294.2L1158.4 291.3M1162.1 291.9L1157.3 292.0M1161.4 291.0L1159.3 287.0M1161.8 288.4L1159.1 287.5M1163.9 287.3L1159.1 287.4M1163.9 287.8L1159.5 287.7M1165.0 285.8L1159.8 286.5M1166.0 283.7L1161.3 284.1M1168.5 282.8L1168.8 278.3M1168.9 282.3L1166.4 280.3M1170.7 280.4L1169.3 277.6M1171.6 278.9L1173.9 275.7M1172.5 279.9L1170.9 277.1M1175.2 277.5L1173.9 276.2M1175.8 277.6L1178.9 274.7M1176.8 277.1L1173.0 275.9M1179.2 277.0L1177.5 273.7M1181.0 276.9L1177.8 274.3M1183.3 276.8L1179.9 273.8M1184.6 277.9L1182.9 273.8M1186.5 277.1L1189.0 275.2M1187.4 278.6L1191.0 275.3M1189.2 278.7L1190.3 275.0M1190.4 279.1L1194.5 276.7M1191.8 279.4L1190.1 274.2M1194.6 280.3L1198.6 278.4M1195.4 281.7L1195.5 277.8M1196.8 283.5L1202.3 282.8M1197.7 283.1L1198.0 279.5M1199.0 285.5L1199.5 280.7M1200.4 285.3L1200.8 282.2M1201.8 286.1L1203.5 285.7M1202.9 288.8L1205.7 287.7M1203.0 290.9L1207.8 291.9M1203.0 291.4L1207.5 289.9M1205.2 293.8L1205.8 290.0M1204.8 295.0L1208.4 295.0M1205.9 297.3L1209.1 300.7M1206.0 297.4L1209.0 294.9" fill="none" stroke="#303030" stroke-width="0.58"/>
<path d="M1193.8 341.0L1191.3 340.6M1191.3 340.6L1189.0 340.0M1189.0 340.0L1186.6 339.5M1186.6 339.5L1185.3 339.8M1185.3 339.8L1184.1 340.1M1184.1 340.1L1183.0 339.8M1183.0 339.8L1182.5 340.3M1182.5 340.3L1181.8 340.5M1181.8 340.5L1181.2 340.7M1181.2 340.7L1179.8 342.4M1181.2 340.7L1179.7 340.7M1183.0 339.8L1182.2 339.5M1182.2 339.5L1181.5 339.1M1181.5 339.1L1181.0 338.5M1181.0 338.5L1178.9 337.7M1181.0 338.5L1180.4 337.0M1186.6 339.5L1185.4 338.4M1185.4 338.4L1185.1 336.8M1185.1 336.8L1184.6 335.3M1184.6 335.3L1183.6 335.1M1183.6 335.1L1182.6 334.7M1182.6 334.7L1181.9 333.9M1181.9 333.9L1180.1 333.9M1181.9 333.9L1181.0 331.9M1184.6 335.3L1184.7 334.4M1184.7 334.4L1184.9 333.6M1184.9 333.6L1185.0 332.6M1185.0 332.6L1184.0 331.3M1185.0 332.6L1185.4 330.7M1193.8 341.0L1193.1 338.6M1193.1 338.6L1193.4 336.2M1193.4 336.2L1193.5 333.8M1193.5 333.8L1192.6 332.6M1192.6 332.6L1191.4 331.8M1191.4 331.8L1190.6 330.6M1190.6 330.6L1190.0 329.8M1190.0 329.8L1189.2 329.3M1189.2 329.3L1188.2 329.1M1188.2 329.1L1186.4 328.8M1188.2 329.1L1187.2 326.9M1190.6 330.6L1190.2 329.9M1190.2 329.9L1190.1 329.2M1190.1 329.2L1190.0 328.5M1190.0 328.5L1189.0 327.0M1190.0 328.5L1190.4 327.0M1193.5 333.8L1193.7 332.2M1193.7 332.2L1193.7 330.7M1193.7 330.7L1194.4 329.3M1194.4 329.3L1194.7 328.3M1194.7 328.3L1194.8 327.3M1194.8 327.3L1194.4 326.3M1194.4 326.3L1193.2 324.7M1194.4 326.3L1195.3 324.3M1194.4 329.3L1194.8 328.4M1194.8 328.4L1195.5 327.8M1195.5 327.8L1195.9 327.0M1195.9 327.0L1196.5 324.8M1195.9 327.0L1198.1 326.5M1193.8 341.0L1195.6 339.4M1195.6 339.4L1197.8 338.3M1197.8 338.3L1199.9 337.1M1199.9 337.1L1200.5 335.7M1200.5 335.7L1201.0 334.3M1201.0 334.3L1202.0 333.2M1202.0 333.2L1202.3 332.2M1202.3 332.2L1202.5 331.2M1202.5 331.2L1202.1 330.3M1202.1 330.3L1201.2 328.6M1202.1 330.3L1203.3 328.2M1202.0 333.2L1202.7 332.9M1202.7 332.9L1203.4 332.6M1203.4 332.6L1203.9 332.1M1203.9 332.1L1204.7 330.5M1203.9 332.1L1205.8 331.5M1199.9 337.1L1201.5 336.9M1201.5 336.9L1203.1 336.9M1203.1 336.9L1204.8 336.8M1204.8 336.8L1205.7 336.8M1205.7 336.8L1206.7 336.7M1206.7 336.7L1207.4 336.1M1207.4 336.1L1208.5 335.0M1207.4 336.1L1209.4 336.1M1204.8 336.8L1205.6 337.3M1205.6 337.3L1206.6 337.6M1206.6 337.6L1207.5 337.9M1207.5 337.9L1209.0 337.8M1207.5 337.9L1209.3 339.5M1193.8 341.0L1195.9 342.1M1195.9 342.1L1197.8 343.6M1197.8 343.6L1199.7 345.2M1199.7 345.2L1201.1 345.2M1201.1 345.2L1202.5 345.0M1202.5 345.0L1203.8 344.4M1203.8 344.4L1204.4 344.1M1204.4 344.1L1205.1 343.9M1205.1 343.9L1205.7 343.5M1205.7 343.5L1206.7 342.5M1205.7 343.5L1207.5 343.2M1203.8 344.4L1204.4 345.1M1204.4 345.1L1205.1 345.7M1205.1 345.7L1205.9 345.9M1205.9 345.9L1207.3 346.3M1205.9 345.9L1207.0 347.4M1199.7 345.2L1200.2 346.4M1200.2 346.4L1200.7 347.7M1200.7 347.7L1201.7 348.5M1201.7 348.5L1202.6 348.5M1202.6 348.5L1203.3 348.9M1203.3 348.9L1204.1 349.0M1204.1 349.0L1206.3 348.7M1204.1 349.0L1205.5 350.2M1201.7 348.5L1202.2 349.1M1202.2 349.1L1202.6 349.6M1202.6 349.6L1203.1 350.2M1203.1 350.2L1204.3 351.1M1203.1 350.2L1202.8 351.8M1193.8 341.0L1195.0 343.1M1195.0 343.1L1194.8 345.6M1194.8 345.6L1195.9 347.8M1195.9 347.8L1196.6 349.0M1196.6 349.0L1197.3 350.2M1197.3 350.2L1198.4 351.0M1198.4 351.0L1199.0 351.4M1199.0 351.4L1199.6 351.7M1199.6 351.7L1200.4 351.6M1200.4 351.6L1201.9 351.4M1200.4 351.6L1201.7 352.6M1198.4 351.0L1198.6 351.8M1198.6 351.8L1199.0 352.4M1199.0 352.4L1199.5 353.0M1199.5 353.0L1201.3 354.3M1199.5 353.0L1199.3 354.9M1195.9 347.8L1195.7 349.1M1195.7 349.1L1195.3 350.4M1195.3 350.4L1194.6 351.5M1194.6 351.5L1194.7 352.3M1194.7 352.3L1194.9 353.0M1194.9 353.0L1194.7 353.8M1194.7 353.8L1195.8 355.8M1194.7 353.8L1194.2 355.7M1194.6 351.5L1193.9 351.9M1193.9 351.9L1193.4 352.4M1193.4 352.4L1192.6 352.8M1192.6 352.8L1191.9 354.6M1192.6 352.8L1190.9 353.4M1193.8 341.0L1192.2 342.9M1192.2 342.9L1190.5 344.6M1190.5 344.6L1188.3 345.8M1188.3 345.8L1187.3 346.9M1187.3 346.9L1186.3 348.1M1186.3 348.1L1185.4 349.3M1185.4 349.3L1185.7 350.2M1185.7 350.2L1186.1 351.0M1186.1 351.0L1186.2 351.9M1186.2 351.9L1186.9 353.7M1186.2 351.9L1185.3 353.8M1185.4 349.3L1184.5 349.6M1184.5 349.6L1183.8 350.0M1183.8 350.0L1183.1 350.7M1183.1 350.7L1181.9 352.4M1183.1 350.7L1180.8 350.8M1188.3 345.8L1186.9 345.7M1186.9 345.7L1185.5 345.9M1185.5 345.9L1184.1 345.5M1184.1 345.5L1183.4 346.2M1183.4 346.2L1182.7 346.9M1182.7 346.9L1181.8 347.4M1181.8 347.4L1181.1 349.3M1181.8 347.4L1179.7 348.3M1184.1 345.5L1183.3 345.0M1183.3 345.0L1182.6 344.4M1182.6 344.4L1181.8 343.9M1181.8 343.9L1179.8 344.3M1181.8 343.9L1180.1 342.6M1208.7 341.4L1211.2 339.4M1209.3 343.0L1210.6 343.7M1208.2 344.8L1211.5 344.4M1208.0 345.1L1211.3 344.4M1207.4 348.0L1208.1 350.2M1206.6 348.6L1208.9 348.8M1205.9 350.4L1209.0 350.0M1205.7 351.5L1206.1 353.4M1203.1 353.4L1205.7 354.3M1202.6 353.7L1201.9 357.2M1201.2 354.7L1202.6 355.9M1199.7 355.9L1200.4 357.1M1198.3 356.2L1197.0 357.8M1196.2 355.8L1197.3 357.7M1193.5 356.2L1192.2 358.3M1192.9 356.7L1190.8 358.9M1191.4 356.6L1189.6 358.4M1189.2 355.1L1187.9 357.8M1187.4 355.5L1187.5 357.0M1185.6 354.7L1182.7 355.4M1185.0 353.5L1183.8 355.6M1183.9 352.6L1182.6 355.3M1181.3 351.0L1178.8 350.3M1181.3 348.8L1177.6 348.3M1180.5 348.5L1177.9 347.7M1179.3 346.8L1176.6 345.6M1178.9 345.2L1177.1 346.6M1178.3 342.8L1176.7 345.2M1179.0 341.6L1176.3 343.2M1178.8 340.3L1176.5 340.6M1178.8 339.1L1175.9 340.9M1179.2 336.3L1177.8 334.4M1179.6 335.4L1177.4 336.4M1180.5 333.1L1179.0 331.6M1181.2 333.0L1178.9 330.8M1181.6 330.8L1180.3 330.1M1183.3 329.0L1184.4 326.4M1184.5 329.1L1183.2 326.9M1186.1 327.7L1183.7 326.1M1187.4 326.7L1185.2 325.1M1189.0 326.4L1188.4 324.5M1191.5 326.1L1193.2 323.0M1192.5 325.9L1192.6 323.9M1194.7 325.8L1196.5 323.9M1195.4 325.6L1195.7 323.2M1197.3 325.9L1198.5 324.3M1199.7 326.4L1198.6 323.8M1200.5 326.9L1203.2 326.0M1201.8 328.6L1201.0 325.5M1203.4 329.3L1206.1 329.3M1204.2 329.9L1206.7 328.7M1206.1 330.8L1208.3 331.2M1207.0 332.7L1207.7 329.4M1207.8 334.5L1210.4 333.9M1207.7 335.8L1209.6 333.2M1209.3 337.3L1210.1 335.5M1209.1 339.6L1211.6 338.4" fill="none" stroke="#303030" stroke-width="0.58"/>
<path d="M1198.8 376.0L1196.7 377.4M1196.7 377.4L1194.9 379.0M1194.9 379.0L1193.1 380.7M1193.1 380.7L1193.5 382.0M1193.5 382.0L1192.9 383.2M1192.9 383.2L1193.0 384.6M1193.0 384.6L1193.2 385.3M1193.2 385.3L1193.7 385.9M1193.7 385.9L1194.1 386.6M1194.1 386.6L1195.6 388.5M1194.1 386.6L1193.8 388.3M1193.0 384.6L1192.4 385.1M1192.4 385.1L1191.9 385.6M1191.9 385.6L1191.7 386.4M1191.7 386.4L1191.5 388.6M1191.7 386.4L1190.1 387.6M1193.1 380.7L1191.9 381.0M1191.9 381.0L1190.7 381.4M1190.7 381.4L1190.0 382.5M1190.0 382.5L1189.8 383.3M1189.8 383.3L1189.3 384.0M1189.3 384.0L1188.7 384.6M1188.7 384.6L1188.6 386.6M1188.7 384.6L1187.1 386.4M1190.0 382.5L1189.4 382.4M1189.4 382.4L1188.8 382.6M1188.8 382.6L1188.1 382.7M1188.1 382.7L1185.8 383.4M1188.1 382.7L1186.5 382.3M1198.8 376.0L1196.3 375.6M1196.3 375.6L1193.9 375.0M1193.9 375.0L1191.5 375.0M1191.5 375.0L1190.8 376.0M1190.8 376.0L1189.7 376.6M1189.7 376.6L1188.9 377.6M1188.9 377.6L1188.4 378.2M1188.4 378.2L1188.1 379.0M1188.1 379.0L1187.8 379.8M1187.8 379.8L1188.0 381.5M1187.8 379.8L1186.6 380.8M1188.9 377.6L1188.2 377.9M1188.2 377.9L1187.5 378.1M1187.5 378.1L1186.7 378.4M1186.7 378.4L1185.1 379.7M1186.7 378.4L1184.5 377.8M1191.5 375.0L1190.1 374.2M1190.1 374.2L1188.6 373.8M1188.6 373.8L1187.5 372.7M1187.5 372.7L1186.5 372.6M1186.5 372.6L1185.6 372.2M1185.6 372.2L1184.7 371.9M1184.7 371.9L1182.6 372.4M1184.7 371.9L1182.7 370.9M1187.5 372.7L1186.7 372.0M1186.7 372.0L1186.6 371.0M1186.6 371.0L1186.1 370.1M1186.1 370.1L1184.8 369.3M1186.1 370.1L1185.6 367.9M1198.8 376.0L1196.7 374.6M1196.7 374.6L1194.8 373.1M1194.8 373.1L1193.3 371.1M1193.3 371.1L1191.8 370.6M1191.8 370.6L1190.1 370.4M1190.1 370.4L1188.5 370.2M1188.5 370.2L1187.6 370.7M1187.6 370.7L1186.6 371.2M1186.6 371.2L1185.7 371.8M1185.7 371.8L1183.9 373.2M1185.7 371.8L1183.8 371.8M1188.5 370.2L1188.1 369.2M1188.1 369.2L1187.1 368.8M1187.1 368.8L1186.3 368.2M1186.3 368.2L1184.7 367.5M1186.3 368.2L1185.2 366.2M1193.3 371.1L1192.9 369.9M1192.9 369.9L1192.5 368.7M1192.5 368.7L1191.9 367.5M1191.9 367.5L1191.4 367.2M1191.4 367.2L1191.1 366.6M1191.1 366.6L1190.7 366.1M1190.7 366.1L1188.6 365.3M1190.7 366.1L1190.0 364.0M1191.9 367.5L1192.2 366.7M1192.2 366.7L1192.3 365.8M1192.3 365.8L1192.6 365.0M1192.6 365.0L1192.4 363.1M1192.6 365.0L1194.5 363.4M1198.8 376.0L1200.6 374.4M1200.6 374.4L1202.1 372.5M1202.1 372.5L1202.4 370.0M1202.4 370.0L1201.7 368.8M1201.7 368.8L1201.3 367.4M1201.3 367.4L1201.5 366.0M1201.5 366.0L1200.7 365.5M1200.7 365.5L1200.0 365.0M1200.0 365.0L1199.2 364.6M1199.2 364.6L1198.1 363.7M1199.2 364.6L1198.6 362.5M1201.5 366.0L1201.9 365.2M1201.9 365.2L1202.4 364.3M1202.4 364.3L1202.7 363.4M1202.7 363.4L1202.6 361.5M1202.7 363.4L1203.9 361.5M1202.4 370.0L1203.3 369.1M1203.3 369.1L1204.1 368.1M1204.1 368.1L1205.3 367.5M1205.3 367.5L1205.4 366.7M1205.4 366.7L1205.3 365.9M1205.3 365.9L1205.4 365.1M1205.4 365.1L1205.3 363.0M1205.4 365.1L1206.7 363.6M1205.3 367.5L1206.0 367.3M1206.0 367.3L1206.7 367.2M1206.7 367.2L1207.2 366.7M1207.2 366.7L1208.5 365.8M1207.2 366.7L1209.2 366.7M1198.8 376.0L1201.2 375.7M1201.2 375.7L1203.2 374.2M1203.2 374.2L1205.1 372.7M1205.1 372.7L1205.9 371.3M1205.9 371.3L1206.8 370.0M1206.8 370.0L1207.6 368.6M1207.6 368.6L1207.5 367.8M1207.5 367.8L1207.3 367.0M1207.3 367.0L1207.3 366.2M1207.3 366.2L1206.1 364.7M1207.3 366.2L1208.1 363.9M1207.6 368.6L1208.6 368.4M1208.6 368.4L1209.5 368.0M1209.5 368.0L1210.4 367.6M1210.4 367.6L1211.2 366.4M1210.4 367.6L1212.7 367.6M1205.1 372.7L1206.4 373.0M1206.4 373.0L1207.7 373.2M1207.7 373.2L1209.1 373.0M1209.1 373.0L1209.9 372.8M1209.9 372.8L1210.7 372.4M1210.7 372.4L1211.4 371.7M1211.4 371.7L1212.4 369.7M1211.4 371.7L1212.9 371.8M1209.1 373.0L1209.9 373.0M1209.9 373.0L1210.6 373.2M1210.6 373.2L1211.3 373.6M1211.3 373.6L1213.1 373.7M1211.3 373.6L1212.4 375.2M1198.8 376.0L1200.7 377.4M1200.7 377.4L1203.1 378.2M1203.1 378.2L1205.3 379.1M1205.3 379.1L1206.9 379.3M1206.9 379.3L1208.2 378.5M1208.2 378.5L1209.8 378.4M1209.8 378.4L1210.7 378.0M1210.7 378.0L1211.2 377.2M1211.2 377.2L1212.1 376.8M1212.1 376.8L1213.1 374.8M1212.1 376.8L1214.3 376.5M1209.8 378.4L1210.7 378.9M1210.7 378.9L1211.4 379.7M1211.4 379.7L1212.3 380.3M1212.3 380.3L1214.2 380.4M1212.3 380.3L1213.5 381.6M1205.3 379.1L1205.7 380.5M1205.7 380.5L1206.9 381.4M1206.9 381.4L1207.4 382.8M1207.4 382.8L1208.1 383.4M1208.1 383.4L1209.0 383.6M1209.0 383.6L1209.7 384.2M1209.7 384.2L1211.8 384.6M1209.7 384.2L1210.5 385.8M1207.4 382.8L1207.5 383.6M1207.5 383.6L1207.7 384.4M1207.7 384.4L1207.9 385.1M1207.9 385.1L1208.7 386.5M1207.9 385.1L1207.2 386.4M1198.8 376.0L1199.5 378.3M1199.5 378.3L1199.1 380.7M1199.1 380.7L1198.6 383.1M1198.6 383.1L1199.5 384.3M1199.5 384.3L1200.3 385.5M1200.3 385.5L1200.5 387.0M1200.5 387.0L1201.3 387.0M1201.3 387.0L1202.0 387.5M1202.0 387.5L1202.7 387.8M1202.7 387.8L1204.4 388.1M1202.7 387.8L1203.6 389.2M1200.5 387.0L1200.1 387.7M1200.1 387.7L1199.8 388.5M1199.8 388.5L1199.6 389.4M1199.6 389.4L1200.5 391.3M1199.6 389.4L1198.7 391.1M1198.6 383.1L1197.7 383.9M1197.7 383.9L1197.0 385.0M1197.0 385.0L1196.6 386.2M1196.6 386.2L1196.8 386.9M1196.8 386.9L1196.7 387.6M1196.7 387.6L1196.4 388.2M1196.4 388.2L1196.9 390.1M1196.4 388.2L1195.8 390.2M1196.6 386.2L1196.0 386.5M1196.0 386.5L1195.4 386.7M1195.4 386.7L1195.0 387.2M1195.0 387.2L1193.9 389.3M1195.0 387.2L1193.5 387.4M1214.5 376.0L1215.9 375.5M1214.2 376.9L1216.5 375.9M1214.2 379.1L1215.2 381.9M1212.5 381.1L1215.8 382.0M1213.1 382.6L1214.1 384.9M1212.3 384.4L1214.6 384.9M1210.5 385.1L1213.5 384.5M1210.0 386.9L1210.3 388.7M1209.2 387.9L1212.3 387.4M1206.6 389.4L1209.4 389.5M1205.8 389.9L1208.8 391.0M1203.4 390.4L1204.6 392.6M1202.1 391.2L1200.0 393.8M1200.6 391.1L1202.1 393.3M1199.0 391.0L1197.7 393.8M1197.3 392.0L1195.3 393.1M1196.3 391.2L1197.9 393.3M1194.3 390.3L1195.6 393.5M1193.1 390.2L1191.9 392.3M1191.2 390.2L1190.0 391.1M1189.4 388.1L1189.0 391.0M1188.2 387.9L1185.4 387.3M1187.1 386.1L1184.5 386.5M1186.5 384.2L1183.3 384.5M1185.6 382.7L1182.9 382.3M1184.3 382.1L1183.0 384.7M1184.4 380.7L1181.5 381.9M1184.1 378.7L1180.9 377.0M1183.2 377.6L1181.7 376.0M1183.2 375.7L1181.5 375.7M1184.0 373.2L1181.2 372.3M1183.6 372.3L1182.0 369.5M1183.9 370.7L1183.1 367.8M1185.0 368.3L1182.8 368.0M1185.8 367.3L1184.3 367.0M1186.6 366.3L1185.9 364.6M1187.9 364.8L1188.1 362.3M1190.1 363.6L1186.9 363.4M1191.3 362.8L1190.8 360.6M1192.4 361.8L1193.8 358.7M1194.8 360.7L1192.5 359.5M1195.7 360.5L1196.6 358.6M1198.1 360.0L1197.9 358.9M1199.7 361.3L1200.5 359.1M1200.9 361.1L1200.4 358.5M1202.9 361.4L1202.3 358.4M1203.6 361.4L1206.2 360.4M1205.6 361.8L1205.1 359.6M1207.5 362.9L1209.3 362.0M1208.7 364.4L1210.7 362.9M1209.7 364.4L1208.8 361.7M1210.8 366.4L1211.4 363.5M1211.3 367.8L1213.9 366.1M1212.5 369.9L1214.1 367.8M1213.6 371.2L1214.6 368.6M1213.6 372.8L1215.7 372.1M1213.4 374.5L1215.8 373.7" fill="none" stroke="#303030" stroke-width="0.58"/>
<path d="M1203.8 412.5L1201.4 411.7M1201.4 411.7L1199.0 411.5M1199.0 411.5L1196.8 410.4M1196.8 410.4L1195.4 410.6M1195.4 410.6L1194.0 410.7M1194.0 410.7L1192.6 410.4M1192.6 410.4L1192.0 410.8M1192.0 410.8L1191.4 411.3M1191.4 411.3L1190.7 411.6M1190.7 411.6L1190.2 413.0M1190.7 411.6L1188.5 411.6M1192.6 410.4L1191.8 410.1M1191.8 410.1L1191.0 409.8M1191.0 409.8L1190.3 409.3M1190.3 409.3L1188.5 408.9M1190.3 409.3L1189.6 408.0M1196.8 410.4L1196.1 409.3M1196.1 409.3L1195.8 408.0M1195.8 408.0L1195.7 406.7M1195.7 406.7L1195.2 406.1M1195.2 406.1L1194.5 405.7M1194.5 405.7L1193.8 405.6M1193.8 405.6L1192.0 405.6M1193.8 405.6L1192.7 404.5M1195.7 406.7L1196.1 405.9M1196.1 405.9L1196.1 405.0M1196.1 405.0L1196.1 404.2M1196.1 404.2L1196.0 402.7M1196.1 404.2L1197.1 402.7M1203.8 412.5L1204.4 410.1M1204.4 410.1L1205.6 408.0M1205.6 408.0L1206.7 405.8M1206.7 405.8L1206.2 404.3M1206.2 404.3L1205.2 403.0M1205.2 403.0L1204.5 401.5M1204.5 401.5L1203.8 400.7M1203.8 400.7L1202.7 400.5M1202.7 400.5L1201.9 399.8M1201.9 399.8L1199.7 399.5M1201.9 399.8L1200.5 398.3M1204.5 401.5L1204.4 400.5M1204.4 400.5L1204.3 399.6M1204.3 399.6L1204.2 398.7M1204.2 398.7L1203.5 397.3M1204.2 398.7L1204.8 397.3M1206.7 405.8L1207.4 404.8M1207.4 404.8L1207.8 403.6M1207.8 403.6L1208.7 402.9M1208.7 402.9L1208.9 402.1M1208.9 402.1L1209.1 401.3M1209.1 401.3L1209.4 400.6M1209.4 400.6L1208.8 399.0M1209.4 400.6L1210.4 399.4M1208.7 402.9L1209.3 402.4M1209.3 402.4L1209.9 402.2M1209.9 402.2L1210.6 401.9M1210.6 401.9L1211.6 400.2M1210.6 401.9L1212.5 401.7M1203.8 412.5L1206.0 411.6M1206.0 411.6L1208.2 410.4M1208.2 410.4L1209.6 408.4M1209.6 408.4L1210.0 406.9M1210.0 406.9L1210.9 405.6M1210.9 405.6L1211.9 404.4M1211.9 404.4L1211.8 403.4M1211.8 403.4L1211.8 402.4M1211.8 402.4L1211.4 401.5M1211.4 401.5L1210.6 400.1M1211.4 401.5L1212.6 399.6M1211.9 404.4L1212.7 403.8M1212.7 403.8L1213.5 403.3M1213.5 403.3L1214.3 402.6M1214.3 402.6L1214.8 400.8M1214.3 402.6L1216.2 402.6M1209.6 408.4L1210.9 408.2M1210.9 408.2L1212.3 407.9M1212.3 407.9L1213.7 407.9M1213.7 407.9L1214.3 407.4M1214.3 407.4L1215.0 407.3M1215.0 407.3L1215.7 407.0M1215.7 407.0L1216.5 405.6M1215.7 407.0L1217.4 406.9M1213.7 407.9L1214.3 408.4M1214.3 408.4L1214.8 408.9M1214.8 408.9L1215.5 409.2M1215.5 409.2L1217.5 409.3M1215.5 409.2L1216.7 411.3M1203.8 412.5L1205.7 413.9M1205.7 413.9L1207.7 415.4M1207.7 415.4L1209.2 417.3M1209.2 417.3L1210.5 417.4M1210.5 417.4L1211.8 417.1M1211.8 417.1L1213.0 417.5M1213.0 417.5L1213.6 417.0M1213.6 417.0L1214.3 416.7M1214.3 416.7L1214.9 416.1M1214.9 416.1L1216.6 414.7M1214.9 416.1L1217.1 416.1M1213.0 417.5L1213.5 418.0M1213.5 418.0L1214.1 418.1M1214.1 418.1L1214.7 418.5M1214.7 418.5L1216.8 419.0M1214.7 418.5L1215.8 420.0M1209.2 417.3L1209.5 418.6M1209.5 418.6L1210.0 419.8M1210.0 419.8L1210.3 421.0M1210.3 421.0L1211.0 421.3M1211.0 421.3L1211.7 421.5M1211.7 421.5L1212.2 421.9M1212.2 421.9L1214.0 422.2M1212.2 421.9L1212.8 423.6M1210.3 421.0L1210.5 421.7M1210.5 421.7L1210.6 422.4M1210.6 422.4L1210.6 423.1M1210.6 423.1L1211.4 424.8M1210.6 423.1L1209.6 424.6M1203.8 412.5L1203.6 414.9M1203.6 414.9L1202.6 417.2M1202.6 417.2L1202.3 419.6M1202.3 419.6L1203.1 420.7M1203.1 420.7L1203.8 421.9M1203.8 421.9L1204.0 423.3M1204.0 423.3L1204.5 423.8M1204.5 423.8L1205.2 424.0M1205.2 424.0L1205.8 424.5M1205.8 424.5L1207.5 424.6M1205.8 424.5L1206.7 426.6M1204.0 423.3L1203.9 424.0M1203.9 424.0L1204.1 424.7M1204.1 424.7L1203.8 425.4M1203.8 425.4L1204.6 426.9M1203.8 425.4L1203.2 427.2M1202.3 419.6L1201.4 420.6M1201.4 420.6L1200.7 421.6M1200.7 421.6L1199.7 422.5M1199.7 422.5L1199.7 423.3M1199.7 423.3L1199.6 424.2M1199.6 424.2L1199.4 425.0M1199.4 425.0L1200.0 426.8M1199.4 425.0L1198.7 426.3M1199.7 422.5L1199.0 422.7M1199.0 422.7L1198.2 422.9M1198.2 422.9L1197.7 423.4M1197.7 423.4L1197.1 424.8M1197.7 423.4L1195.5 424.2M1203.8 412.5L1201.8 414.0M1201.8 414.0L1200.1 415.8M1200.1 415.8L1197.9 416.7M1197.9 416.7L1197.9 418.4M1197.9 418.4L1196.8 419.6M1196.8 419.6L1196.3 421.2M1196.3 421.2L1196.7 422.1M1196.7 422.1L1196.6 423.0M1196.6 423.0L1196.8 424.0M1196.8 424.0L1198.1 425.9M1196.8 424.0L1196.0 426.2M1196.3 421.2L1195.9 422.0M1195.9 422.0L1195.2 422.6M1195.2 422.6L1194.7 423.4M1194.7 423.4L1194.0 424.9M1194.7 423.4L1193.1 424.1M1197.9 416.7L1196.3 416.9M1196.3 416.9L1194.8 416.7M1194.8 416.7L1193.3 417.1M1193.3 417.1L1192.5 417.7M1192.5 417.7L1191.5 417.9M1191.5 417.9L1190.6 418.1M1190.6 418.1L1189.7 419.9M1190.6 418.1L1188.9 418.0M1193.3 417.1L1192.7 416.5M1192.7 416.5L1191.9 416.2M1191.9 416.2L1191.3 415.5M1191.3 415.5L1189.6 415.2M1191.3 415.5L1189.8 414.1M1218.9 412.6L1221.8 412.2M1218.7 414.2L1221.5 414.7M1219.5 415.4L1221.0 413.8M1218.1 417.8L1220.7 418.3M1217.9 419.3L1220.7 418.6M1217.1 420.0L1217.9 422.2M1215.9 421.6L1218.1 421.8M1214.7 422.9L1217.0 423.5M1212.9 424.2L1214.0 426.8M1213.0 425.3L1215.3 426.2M1211.0 425.4L1214.7 426.9M1209.0 427.1L1210.1 429.1M1207.6 427.4L1210.3 429.2M1206.2 427.7L1206.0 429.8M1204.4 428.5L1202.2 429.7M1203.2 428.3L1204.2 429.6M1200.8 428.2L1200.5 429.3M1198.7 427.0L1195.5 428.3M1197.3 426.1L1196.1 428.1M1195.4 426.2L1193.1 427.0M1194.3 425.0L1191.7 425.9M1193.9 423.9L1190.6 424.0M1192.0 423.1L1190.2 423.3M1190.2 421.2L1188.6 421.6M1190.0 420.5L1189.9 422.8M1189.3 417.8L1187.9 420.0M1188.5 416.1L1186.4 417.2M1188.5 415.1L1187.5 417.7M1188.6 413.2L1185.8 411.9M1188.3 411.4L1186.6 410.8M1188.9 409.8L1186.2 411.6M1189.1 408.1L1187.6 406.5M1190.0 406.4L1188.4 405.3M1191.0 404.9L1188.7 402.8M1191.8 403.9L1188.3 404.3M1192.1 401.4L1191.2 399.8M1194.0 401.3L1191.3 399.2M1194.9 400.7L1195.4 397.6M1195.6 399.4L1195.4 396.7M1197.4 398.2L1195.0 396.8M1199.0 397.8L1198.6 395.4M1200.2 397.9L1201.5 395.2M1202.7 397.5L1201.4 395.0M1204.9 396.9L1204.5 394.5M1205.3 396.8L1207.3 395.7M1208.1 397.2L1209.3 395.7M1208.4 398.1L1206.8 395.7M1210.5 399.3L1210.1 396.1M1212.0 399.0L1213.8 397.4M1213.4 401.1L1216.5 400.5M1214.2 401.4L1214.5 399.0M1215.8 402.4L1218.6 403.4M1217.0 404.0L1219.1 404.3M1218.0 405.0L1219.6 405.6M1217.6 407.5L1219.5 404.7M1218.5 409.6L1220.5 409.4M1219.3 410.9L1221.1 408.3" fill="none" stroke="#303030" stroke-width="0.58"/>
<path d="M1205.0 450.0L1204.1 447.7M1204.1 447.7L1203.1 445.5M1203.1 445.5L1203.4 443.1M1203.4 443.1L1202.2 442.4M1202.2 442.4L1201.3 441.2M1201.3 441.2L1200.1 440.6M1200.1 440.6L1199.2 440.5M1199.2 440.5L1198.3 440.6M1198.3 440.6L1197.4 440.4M1197.4 440.4L1195.4 441.2M1197.4 440.4L1196.2 439.2M1200.1 440.6L1199.5 440.1M1199.5 440.1L1199.3 439.3M1199.3 439.3L1199.3 438.5M1199.3 438.5L1197.8 437.2M1199.3 438.5L1199.3 436.7M1203.4 443.1L1204.2 441.8M1204.2 441.8L1204.4 440.3M1204.4 440.3L1204.5 438.8M1204.5 438.8L1204.2 438.1M1204.2 438.1L1204.0 437.4M1204.0 437.4L1204.0 436.6M1204.0 436.6L1202.5 434.7M1204.0 436.6L1204.8 434.3M1204.5 438.8L1205.0 438.2M1205.0 438.2L1205.7 437.8M1205.7 437.8L1206.5 437.4M1206.5 437.4L1207.5 435.4M1206.5 437.4L1208.7 437.1M1205.0 450.0L1207.2 448.9M1207.2 448.9L1209.4 447.9M1209.4 447.9L1210.9 446.0M1210.9 446.0L1211.7 444.9M1211.7 444.9L1212.6 443.9M1212.6 443.9L1213.4 442.8M1213.4 442.8L1213.2 442.1M1213.2 442.1L1212.9 441.5M1212.9 441.5L1212.6 440.8M1212.6 440.8L1211.4 438.8M1212.6 440.8L1212.7 439.2M1213.4 442.8L1213.8 442.1M1213.8 442.1L1214.6 442.0M1214.6 442.0L1215.2 441.4M1215.2 441.4L1216.0 439.2M1215.2 441.4L1216.7 441.4M1210.9 446.0L1212.5 446.3M1212.5 446.3L1214.1 446.5M1214.1 446.5L1215.8 446.6M1215.8 446.6L1216.6 446.2M1216.6 446.2L1217.5 445.9M1217.5 445.9L1218.4 445.6M1218.4 445.6L1219.6 443.6M1218.4 445.6L1220.7 445.4M1215.8 446.6L1216.8 446.8M1216.8 446.8L1217.9 447.1M1217.9 447.1L1218.9 447.5M1218.9 447.5L1220.5 447.2M1218.9 447.5L1220.1 449.6M1205.0 450.0L1207.1 451.2M1207.1 451.2L1209.5 451.7M1209.5 451.7L1211.7 452.9M1211.7 452.9L1213.0 453.2M1213.0 453.2L1214.3 453.6M1214.3 453.6L1215.6 453.7M1215.6 453.7L1216.3 453.1M1216.3 453.1L1217.0 452.6M1217.0 452.6L1217.6 452.1M1217.6 452.1L1218.3 450.6M1217.6 452.1L1219.8 452.3M1215.6 453.7L1216.2 454.1M1216.2 454.1L1216.9 454.3M1216.9 454.3L1217.4 454.8M1217.4 454.8L1219.2 455.2M1217.4 454.8L1218.8 456.6M1211.7 452.9L1212.5 454.2M1212.5 454.2L1212.7 455.7M1212.7 455.7L1213.8 456.8M1213.8 456.8L1214.7 457.1M1214.7 457.1L1215.6 457.5M1215.6 457.5L1216.1 458.3M1216.1 458.3L1217.5 458.9M1216.1 458.3L1217.0 460.4M1213.8 456.8L1213.4 457.7M1213.4 457.7L1213.6 458.7M1213.6 458.7L1213.8 459.7M1213.8 459.7L1214.2 461.3M1213.8 459.7L1212.3 461.5M1205.0 450.0L1204.6 452.4M1204.6 452.4L1205.3 454.8M1205.3 454.8L1205.5 457.2M1205.5 457.2L1206.7 458.0M1206.7 458.0L1207.8 459.1M1207.8 459.1L1209.1 459.8M1209.1 459.8L1210.0 460.0M1210.0 460.0L1210.9 460.2M1210.9 460.2L1211.6 460.8M1211.6 460.8L1213.6 460.8M1211.6 460.8L1213.0 462.0M1209.1 459.8L1209.6 460.6M1209.6 460.6L1210.1 461.4M1210.1 461.4L1210.3 462.4M1210.3 462.4L1211.3 463.4M1210.3 462.4L1210.2 464.3M1205.5 457.2L1204.7 458.3M1204.7 458.3L1204.6 459.7M1204.6 459.7L1204.3 461.0M1204.3 461.0L1204.1 461.7M1204.1 461.7L1204.3 462.4M1204.3 462.4L1204.4 463.1M1204.4 463.1L1205.2 464.9M1204.4 463.1L1204.0 465.0M1204.3 461.0L1203.6 461.5M1203.6 461.5L1203.0 462.2M1203.0 462.2L1202.2 462.3M1202.2 462.3L1201.4 463.6M1202.2 462.3L1200.0 462.5M1205.0 450.0L1202.7 450.8M1202.7 450.8L1200.3 451.4M1200.3 451.4L1198.1 452.5M1198.1 452.5L1197.8 453.9M1197.8 453.9L1196.9 455.1M1196.9 455.1L1196.3 456.5M1196.3 456.5L1196.3 457.5M1196.3 457.5L1196.0 458.4M1196.0 458.4L1196.3 459.3M1196.3 459.3L1197.0 461.3M1196.3 459.3L1195.3 460.5M1196.3 456.5L1195.5 456.9M1195.5 456.9L1194.8 457.5M1194.8 457.5L1193.9 457.7M1193.9 457.7L1193.1 459.9M1193.9 457.7L1192.3 458.3M1198.1 452.5L1196.9 452.3M1196.9 452.3L1195.7 452.5M1195.7 452.5L1194.4 452.3M1194.4 452.3L1193.8 452.5M1193.8 452.5L1193.1 452.6M1193.1 452.6L1192.5 452.9M1192.5 452.9L1191.8 454.6M1192.5 452.9L1190.7 453.4M1194.4 452.3L1193.9 451.8M1193.9 451.8L1193.2 451.4M1193.2 451.4L1192.6 450.9M1192.6 450.9L1190.8 451.4M1192.6 450.9L1191.1 449.4M1205.0 450.0L1202.6 449.4M1202.6 449.4L1201.2 447.4M1201.2 447.4L1199.0 446.2M1199.0 446.2L1197.5 446.3M1197.5 446.3L1196.1 445.8M1196.1 445.8L1194.6 445.5M1194.6 445.5L1193.7 445.8M1193.7 445.8L1192.9 446.3M1192.9 446.3L1192.2 447.0M1192.2 447.0L1191.0 448.9M1192.2 447.0L1190.2 447.1M1194.6 445.5L1193.8 445.1M1193.8 445.1L1193.0 444.6M1193.0 444.6L1192.1 444.3M1192.1 444.3L1190.5 444.8M1192.1 444.3L1191.0 443.2M1199.0 446.2L1198.1 445.2M1198.1 445.2L1197.2 444.1M1197.2 444.1L1196.5 442.9M1196.5 442.9L1195.7 442.6M1195.7 442.6L1194.9 442.1M1194.9 442.1L1194.4 441.4M1194.4 441.4L1192.2 441.4M1194.4 441.4L1193.8 439.8M1196.5 442.9L1196.3 442.1M1196.3 442.1L1196.3 441.3M1196.3 441.3L1196.0 440.7M1196.0 440.7L1194.5 439.0M1196.0 440.7L1196.2 438.6M1220.2 449.8L1222.4 448.9M1220.8 452.2L1222.3 453.4M1219.4 453.7L1222.4 452.0M1219.9 455.6L1221.2 455.6M1218.9 456.8L1220.5 457.0M1218.4 457.9L1221.6 457.2M1217.1 459.5L1219.7 459.5M1215.7 460.3L1218.6 461.5M1214.1 462.0L1216.7 462.7M1213.4 463.5L1214.4 465.4M1211.7 463.7L1214.5 464.8M1209.8 464.5L1212.5 465.9M1208.7 464.5L1211.6 466.9M1207.2 464.6L1207.6 467.0M1206.1 465.5L1204.8 467.7M1204.0 465.6L1202.9 467.3M1201.4 464.5L1199.2 466.8M1200.9 464.2L1200.1 466.9M1198.5 464.4L1196.4 465.1M1197.2 462.9L1196.3 464.9M1195.1 462.5L1193.9 463.7M1194.3 461.6L1192.7 461.8M1193.3 460.2L1192.9 463.3M1191.8 459.1L1190.5 459.3M1191.3 457.8L1190.6 460.4M1191.1 456.2L1188.4 455.7M1189.9 453.5L1188.4 454.1M1190.3 451.8L1187.8 453.3M1190.0 450.6L1188.1 452.3M1189.7 449.1L1187.0 450.5M1189.3 447.1L1188.3 447.0M1190.2 446.3L1188.6 444.5M1190.0 444.3L1188.5 444.9M1192.0 442.7L1189.6 442.4M1192.1 440.8L1190.0 440.6M1192.9 439.4L1190.7 440.1M1194.1 439.2L1193.9 435.6M1196.3 437.7L1193.8 436.7M1197.0 436.4L1196.5 435.3M1198.3 435.9L1198.6 433.2M1200.0 434.8L1198.7 434.2M1201.5 434.7L1201.6 432.8M1203.1 435.3L1203.5 432.2M1206.1 434.7L1205.9 432.3M1207.6 435.1L1209.5 433.0M1208.6 435.1L1211.2 434.1M1210.4 435.6L1210.6 433.8M1211.6 436.6L1211.9 434.0M1213.3 437.7L1216.7 436.0M1214.2 437.7L1213.6 434.3M1216.9 439.3L1217.1 437.9M1217.3 441.3L1220.5 441.1M1217.7 441.3L1220.2 441.6M1218.8 442.7L1220.3 442.6M1220.1 444.8L1222.7 445.7M1219.9 447.0L1222.3 446.1M1221.0 448.6L1222.5 446.6" fill="none" stroke="#303030" stroke-width="0.58"/>
<path d="M1202.5 483.0L1200.1 482.5M1200.1 482.5L1197.7 481.9M1197.7 481.9L1195.6 480.7M1195.6 480.7L1194.1 480.9M1194.1 480.9L1192.8 481.4M1192.8 481.4L1191.5 482.1M1191.5 482.1L1190.8 482.6M1190.8 482.6L1190.2 483.2M1190.2 483.2L1189.7 483.9M1189.7 483.9L1188.4 485.9M1189.7 483.9L1187.6 484.8M1191.5 482.1L1190.9 481.7M1190.9 481.7L1190.2 481.5M1190.2 481.5L1189.6 481.1M1189.6 481.1L1188.2 481.4M1189.6 481.1L1188.0 479.8M1195.6 480.7L1194.3 479.9M1194.3 479.9L1193.3 478.7M1193.3 478.7L1191.9 478.2M1191.9 478.2L1191.1 478.0M1191.1 478.0L1190.5 477.6M1190.5 477.6L1189.7 477.6M1189.7 477.6L1187.4 478.4M1189.7 477.6L1188.3 476.1M1191.9 478.2L1191.8 477.3M1191.8 477.3L1191.7 476.4M1191.7 476.4L1191.2 475.7M1191.2 475.7L1189.8 474.4M1191.2 475.7L1191.2 474.2M1202.5 483.0L1202.4 480.6M1202.4 480.6L1202.0 478.1M1202.0 478.1L1200.7 476.1M1200.7 476.1L1199.5 474.9M1199.5 474.9L1198.2 473.9M1198.2 473.9L1196.6 473.5M1196.6 473.5L1195.5 473.8M1195.5 473.8L1194.5 473.8M1194.5 473.8L1193.5 474.1M1193.5 474.1L1191.8 475.1M1193.5 474.1L1192.0 473.9M1196.6 473.5L1196.1 472.7M1196.1 472.7L1195.8 471.8M1195.8 471.8L1195.1 471.2M1195.1 471.2L1193.3 470.4M1195.1 471.2L1194.8 469.8M1200.7 476.1L1201.0 474.7M1201.0 474.7L1201.1 473.3M1201.1 473.3L1200.7 471.9M1200.7 471.9L1200.2 471.4M1200.2 471.4L1200.0 470.7M1200.0 470.7L1199.9 470.0M1199.9 470.0L1198.4 468.4M1199.9 470.0L1199.9 468.1M1200.7 471.9L1201.3 471.4M1201.3 471.4L1201.7 470.8M1201.7 470.8L1202.4 470.3M1202.4 470.3L1202.5 468.6M1202.4 470.3L1204.3 469.3M1202.5 483.0L1203.0 480.6M1203.0 480.6L1203.2 478.2M1203.2 478.2L1204.4 476.0M1204.4 476.0L1204.0 474.5M1204.0 474.5L1203.9 472.9M1203.9 472.9L1203.2 471.4M1203.2 471.4L1203.0 470.6M1203.0 470.6L1202.2 470.2M1202.2 470.2L1201.8 469.4M1201.8 469.4L1199.6 468.5M1201.8 469.4L1201.5 467.2M1203.2 471.4L1203.3 470.4M1203.3 470.4L1203.5 469.4M1203.5 469.4L1203.9 468.5M1203.9 468.5L1203.3 466.9M1203.9 468.5L1204.8 467.2M1204.4 476.0L1205.4 475.3M1205.4 475.3L1206.2 474.4M1206.2 474.4L1207.3 473.7M1207.3 473.7L1207.7 473.1M1207.7 473.1L1208.2 472.6M1208.2 472.6L1208.8 472.0M1208.8 472.0L1208.7 469.7M1208.8 472.0L1210.2 470.8M1207.3 473.7L1208.0 473.4M1208.0 473.4L1208.7 473.0M1208.7 473.0L1209.4 472.8M1209.4 472.8L1210.8 470.9M1209.4 472.8L1211.0 472.7M1202.5 483.0L1204.9 483.3M1204.9 483.3L1207.1 482.1M1207.1 482.1L1209.4 481.3M1209.4 481.3L1210.2 480.4M1210.2 480.4L1211.0 479.5M1211.0 479.5L1212.2 479.1M1212.2 479.1L1212.2 478.3M1212.2 478.3L1212.4 477.6M1212.4 477.6L1212.3 476.8M1212.3 476.8L1211.9 474.5M1212.3 476.8L1213.4 474.7M1212.2 479.1L1212.9 479.1M1212.9 479.1L1213.5 478.7M1213.5 478.7L1214.2 478.5M1214.2 478.5L1215.5 477.4M1214.2 478.5L1215.6 478.9M1209.4 481.3L1210.7 481.2M1210.7 481.2L1212.0 481.2M1212.0 481.2L1213.1 481.8M1213.1 481.8L1213.8 481.8M1213.8 481.8L1214.4 481.5M1214.4 481.5L1215.0 481.1M1215.0 481.1L1216.3 479.3M1215.0 481.1L1217.0 481.4M1213.1 481.8L1213.5 482.6M1213.5 482.6L1214.0 483.3M1214.0 483.3L1214.6 483.9M1214.6 483.9L1216.1 484.5M1214.6 483.9L1215.0 485.8M1202.5 483.0L1204.8 483.8M1204.8 483.8L1206.5 485.6M1206.5 485.6L1208.8 486.4M1208.8 486.4L1210.4 486.0M1210.4 486.0L1212.0 485.8M1212.0 485.8L1213.6 485.3M1213.6 485.3L1214.5 484.9M1214.5 484.9L1215.1 484.2M1215.1 484.2L1215.8 483.6M1215.8 483.6L1216.4 482.1M1215.8 483.6L1218.2 483.2M1213.6 485.3L1214.4 485.6M1214.4 485.6L1215.3 485.5M1215.3 485.5L1216.0 485.9M1216.0 485.9L1217.9 485.5M1216.0 485.9L1217.7 487.0M1208.8 486.4L1209.5 487.4M1209.5 487.4L1209.9 488.5M1209.9 488.5L1210.5 489.6M1210.5 489.6L1211.3 489.6M1211.3 489.6L1212.1 489.7M1212.1 489.7L1212.9 489.9M1212.9 489.9L1214.4 489.5M1212.9 489.9L1214.0 491.4M1210.5 489.6L1210.4 490.3M1210.4 490.3L1210.2 490.9M1210.2 490.9L1210.4 491.5M1210.4 491.5L1211.5 492.9M1210.4 491.5L1209.9 493.3M1202.5 483.0L1201.9 485.4M1201.9 485.4L1201.0 487.7M1201.0 487.7L1200.7 490.1M1200.7 490.1L1201.7 491.2M1201.7 491.2L1202.7 492.4M1202.7 492.4L1203.5 493.6M1203.5 493.6L1204.2 494.1M1204.2 494.1L1204.9 494.6M1204.9 494.6L1205.6 495.0M1205.6 495.0L1207.7 495.1M1205.6 495.0L1206.6 496.5M1203.5 493.6L1203.4 494.5M1203.4 494.5L1203.7 495.4M1203.7 495.4L1203.7 496.3M1203.7 496.3L1204.5 498.3M1203.7 496.3L1202.7 498.5M1200.7 490.1L1199.8 491.3M1199.8 491.3L1199.3 492.7M1199.3 492.7L1198.6 494.1M1198.6 494.1L1198.9 494.9M1198.9 494.9L1199.3 495.7M1199.3 495.7L1198.9 496.5M1198.9 496.5L1199.9 497.9M1198.9 496.5L1197.9 498.7M1198.6 494.1L1197.9 494.5M1197.9 494.5L1197.2 494.8M1197.2 494.8L1196.3 495.0M1196.3 495.0L1195.4 496.1M1196.3 495.0L1194.0 494.7M1202.5 483.0L1200.5 484.4M1200.5 484.4L1198.3 485.5M1198.3 485.5L1196.3 486.9M1196.3 486.9L1195.7 488.1M1195.7 488.1L1195.0 489.3M1195.0 489.3L1194.3 490.4M1194.3 490.4L1194.3 491.3M1194.3 491.3L1194.6 492.2M1194.6 492.2L1194.5 493.1M1194.5 493.1L1195.4 494.2M1194.5 493.1L1193.8 494.7M1194.3 490.4L1193.5 490.8M1193.5 490.8L1192.7 491.3M1192.7 491.3L1192.1 491.9M1192.1 491.9L1191.3 493.5M1192.1 491.9L1190.3 492.1M1196.3 486.9L1195.0 487.8M1195.0 487.8L1193.5 488.0M1193.5 488.0L1192.0 488.5M1192.0 488.5L1191.5 489.4M1191.5 489.4L1190.7 489.9M1190.7 489.9L1190.0 490.6M1190.0 490.6L1189.7 492.0M1190.0 490.6L1188.7 491.3M1192.0 488.5L1191.2 488.8M1191.2 488.8L1190.4 489.0M1190.4 489.0L1189.6 489.2M1189.6 489.2L1188.3 489.9M1189.6 489.2L1188.2 488.5M1218.0 482.5L1219.9 483.4M1218.1 484.3L1219.8 484.1M1217.0 485.9L1220.6 485.2M1217.5 487.3L1219.3 485.7M1216.2 489.0L1218.8 489.2M1216.1 491.0L1216.4 493.6M1214.9 493.0L1216.6 493.4M1213.9 494.3L1214.0 495.6M1211.9 495.3L1210.8 498.0M1211.5 496.2L1214.0 496.3M1209.3 496.5L1208.4 499.3M1207.4 497.7L1207.2 500.1M1206.5 498.3L1204.4 500.6M1204.2 498.8L1204.5 499.9M1203.4 498.1L1201.7 500.0M1201.3 498.4L1199.7 500.8M1199.1 497.4L1198.7 499.7M1197.6 498.3L1199.0 500.0M1196.9 496.8L1195.5 499.5M1195.0 496.8L1195.6 499.0M1193.7 496.1L1191.6 497.3M1191.1 494.3L1191.8 496.2M1190.9 493.1L1190.4 495.5M1189.5 492.5L1188.5 493.7M1188.5 490.2L1185.9 489.8M1188.7 488.9L1185.9 488.8M1187.2 487.7L1186.6 489.3M1187.8 485.6L1185.8 487.0M1187.0 484.6L1185.2 486.7M1187.3 481.8L1185.2 479.6M1187.9 480.6L1185.1 481.9M1188.2 478.4L1186.2 478.0M1187.8 477.3L1186.2 478.2M1189.3 476.2L1187.9 473.1M1190.1 473.6L1189.4 472.2M1190.5 473.3L1190.3 470.1M1192.4 471.9L1192.0 469.5M1193.4 470.9L1192.6 468.4M1195.3 470.2L1194.4 466.9M1196.8 468.5L1194.8 467.0M1197.5 467.8L1199.1 466.0M1199.2 468.0L1199.3 465.1M1201.3 468.3L1199.2 465.9M1203.0 466.9L1205.3 465.9M1205.2 468.3L1206.9 465.5M1205.7 468.4L1208.2 466.2M1207.7 468.1L1206.5 465.7M1209.6 469.7L1210.4 467.7M1210.6 469.3L1213.2 469.7M1213.2 471.2L1216.2 471.8M1212.9 471.9L1213.2 469.0M1215.2 473.5L1215.0 470.7M1215.9 474.4L1217.5 472.7M1216.5 475.5L1216.9 472.5M1216.9 478.1L1219.8 477.5M1217.5 480.3L1219.7 480.1M1217.6 480.7L1219.3 478.7" fill="none" stroke="#303030" stroke-width="0.58"/>
<path d="M1198.8 516.0L1197.9 513.7M1197.9 513.7L1197.1 511.4M1197.1 511.4L1196.1 509.2M1196.1 509.2L1195.0 508.4M1195.0 508.4L1194.4 507.1M1194.4 507.1L1193.3 506.3M1193.3 506.3L1192.7 505.9M1192.7 505.9L1192.2 505.3M1192.2 505.3L1191.5 505.1M1191.5 505.1L1189.8 504.7M1191.5 505.1L1190.4 503.5M1193.3 506.3L1193.4 505.5M1193.4 505.5L1193.2 504.7M1193.2 504.7L1193.2 503.8M1193.2 503.8L1192.3 502.1M1193.2 503.8L1193.7 502.0M1196.1 509.2L1196.2 507.7M1196.2 507.7L1196.4 506.2M1196.4 506.2L1197.2 504.9M1197.2 504.9L1197.1 504.1M1197.1 504.1L1196.8 503.3M1196.8 503.3L1196.8 502.5M1196.8 502.5L1195.4 501.5M1196.8 502.5L1196.7 501.0M1197.2 504.9L1198.0 504.4M1198.0 504.4L1198.5 503.6M1198.5 503.6L1199.2 503.0M1199.2 503.0L1199.5 501.1M1199.2 503.0L1200.6 502.1M1198.8 516.0L1200.8 514.7M1200.8 514.7L1202.6 513.0M1202.6 513.0L1204.8 511.9M1204.8 511.9L1205.2 510.6M1205.2 510.6L1205.0 509.3M1205.0 509.3L1205.1 507.9M1205.1 507.9L1204.7 507.4M1204.7 507.4L1204.3 506.8M1204.3 506.8L1204.1 506.1M1204.1 506.1L1202.5 504.9M1204.1 506.1L1204.0 503.9M1205.1 507.9L1205.9 507.5M1205.9 507.5L1206.4 506.9M1206.4 506.9L1206.8 506.2M1206.8 506.2L1207.5 504.7M1206.8 506.2L1208.7 505.1M1204.8 511.9L1206.1 511.3M1206.1 511.3L1207.2 510.4M1207.2 510.4L1208.5 509.8M1208.5 509.8L1209.2 509.2M1209.2 509.2L1209.6 508.3M1209.6 508.3L1210.1 507.6M1210.1 507.6L1210.2 505.6M1210.1 507.6L1211.6 506.9M1208.5 509.8L1209.2 510.1M1209.2 510.1L1209.9 510.0M1209.9 510.0L1210.6 510.1M1210.6 510.1L1212.5 509.4M1210.6 510.1L1212.0 510.8M1198.8 516.0L1201.1 516.7M1201.1 516.7L1203.3 517.7M1203.3 517.7L1205.8 517.6M1205.8 517.6L1206.6 516.6M1206.6 516.6L1208.0 516.2M1208.0 516.2L1209.2 515.7M1209.2 515.7L1209.5 514.9M1209.5 514.9L1209.9 514.0M1209.9 514.0L1210.3 513.2M1210.3 513.2L1210.2 511.6M1210.3 513.2L1211.6 511.7M1209.2 515.7L1210.1 515.5M1210.1 515.5L1210.9 515.3M1210.9 515.3L1211.8 515.4M1211.8 515.4L1213.9 514.1M1211.8 515.4L1213.8 516.7M1205.8 517.6L1206.8 518.9M1206.8 518.9L1208.3 519.5M1208.3 519.5L1209.3 520.7M1209.3 520.7L1210.1 520.7M1210.1 520.7L1210.8 521.1M1210.8 521.1L1211.7 521.1M1211.7 521.1L1213.3 520.4M1211.7 521.1L1213.1 522.1M1209.3 520.7L1209.4 521.7M1209.4 521.7L1210.2 522.3M1210.2 522.3L1210.6 523.1M1210.6 523.1L1212.1 524.8M1210.6 523.1L1211.0 525.1M1198.8 516.0L1200.8 517.3M1200.8 517.3L1201.9 519.5M1201.9 519.5L1202.9 521.7M1202.9 521.7L1204.2 521.7M1204.2 521.7L1205.3 522.1M1205.3 522.1L1206.5 522.5M1206.5 522.5L1207.3 522.3M1207.3 522.3L1208.1 522.4M1208.1 522.4L1208.8 521.9M1208.8 521.9L1209.9 520.9M1208.8 521.9L1210.9 522.8M1206.5 522.5L1206.8 523.1M1206.8 523.1L1207.2 523.7M1207.2 523.7L1207.7 524.1M1207.7 524.1L1209.5 524.9M1207.7 524.1L1208.0 525.6M1202.9 521.7L1203.8 523.0M1203.8 523.0L1204.5 524.6M1204.5 524.6L1204.9 526.1M1204.9 526.1L1205.6 526.9M1205.6 526.9L1206.6 527.4M1206.6 527.4L1206.9 528.4M1206.9 528.4L1209.1 528.9M1206.9 528.4L1207.6 529.7M1204.9 526.1L1204.4 526.9M1204.4 526.9L1204.4 527.8M1204.4 527.8L1204.4 528.7M1204.4 528.7L1205.0 530.5M1204.4 528.7L1203.5 530.0M1198.8 516.0L1197.7 518.2M1197.7 518.2L1196.5 520.4M1196.5 520.4L1196.1 522.8M1196.1 522.8L1196.4 524.1M1196.4 524.1L1197.0 525.3M1197.0 525.3L1197.3 526.6M1197.3 526.6L1197.9 527.0M1197.9 527.0L1198.6 527.1M1198.6 527.1L1199.0 527.7M1199.0 527.7L1200.9 528.1M1199.0 527.7L1200.2 529.0M1197.3 526.6L1197.2 527.4M1197.2 527.4L1197.4 528.1M1197.4 528.1L1197.6 528.8M1197.6 528.8L1198.3 530.2M1197.6 528.8L1196.8 530.5M1196.1 522.8L1195.3 523.8M1195.3 523.8L1194.5 524.8M1194.5 524.8L1193.9 525.9M1193.9 525.9L1194.0 526.7M1194.0 526.7L1193.7 527.4M1193.7 527.4L1193.5 528.1M1193.5 528.1L1194.4 529.9M1193.5 528.1L1192.8 529.7M1193.9 525.9L1193.2 526.2M1193.2 526.2L1192.7 526.6M1192.7 526.6L1192.0 526.9M1192.0 526.9L1190.1 528.3M1192.0 526.9L1189.6 526.6M1198.8 516.0L1196.7 517.3M1196.7 517.3L1194.2 517.3M1194.2 517.3L1192.0 518.3M1192.0 518.3L1191.2 519.5M1191.2 519.5L1190.4 520.7M1190.4 520.7L1189.1 521.2M1189.1 521.2L1188.6 521.9M1188.6 521.9L1188.2 522.6M1188.2 522.6L1188.0 523.4M1188.0 523.4L1187.9 525.7M1188.0 523.4L1186.4 525.1M1189.1 521.2L1188.3 521.2M1188.3 521.2L1187.6 521.3M1187.6 521.3L1186.9 521.7M1186.9 521.7L1185.7 522.7M1186.9 521.7L1185.4 521.3M1192.0 518.3L1190.5 517.8M1190.5 517.8L1189.2 516.8M1189.2 516.8L1187.7 516.2M1187.7 516.2L1186.8 516.7M1186.8 516.7L1185.8 517.2M1185.8 517.2L1184.8 517.5M1184.8 517.5L1182.9 518.6M1184.8 517.5L1183.4 517.2M1187.7 516.2L1187.0 515.8M1187.0 515.8L1186.7 515.0M1186.7 515.0L1186.0 514.5M1186.0 514.5L1184.5 514.2M1186.0 514.5L1185.4 513.0M1198.8 516.0L1196.4 515.2M1196.4 515.2L1194.1 514.4M1194.1 514.4L1192.3 512.7M1192.3 512.7L1191.3 513.4M1191.3 513.4L1190.0 513.4M1190.0 513.4L1188.8 513.6M1188.8 513.6L1188.3 514.3M1188.3 514.3L1187.8 515.0M1187.8 515.0L1187.2 515.6M1187.2 515.6L1185.9 517.5M1187.2 515.6L1185.1 516.1M1188.8 513.6L1188.1 513.6M1188.1 513.6L1187.4 513.4M1187.4 513.4L1186.7 513.1M1186.7 513.1L1184.5 513.5M1186.7 513.1L1184.9 511.8M1192.3 512.7L1191.4 511.4M1191.4 511.4L1190.3 510.3M1190.3 510.3L1189.2 509.1M1189.2 509.1L1188.6 508.4M1188.6 508.4L1187.9 507.9M1187.9 507.9L1187.3 507.2M1187.3 507.2L1185.4 507.3M1187.3 507.2L1186.1 505.2M1189.2 509.1L1189.3 508.0M1189.3 508.0L1189.0 507.0M1189.0 507.0L1188.6 506.0M1188.6 506.0L1187.0 504.7M1188.6 506.0L1188.9 504.3M1214.6 515.5L1215.7 517.7M1214.0 517.1L1216.0 515.0M1213.4 518.6L1215.7 517.7M1213.5 520.8L1215.9 521.6M1212.3 523.0L1215.3 523.0M1211.6 523.7L1213.7 524.9M1210.7 526.3L1212.7 526.5M1209.7 527.1L1209.7 530.5M1209.4 527.9L1210.8 528.1M1207.2 528.4L1209.8 529.5M1205.6 529.4L1204.4 532.7M1204.6 529.7L1206.8 531.2M1201.9 531.5L1199.7 533.5M1201.4 530.5L1200.3 533.1M1198.7 531.2L1199.2 534.1M1197.3 531.7L1196.8 533.8M1196.1 530.7L1193.3 532.6M1193.3 530.9L1195.1 533.5M1192.3 530.7L1191.0 531.8M1190.9 529.3L1189.7 531.3M1189.4 529.0L1188.0 529.8M1188.0 526.6L1188.5 529.7M1187.8 526.3L1187.8 529.7M1185.7 524.3L1182.6 523.4M1185.5 523.5L1182.0 523.0M1184.6 521.3L1182.9 524.7M1184.0 520.8L1183.3 523.1M1183.7 517.8L1181.6 516.1M1182.9 517.4L1181.5 518.8M1183.8 514.7L1180.6 516.7M1184.0 514.2L1180.6 515.1M1184.0 512.2L1182.4 511.3M1184.0 510.1L1182.0 509.3M1184.7 508.2L1184.8 505.6M1186.6 507.5L1185.5 505.1M1188.1 505.8L1187.4 503.1M1189.0 504.7L1187.8 502.4M1189.8 503.6L1190.4 500.4M1191.7 502.6L1189.3 500.5M1192.4 502.1L1189.1 500.8M1194.7 500.7L1193.9 499.1M1196.1 500.4L1193.5 499.1M1197.4 500.9L1199.3 498.5M1198.7 500.0L1199.8 498.6M1201.2 500.4L1200.1 498.2M1202.7 501.3L1201.5 498.1M1203.4 501.9L1202.1 499.3M1205.6 502.1L1204.4 499.4M1206.3 503.4L1206.9 500.3M1208.5 504.3L1210.1 502.0M1209.8 504.7L1211.4 503.8M1210.8 507.4L1212.4 505.3M1211.2 508.0L1214.1 507.7M1213.4 509.9L1214.7 507.6M1213.2 510.3L1214.6 507.1M1213.6 512.6L1216.5 513.6M1214.5 514.7L1215.7 515.6" fill="none" stroke="#303030" stroke-width="0.58"/>
<path d="M1193.8 550.0L1195.8 548.7M1195.8 548.7L1197.8 547.2M1197.8 547.2L1200.2 547.0M1200.2 547.0L1201.6 546.3M1201.6 546.3L1202.5 545.1M1202.5 545.1L1203.8 544.3M1203.8 544.3L1204.2 543.6M1204.2 543.6L1204.3 542.8M1204.3 542.8L1204.7 542.2M1204.7 542.2L1204.6 539.8M1204.7 542.2L1206.3 540.7M1203.8 544.3L1204.8 544.4M1204.8 544.4L1205.8 544.4M1205.8 544.4L1206.8 544.3M1206.8 544.3L1207.9 543.3M1206.8 544.3L1209.1 544.8M1200.2 547.0L1201.8 547.0M1201.8 547.0L1203.3 547.1M1203.3 547.1L1204.8 546.8M1204.8 546.8L1205.7 546.5M1205.7 546.5L1206.6 546.4M1206.6 546.4L1207.4 546.0M1207.4 546.0L1208.4 544.6M1207.4 546.0L1209.3 546.4M1204.8 546.8L1205.4 547.4M1205.4 547.4L1206.2 547.6M1206.2 547.6L1206.9 548.0M1206.9 548.0L1209.2 548.5M1206.9 548.0L1207.8 549.5M1193.8 550.0L1196.1 550.8M1196.1 550.8L1198.1 552.1M1198.1 552.1L1200.1 553.6M1200.1 553.6L1201.5 553.4M1201.5 553.4L1202.9 553.2M1202.9 553.2L1204.2 553.8M1204.2 553.8L1205.0 553.2M1205.0 553.2L1205.6 552.6M1205.6 552.6L1206.4 552.2M1206.4 552.2L1207.5 550.1M1206.4 552.2L1208.5 552.2M1204.2 553.8L1205.1 554.2M1205.1 554.2L1205.6 554.9M1205.6 554.9L1206.3 555.5M1206.3 555.5L1207.8 555.8M1206.3 555.5L1207.3 557.1M1200.1 553.6L1201.1 554.7M1201.1 554.7L1202.1 555.7M1202.1 555.7L1203.2 556.6M1203.2 556.6L1203.8 557.0M1203.8 557.0L1204.5 557.3M1204.5 557.3L1205.2 557.5M1205.2 557.5L1207.0 557.1M1205.2 557.5L1206.3 558.6M1203.2 556.6L1203.4 557.3M1203.4 557.3L1203.3 558.1M1203.3 558.1L1203.5 558.8M1203.5 558.8L1204.5 560.6M1203.5 558.8L1202.7 560.4M1193.8 550.0L1194.9 552.2M1194.9 552.2L1196.2 554.3M1196.2 554.3L1196.2 556.7M1196.2 556.7L1197.6 557.4M1197.6 557.4L1198.4 558.8M1198.4 558.8L1199.7 559.6M1199.7 559.6L1200.7 559.7M1200.7 559.7L1201.7 560.0M1201.7 560.0L1202.4 560.7M1202.4 560.7L1204.6 560.8M1202.4 560.7L1203.8 561.7M1199.7 559.6L1199.8 560.4M1199.8 560.4L1200.2 561.0M1200.2 561.0L1200.2 561.8M1200.2 561.8L1202.1 563.4M1200.2 561.8L1199.9 564.1M1196.2 556.7L1195.4 557.9M1195.4 557.9L1194.7 559.1M1194.7 559.1L1194.0 560.3M1194.0 560.3L1194.1 561.1M1194.1 561.1L1193.9 561.8M1193.9 561.8L1194.2 562.5M1194.2 562.5L1195.5 564.1M1194.2 562.5L1193.5 564.4M1194.0 560.3L1193.3 560.8M1193.3 560.8L1192.6 561.4M1192.6 561.4L1191.9 562.0M1191.9 562.0L1191.1 563.4M1191.9 562.0L1189.6 562.6M1193.8 550.0L1192.7 552.2M1192.7 552.2L1190.8 553.8M1190.8 553.8L1188.6 554.9M1188.6 554.9L1188.7 556.2M1188.7 556.2L1188.6 557.6M1188.6 557.6L1188.4 558.9M1188.4 558.9L1188.8 559.7M1188.8 559.7L1189.2 560.5M1189.2 560.5L1189.4 561.4M1189.4 561.4L1191.1 562.7M1189.4 561.4L1189.7 563.4M1188.4 558.9L1187.9 559.5M1187.9 559.5L1187.3 559.8M1187.3 559.8L1186.7 560.2M1186.7 560.2L1186.2 561.8M1186.7 560.2L1184.8 561.3M1188.6 554.9L1187.5 556.0M1187.5 556.0L1186.2 556.7M1186.2 556.7L1185.0 557.7M1185.0 557.7L1184.7 558.4M1184.7 558.4L1184.0 558.9M1184.0 558.9L1183.5 559.5M1183.5 559.5L1183.0 561.3M1183.5 559.5L1181.8 560.1M1185.0 557.7L1184.1 557.4M1184.1 557.4L1183.2 557.1M1183.2 557.1L1182.4 556.7M1182.4 556.7L1180.1 557.4M1182.4 556.7L1180.5 555.9M1193.8 550.0L1191.6 548.8M1191.6 548.8L1189.2 548.2M1189.2 548.2L1186.8 548.6M1186.8 548.6L1185.4 549.3M1185.4 549.3L1184.0 549.9M1184.0 549.9L1182.6 550.6M1182.6 550.6L1182.4 551.5M1182.4 551.5L1181.9 552.3M1181.9 552.3L1181.3 553.0M1181.3 553.0L1181.1 554.7M1181.3 553.0L1179.9 554.2M1182.6 550.6L1181.7 550.8M1181.7 550.8L1180.8 551.0M1180.8 551.0L1179.9 550.7M1179.9 550.7L1178.6 551.5M1179.9 550.7L1178.6 549.8M1186.8 548.6L1185.5 547.9M1185.5 547.9L1184.6 546.7M1184.6 546.7L1183.8 545.5M1183.8 545.5L1183.1 545.2M1183.1 545.2L1182.5 544.8M1182.5 544.8L1181.8 544.6M1181.8 544.6L1180.1 544.6M1181.8 544.6L1179.9 543.1M1183.8 545.5L1183.4 544.7M1183.4 544.7L1183.0 544.0M1183.0 544.0L1183.1 543.2M1183.1 543.2L1181.8 541.8M1183.1 543.2L1183.8 541.8M1193.8 550.0L1192.6 547.8M1192.6 547.8L1191.3 545.8M1191.3 545.8L1189.7 543.9M1189.7 543.9L1188.3 543.2M1188.3 543.2L1187.0 542.2M1187.0 542.2L1185.4 542.1M1185.4 542.1L1184.5 542.4M1184.5 542.4L1183.6 542.4M1183.6 542.4L1182.8 542.8M1182.8 542.8L1181.7 543.7M1182.8 542.8L1180.7 542.4M1185.4 542.1L1185.0 541.2M1185.0 541.2L1184.3 540.5M1184.3 540.5L1183.8 539.7M1183.8 539.7L1181.9 539.0M1183.8 539.7L1183.4 537.7M1189.7 543.9L1189.5 542.4M1189.5 542.4L1189.7 540.8M1189.7 540.8L1189.9 539.3M1189.9 539.3L1189.5 538.3M1189.5 538.3L1188.6 537.8M1188.6 537.8L1187.9 537.2M1187.9 537.2L1185.8 536.1M1187.9 537.2L1187.5 535.6M1189.9 539.3L1190.2 538.6M1190.2 538.6L1190.7 537.9M1190.7 537.9L1191.2 537.3M1191.2 537.3L1191.2 535.8M1191.2 537.3L1193.2 536.1M1193.8 550.0L1193.6 547.6M1193.6 547.6L1194.8 545.4M1194.8 545.4L1194.4 543.0M1194.4 543.0L1193.8 541.7M1193.8 541.7L1193.7 540.2M1193.7 540.2L1193.1 538.9M1193.1 538.9L1192.3 538.6M1192.3 538.6L1191.6 538.2M1191.6 538.2L1191.1 537.6M1191.1 537.6L1188.9 537.1M1191.1 537.6L1190.2 535.6M1193.1 538.9L1193.4 538.1M1193.4 538.1L1193.3 537.3M1193.3 537.3L1193.5 536.5M1193.5 536.5L1192.8 534.5M1193.5 536.5L1194.7 535.0M1194.4 543.0L1194.8 541.8M1194.8 541.8L1195.1 540.5M1195.1 540.5L1196.0 539.6M1196.0 539.6L1196.3 538.9M1196.3 538.9L1196.4 538.1M1196.4 538.1L1196.7 537.4M1196.7 537.4L1196.2 535.5M1196.7 537.4L1197.9 535.6M1196.0 539.6L1196.8 539.5M1196.8 539.5L1197.6 539.4M1197.6 539.4L1198.4 539.4M1198.4 539.4L1199.6 538.2M1198.4 539.4L1200.3 539.3M1208.6 550.2L1211.2 551.0M1208.5 552.1L1211.3 550.1M1208.7 552.8L1210.4 555.6M1208.8 554.8L1210.7 553.3M1207.7 556.9L1209.9 558.1M1207.6 558.0L1209.8 558.0M1205.7 559.7L1206.3 562.5M1204.6 560.5L1205.9 561.8M1202.9 561.7L1203.3 565.5M1201.4 562.8L1202.2 564.9M1200.6 564.2L1199.5 566.3M1199.7 564.3L1201.8 565.5M1197.8 565.3L1196.1 567.8M1196.0 565.9L1196.4 567.4M1194.0 564.8L1194.9 567.6M1192.0 565.1L1190.3 567.0M1190.4 564.4L1190.7 567.2M1189.4 564.6L1190.1 567.2M1187.1 564.1L1187.7 566.1M1186.6 563.8L1184.9 565.3M1185.1 562.1L1184.1 564.0M1183.6 561.9L1184.6 564.6M1183.0 560.3L1182.0 563.7M1180.6 559.3L1179.2 559.5M1179.9 557.9L1178.6 559.2M1179.8 555.5L1176.9 556.4M1178.7 553.8L1176.4 552.5M1178.2 552.9L1177.2 555.7M1178.7 550.3L1175.9 552.4M1178.2 548.5L1176.1 548.2M1178.1 548.0L1176.0 546.6M1178.6 545.7L1176.5 546.1M1179.8 544.6L1177.3 544.5M1179.8 542.2L1179.7 539.5M1181.8 540.8L1181.1 538.2M1182.2 540.5L1181.3 538.2M1184.1 538.5L1182.9 536.8M1184.0 537.2L1183.3 535.6M1185.7 536.1L1184.0 535.5M1187.9 535.5L1189.1 533.3M1188.7 536.1L1185.9 533.8M1191.3 534.9L1189.4 532.8M1192.4 534.3L1190.0 532.8M1194.9 534.0L1194.2 532.4M1196.1 534.4L1198.2 532.6M1196.8 535.1L1198.7 532.6M1199.2 535.4L1197.5 532.8M1200.1 535.9L1199.4 533.5M1202.1 537.6L1202.2 534.5M1203.2 538.0L1205.3 536.2M1205.0 538.6L1206.3 538.3M1206.0 540.5L1206.0 537.4M1207.2 541.8L1209.5 541.1M1207.1 543.6L1208.3 541.2M1207.7 544.7L1209.2 542.8M1208.0 546.2L1209.6 543.9M1208.8 548.6L1211.0 549.4" fill="none" stroke="#303030" stroke-width="0.58"/>
<path d="M1182.5 590.0L1180.0 592.6M1180.0 592.6L1179.0 596.1M1179.0 596.1L1178.1 599.6M1178.1 599.6L1177.7 601.9M1177.7 601.9L1178.2 604.2M1178.2 604.2L1178.4 606.5M1178.4 606.5L1178.6 607.6M1178.6 607.6L1179.3 608.5M1179.3 608.5L1179.8 609.6M1179.8 609.6L1182.1 611.9M1179.8 609.6L1180.2 612.4M1178.4 606.5L1178.0 607.5M1178.0 607.5L1177.6 608.6M1177.6 608.6L1176.8 609.5M1176.8 609.5L1176.1 612.9M1176.8 609.5L1174.2 611.3M1178.1 599.6L1176.0 600.8M1176.0 600.8L1173.8 601.5M1173.8 601.5L1171.8 602.7M1171.8 602.7L1170.8 603.6M1170.8 603.6L1169.9 604.6M1169.9 604.6L1168.8 605.4M1168.8 605.4L1168.0 608.4M1168.8 605.4L1166.5 606.5M1171.8 602.7L1170.6 602.8M1170.6 602.8L1169.5 603.3M1169.5 603.3L1168.3 603.1M1168.3 603.1L1165.4 605.0M1168.3 603.1L1165.3 601.7M1182.5 590.0L1179.1 588.8M1179.1 588.8L1175.4 588.9M1175.4 588.9L1171.8 588.9M1171.8 588.9L1170.2 590.8M1170.2 590.8L1168.8 592.8M1168.8 592.8L1166.5 593.7M1166.5 593.7L1165.8 595.1M1165.8 595.1L1165.2 596.5M1165.2 596.5L1165.2 598.0M1165.2 598.0L1166.4 601.3M1165.2 598.0L1162.9 600.2M1166.5 593.7L1165.2 593.5M1165.2 593.5L1163.9 593.5M1163.9 593.5L1162.7 594.0M1162.7 594.0L1160.8 595.8M1162.7 594.0L1160.4 593.4M1171.8 588.9L1170.0 587.7M1170.0 587.7L1168.3 586.4M1168.3 586.4L1166.5 585.2M1166.5 585.2L1165.2 585.5M1165.2 585.5L1163.8 585.4M1163.8 585.4L1162.5 585.3M1162.5 585.3L1160.1 587.2M1162.5 585.3L1159.9 584.6M1166.5 585.2L1165.6 584.0M1165.6 584.0L1165.1 582.7M1165.1 582.7L1164.8 581.3M1164.8 581.3L1162.7 580.0M1164.8 581.3L1164.9 578.2M1182.5 590.0L1181.4 586.5M1181.4 586.5L1179.5 583.4M1179.5 583.4L1178.2 580.0M1178.2 580.0L1177.2 578.4M1177.2 578.4L1175.8 577.3M1175.8 577.3L1174.5 575.9M1174.5 575.9L1173.5 575.6M1173.5 575.6L1172.5 575.7M1172.5 575.7L1171.6 575.2M1171.6 575.2L1169.1 576.2M1171.6 575.2L1169.2 573.6M1174.5 575.9L1174.3 575.0M1174.3 575.0L1173.7 574.3M1173.7 574.3L1173.4 573.4M1173.4 573.4L1172.1 571.4M1173.4 573.4L1173.8 570.1M1178.2 580.0L1179.1 577.9M1179.1 577.9L1179.7 575.8M1179.7 575.8L1180.0 573.5M1180.0 573.5L1179.5 572.5M1179.5 572.5L1179.2 571.3M1179.2 571.3L1178.3 570.6M1178.3 570.6L1175.8 569.6M1178.3 570.6L1177.8 567.0M1180.0 573.5L1180.8 572.5M1180.8 572.5L1181.1 571.2M1181.1 571.2L1181.9 570.2M1181.9 570.2L1181.8 567.3M1181.9 570.2L1184.2 568.1M1182.5 590.0L1184.5 586.9M1184.5 586.9L1187.4 584.8M1187.4 584.8L1189.6 581.9M1189.6 581.9L1190.3 580.2M1190.3 580.2L1190.7 578.4M1190.7 578.4L1190.8 576.6M1190.8 576.6L1190.7 575.4M1190.7 575.4L1190.4 574.3M1190.4 574.3L1190.3 573.2M1190.3 573.2L1187.6 571.8M1190.3 573.2L1189.7 570.4M1190.8 576.6L1191.6 576.0M1191.6 576.0L1192.4 575.5M1192.4 575.5L1192.7 574.6M1192.7 574.6L1193.8 571.9M1192.7 574.6L1195.6 572.8M1189.6 581.9L1191.4 580.6M1191.4 580.6L1193.1 579.1M1193.1 579.1L1195.2 578.2M1195.2 578.2L1196.1 577.3M1196.1 577.3L1197.0 576.5M1197.0 576.5L1197.8 575.5M1197.8 575.5L1197.7 572.2M1197.8 575.5L1200.0 573.8M1195.2 578.2L1196.5 577.5M1196.5 577.5L1197.9 577.2M1197.9 577.2L1199.3 577.6M1199.3 577.6L1201.6 576.6M1199.3 577.6L1202.5 578.2M1182.5 590.0L1186.1 590.8M1186.1 590.8L1189.6 590.1M1189.6 590.1L1193.2 589.3M1193.2 589.3L1194.6 587.5M1194.6 587.5L1196.7 586.8M1196.7 586.8L1198.3 585.3M1198.3 585.3L1199.3 584.5M1199.3 584.5L1199.5 583.1M1199.5 583.1L1200.1 581.9M1200.1 581.9L1200.2 578.9M1200.1 581.9L1202.6 579.7M1198.3 585.3L1199.7 585.7M1199.7 585.7L1201.1 585.9M1201.1 585.9L1202.3 585.2M1202.3 585.2L1204.4 583.7M1202.3 585.2L1204.9 586.8M1193.2 589.3L1195.0 589.5M1195.0 589.5L1196.9 589.9M1196.9 589.9L1198.3 591.1M1198.3 591.1L1199.4 591.0M1199.4 591.0L1200.4 591.3M1200.4 591.3L1201.4 591.7M1201.4 591.7L1203.9 590.2M1201.4 591.7L1204.3 593.4M1198.3 591.1L1198.6 592.0M1198.6 592.0L1199.3 592.7M1199.3 592.7L1199.4 593.7M1199.4 593.7L1201.2 595.4M1199.4 593.7L1199.5 596.5M1182.5 590.0L1184.8 592.8M1184.8 592.8L1187.5 595.3M1187.5 595.3L1189.1 598.6M1189.1 598.6L1190.8 600.1M1190.8 600.1L1192.5 601.5M1192.5 601.5L1194.6 602.4M1194.6 602.4L1195.8 602.8M1195.8 602.8L1197.0 602.4M1197.0 602.4L1198.3 602.1M1198.3 602.1L1201.6 600.8M1198.3 602.1L1201.0 602.9M1194.6 602.4L1194.9 603.8M1194.9 603.8L1195.9 604.8M1195.9 604.8L1196.7 605.9M1196.7 605.9L1198.5 607.8M1196.7 605.9L1196.5 608.0M1189.1 598.6L1188.5 600.5M1188.5 600.5L1188.0 602.5M1188.0 602.5L1187.8 604.6M1187.8 604.6L1188.6 605.4M1188.6 605.4L1188.9 606.4M1188.9 606.4L1189.6 607.3M1189.6 607.3L1191.5 609.4M1189.6 607.3L1189.5 609.6M1187.8 604.6L1187.1 605.5M1187.1 605.5L1186.3 606.4M1186.3 606.4L1185.7 607.4M1185.7 607.4L1184.9 610.6M1185.7 607.4L1182.4 608.6M1205.9 589.2L1207.6 586.7M1205.4 591.6L1209.3 593.3M1205.9 594.5L1207.7 594.1M1203.8 595.4L1207.1 597.6M1205.3 596.2L1206.7 599.5M1204.8 598.4L1207.5 598.5M1202.8 599.2L1207.9 599.1M1202.3 602.0L1205.8 602.9M1201.2 603.7L1204.4 603.8M1201.1 603.7L1204.5 604.3M1198.0 605.6L1202.5 607.8M1198.9 606.4L1197.8 610.2M1197.8 607.2L1202.4 608.1M1196.0 608.4L1197.0 611.6M1194.3 610.4L1193.2 613.1M1193.9 610.7L1192.2 613.3M1191.7 610.9L1194.6 613.5M1190.0 610.6L1194.6 613.1M1187.3 613.2L1186.4 616.4M1186.1 613.3L1188.2 614.6M1184.2 612.2L1182.6 615.9M1182.9 613.0L1185.3 616.3M1180.4 613.2L1182.8 615.3M1180.0 613.3L1181.2 615.3M1177.9 611.5L1174.1 614.4M1176.3 611.4L1173.4 614.2M1174.1 610.3L1173.1 615.0M1172.7 610.3L1170.8 614.3M1170.8 610.5L1168.0 611.7M1169.5 609.0L1167.2 610.9M1168.4 607.8L1165.7 610.7M1166.4 606.6L1165.2 609.8M1165.6 606.6L1163.4 608.3M1166.1 605.0L1164.0 608.0M1164.1 602.1L1162.0 605.1M1163.5 602.9L1163.0 606.8M1162.8 601.3L1162.2 605.2M1161.8 599.9L1157.5 598.7M1160.1 597.3L1156.4 595.0M1160.6 595.5L1156.6 594.3M1160.3 594.4L1157.2 594.9M1159.8 592.0L1157.0 591.8M1158.7 591.0L1156.0 590.4M1159.1 589.4L1157.2 592.6M1160.9 586.5L1157.0 582.8M1158.9 586.6L1157.5 585.1M1160.1 583.2L1158.2 580.0M1161.2 582.5L1157.1 583.5M1161.0 581.1L1158.5 580.5M1162.0 580.4L1158.1 580.0M1162.0 578.7L1159.1 576.7M1163.7 575.8L1160.8 576.2M1164.0 575.6L1163.8 571.3M1165.9 573.4L1163.1 573.2M1167.6 571.8L1167.9 569.3M1167.9 571.5L1166.7 568.6M1171.2 570.5L1166.9 568.6M1170.5 569.9L1172.2 566.7M1172.2 569.8L1171.9 566.3M1174.1 568.6L1171.9 565.5M1175.5 567.2L1172.5 566.6M1178.8 566.8L1176.7 564.8M1179.8 566.7L1175.8 565.0M1181.3 566.5L1182.0 564.2M1184.0 566.8L1184.4 563.2M1185.6 567.5L1189.2 565.4M1187.1 568.0L1188.0 565.0M1187.3 568.2L1185.8 563.5M1190.7 567.7L1190.1 565.3M1190.6 567.9L1190.2 564.6M1191.9 569.4L1192.3 565.7M1193.7 570.4L1196.9 568.8M1195.0 570.3L1198.2 568.7M1197.0 572.4L1196.2 567.4M1198.2 574.5L1201.6 572.7M1199.2 575.0L1201.3 572.1M1201.0 576.8L1206.5 577.6M1201.7 576.3L1202.7 572.8M1202.5 579.6L1206.2 580.8M1202.4 580.6L1207.3 580.5M1204.4 582.1L1208.3 582.1M1204.4 584.0L1207.8 581.9M1204.1 586.0L1208.6 583.4M1205.8 587.1L1208.8 587.5M1205.8 588.7L1208.3 592.4" fill="none" stroke="#303030" stroke-width="0.58"/>
<text x="441" y="439.5" class="cn" text-anchor="middle">露台</text>
<text x="423 429 435 441 447 453 459" y="451" class="en" text-anchor="middle">Terrace</text>
<text x="425.05 430.15 435.25 440.35 445.45 450.55 455.65 462.6" y="458.5" class="sm" text-anchor="middle">S:15.06㎡</text>
<text x="425.05 430.15 435.25 440.35 445.45 450.55 455.65" y="467" class="sm" text-anchor="middle">C:16.80</text><text x="458.4" y="467" class="sm" textLength="4.8" lengthAdjust="spacingAndGlyphs">m</text>
<text x="544.5" y="439.5" class="cn" text-anchor="middle">阳光棚</text>
<text x="724.25" y="539.3" class="cn" text-anchor="middle">楼梯厅</text>
<text x="691.75 697.75 703.75 709.75 715.75 721.75 727.75 733.75 739.75 745.75 751.75 757.75 763.75 769.75" y="550.5" class="en" text-anchor="middle">Staircase hall</text>
<text x="709.55 714.65 719.75 724.85 729.95 735.05 742" y="560.5" class="sm" text-anchor="middle">S:3.52㎡</text>
<text x="709.55 714.65 719.75 724.85 729.95 735.05" y="568.75" class="sm" text-anchor="middle">C:7.52</text><text x="737.8" y="568.75" class="sm" textLength="4.8" lengthAdjust="spacingAndGlyphs">m</text>
<text x="940" y="457.8" class="cn" text-anchor="middle">次卧</text>
<text x="901.75 907.75 913.75 919.75 925.75 931.75 937.75 943.75 949.75 955.75 961.75 967.75 973.75 979.75 985.75" y="468.75" class="en" text-anchor="middle">Secondary lying</text>
<text x="923.8 928.9 934 939.1 944.2 949.3 956.25" y="480" class="sm" text-anchor="middle">S:8.90㎡</text>
<text x="923.8 928.9 934 939.1 944.2 949.3 954.4" y="488.25" class="sm" text-anchor="middle">C:11.94</text><text x="957.15" y="488.25" class="sm" textLength="4.8" lengthAdjust="spacingAndGlyphs">m</text>
<text x="938.75" y="574.3" class="cn" text-anchor="middle">起居室</text>
<text x="910.5 916.5 922.5 928.5 934.5 940.5 946.5 952.5 958.5 964.5 970.5" y="585" class="en" text-anchor="middle">Living room</text>
<text x="924.3 929.4 934.5 939.6 944.7 949.8 954.9 961.85" y="595.5" class="sm" text-anchor="middle">S:18.07㎡</text>
<text x="924.3 929.4 934.5 939.6 944.7 949.8 954.9" y="603.75" class="sm" text-anchor="middle">C:20.50</text><text x="957.65" y="603.75" class="sm" textLength="4.8" lengthAdjust="spacingAndGlyphs">m</text>
<text x="1125" y="435.8" class="cn" text-anchor="middle">休闲阳台</text>
<text x="1089.25 1095.25 1101.25 1107.25 1113.25 1119.25 1125.25 1131.25 1137.25 1143.25 1149.25 1155.25 1161.25 1167.25 1173.25" y="446" class="en" text-anchor="middle">Leisure balcony</text>
<text x="1103.8 1108.9 1114 1119.1 1124.2 1129.3 1136.25" y="453.75" class="sm" text-anchor="middle">S:6.74㎡</text>
<text x="1103.8 1108.9 1114 1119.1 1124.2 1129.3 1134.4" y="463" class="sm" text-anchor="middle">C:11.32</text><text x="1137.15" y="463" class="sm" textLength="4.8" lengthAdjust="spacingAndGlyphs">m</text>
<text x="688.75" y="799.8" class="cn" text-anchor="middle">套卫</text>
<text x="675.5 681.5 687.5 693.5 699.5" y="811" class="en" text-anchor="middle">Guard</text>
<text x="672.55 677.65 682.75 687.85 692.95 698.05 705" y="820" class="sm" text-anchor="middle">S:7.91㎡</text>
<text x="672.55 677.65 682.75 687.85 692.95 698.05 703.15" y="829.5" class="sm" text-anchor="middle">C:11.98</text><text x="705.9" y="829.5" class="sm" textLength="4.8" lengthAdjust="spacingAndGlyphs">m</text>
<text x="1045.5" y="426.3" class="cn2" text-anchor="middle">落地窗</text>
</svg>
</body></html>
